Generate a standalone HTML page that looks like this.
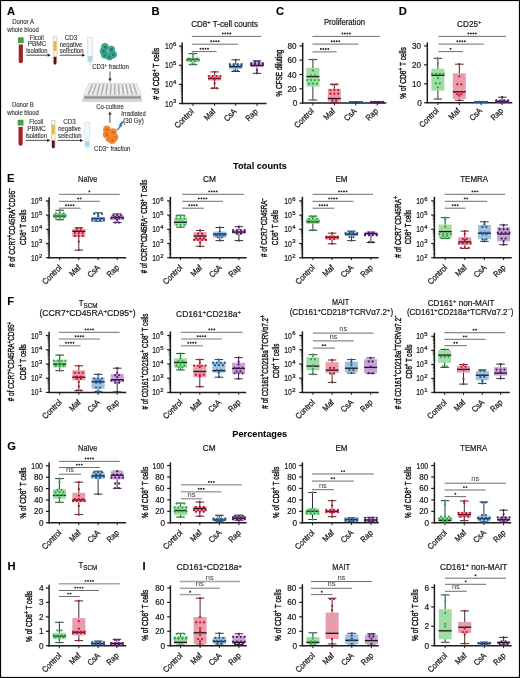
<!DOCTYPE html>
<html><head><meta charset="utf-8"><style>
html,body{margin:0;padding:0;background:#fff;}
svg{display:block;font-family:"Liberation Sans", sans-serif;will-change:transform;}
</style></head><body>
<svg width="520" height="678" viewBox="0 0 520 678">
<rect x="0" y="0" width="520" height="678" fill="#fff"/>
<text x="23.10" y="24.20" font-size="6.3" text-anchor="middle" fill="#333" stroke="#333" stroke-width="0.12" textLength="21.9" lengthAdjust="spacingAndGlyphs" ><tspan>Donor A</tspan></text>
<text x="23.00" y="31.50" font-size="6.3" text-anchor="middle" fill="#333" stroke="#333" stroke-width="0.12" textLength="31.5" lengthAdjust="spacingAndGlyphs" ><tspan>whole blood</tspan></text>
<rect x="17.90" y="37.20" width="5.8" height="6.0" rx="0.8" fill="#4e9e47"/>
<rect x="18.10" y="43.20" width="5.4" height="1.3" fill="#f3f3f3"/>
<path d="M18.70,44.60 h4.2 v16.6 a2.1,2.1 0 0 1 -4.2,0 Z" fill="#a3232b"/>
<text x="36.80" y="39.50" font-size="6.3" text-anchor="middle" fill="#333" stroke="#333" stroke-width="0.12" textLength="14.0" lengthAdjust="spacingAndGlyphs" ><tspan>Ficoll</tspan></text>
<text x="37.00" y="46.20" font-size="6.3" text-anchor="middle" fill="#333" stroke="#333" stroke-width="0.12" textLength="18.5" lengthAdjust="spacingAndGlyphs" ><tspan>PBMC</tspan></text>
<text x="36.90" y="52.50" font-size="6.3" text-anchor="middle" fill="#333" stroke="#333" stroke-width="0.12" textLength="21.2" lengthAdjust="spacingAndGlyphs" ><tspan>isolation</tspan></text>
<line x1="26.30" y1="55.20" x2="48.30" y2="55.20" stroke="#222" stroke-width="0.8" />
<path d="M50.80,55.20 L47.60,53.60 L47.60,56.80 Z" fill="#222"/>
<path d="M53.30,36.90 h3.5 v26.00 a1.75,1.75 0 0 1 -3.5,0 Z" fill="#fff" stroke="#9a9a9a" stroke-width="0.5"/>
<rect x="53.70" y="41.10" width="2.70" height="9.8" fill="#e9b73a"/>
<rect x="53.70" y="50.90" width="2.70" height="5.8" fill="#fbf3dc"/>
<path d="M53.70,56.70 h2.70 v6.40 a1.35,1.35 0 0 1 -2.70,0 Z" fill="#5a1018"/>
<text x="71.00" y="39.50" font-size="6.3" text-anchor="middle" fill="#333" stroke="#333" stroke-width="0.12" textLength="12.5" lengthAdjust="spacingAndGlyphs" ><tspan>CD3</tspan></text>
<text x="71.00" y="46.60" font-size="6.3" text-anchor="middle" fill="#333" stroke="#333" stroke-width="0.12" textLength="22.5" lengthAdjust="spacingAndGlyphs" ><tspan>negative</tspan></text>
<text x="71.60" y="52.80" font-size="6.3" text-anchor="middle" fill="#333" stroke="#333" stroke-width="0.12" textLength="23.8" lengthAdjust="spacingAndGlyphs" ><tspan>selection</tspan></text>
<line x1="59.70" y1="55.20" x2="82.70" y2="55.20" stroke="#222" stroke-width="0.8" />
<path d="M85.20,55.20 L82.00,53.60 L82.00,56.80 Z" fill="#222"/>
<rect x="87.60" y="37.40" width="5.0" height="24.5" fill="#f2f7fa" stroke="#c9d9e3" stroke-width="0.6"/>
<rect x="88.10" y="56.10" width="4.00" height="5.4" fill="#a9d8f2"/>
<path d="M89.40,61.90 h1.4 v3.3 h-1.4 Z" fill="#dde6ec"/>
<circle cx="104.80" cy="54.80" r="3.55" fill="#41ad96" stroke="#2a8c7b" stroke-width="0.6"/>
<circle cx="105.00" cy="55.00" r="1.67" fill="#167b6d"/>
<circle cx="109.40" cy="56.60" r="3.55" fill="#41ad96" stroke="#2a8c7b" stroke-width="0.6"/>
<circle cx="109.60" cy="56.80" r="1.67" fill="#167b6d"/>
<circle cx="113.10" cy="54.60" r="3.55" fill="#41ad96" stroke="#2a8c7b" stroke-width="0.6"/>
<circle cx="113.30" cy="54.80" r="1.67" fill="#167b6d"/>
<circle cx="103.50" cy="51.20" r="3.55" fill="#41ad96" stroke="#2a8c7b" stroke-width="0.6"/>
<circle cx="103.70" cy="51.40" r="1.67" fill="#167b6d"/>
<circle cx="111.20" cy="49.50" r="3.55" fill="#41ad96" stroke="#2a8c7b" stroke-width="0.6"/>
<circle cx="111.40" cy="49.70" r="1.67" fill="#167b6d"/>
<circle cx="104.90" cy="46.90" r="3.55" fill="#41ad96" stroke="#2a8c7b" stroke-width="0.6"/>
<circle cx="105.10" cy="47.10" r="1.67" fill="#167b6d"/>
<text x="110.50" y="69.10" font-size="6.3" text-anchor="middle" fill="#333" stroke="#333" stroke-width="0.12" textLength="36.6" lengthAdjust="spacingAndGlyphs" ><tspan>CD3</tspan><tspan dy="-1.89" font-size="4.54">+</tspan><tspan dy="1.89"> fraction</tspan></text>
<line x1="110.00" y1="71.50" x2="110.00" y2="79.30" stroke="#222" stroke-width="0.8" />
<path d="M110.00,81.80 L108.40,78.60 L111.60,78.60 Z" fill="#222"/>
<path d="M81.9,99.2 L142.5,99.2 L142.5,101.9 L81.9,101.9 Z" fill="#d9d9d9"/>
<path d="M83.6,95.6 L141.3,95.6 L141.3,99.4 L83.6,99.4 Z" fill="#bdbdbd"/>
<path d="M84.2,96.6 L140.8,96.6 L140.8,98.3 L84.2,98.3 Z" fill="#8f8f8f"/>
<path d="M88.8,83.1 L136.9,83.1 L141.3,95.6 L83.7,95.6 Z" fill="#ededed" stroke="#c4c4c4" stroke-width="0.5"/>
<line x1="92.46" y1="84.2" x2="88.21" y2="94.6" stroke="#adb2b2" stroke-width="1.6"/>
<line x1="96.17" y1="84.2" x2="92.62" y2="94.6" stroke="#adb2b2" stroke-width="1.6"/>
<line x1="99.89" y1="84.2" x2="97.04" y2="94.6" stroke="#adb2b2" stroke-width="1.6"/>
<line x1="103.61" y1="84.2" x2="101.46" y2="94.6" stroke="#adb2b2" stroke-width="1.6"/>
<line x1="107.32" y1="84.2" x2="105.88" y2="94.6" stroke="#adb2b2" stroke-width="1.6"/>
<line x1="111.04" y1="84.2" x2="110.29" y2="94.6" stroke="#adb2b2" stroke-width="1.6"/>
<line x1="114.76" y1="84.2" x2="114.71" y2="94.6" stroke="#adb2b2" stroke-width="1.6"/>
<line x1="118.47" y1="84.2" x2="119.12" y2="94.6" stroke="#adb2b2" stroke-width="1.6"/>
<line x1="122.19" y1="84.2" x2="123.54" y2="94.6" stroke="#adb2b2" stroke-width="1.6"/>
<line x1="125.91" y1="84.2" x2="127.96" y2="94.6" stroke="#adb2b2" stroke-width="1.6"/>
<line x1="129.62" y1="84.2" x2="132.38" y2="94.6" stroke="#adb2b2" stroke-width="1.6"/>
<line x1="133.34" y1="84.2" x2="136.79" y2="94.6" stroke="#adb2b2" stroke-width="1.6"/>
<text x="110.00" y="108.50" font-size="6.3" text-anchor="middle" fill="#333" stroke="#333" stroke-width="0.12" textLength="27.5" lengthAdjust="spacingAndGlyphs" ><tspan>Co-culture</tspan></text>
<text x="22.90" y="107.40" font-size="6.3" text-anchor="middle" fill="#333" stroke="#333" stroke-width="0.12" textLength="21.9" lengthAdjust="spacingAndGlyphs" ><tspan>Donor B</tspan></text>
<text x="23.00" y="114.90" font-size="6.3" text-anchor="middle" fill="#333" stroke="#333" stroke-width="0.12" textLength="31.5" lengthAdjust="spacingAndGlyphs" ><tspan>whole blood</tspan></text>
<rect x="17.70" y="119.70" width="5.8" height="6.0" rx="0.8" fill="#4e9e47"/>
<rect x="17.90" y="125.70" width="5.4" height="1.3" fill="#f3f3f3"/>
<path d="M18.50,127.10 h4.2 v16.6 a2.1,2.1 0 0 1 -4.2,0 Z" fill="#a3232b"/>
<text x="36.20" y="123.60" font-size="6.3" text-anchor="middle" fill="#333" stroke="#333" stroke-width="0.12" textLength="14.0" lengthAdjust="spacingAndGlyphs" ><tspan>Ficoll</tspan></text>
<text x="36.40" y="130.80" font-size="6.3" text-anchor="middle" fill="#333" stroke="#333" stroke-width="0.12" textLength="18.5" lengthAdjust="spacingAndGlyphs" ><tspan>PBMC</tspan></text>
<text x="36.30" y="137.90" font-size="6.3" text-anchor="middle" fill="#333" stroke="#333" stroke-width="0.12" textLength="21.2" lengthAdjust="spacingAndGlyphs" ><tspan>isolation</tspan></text>
<line x1="25.60" y1="140.40" x2="47.80" y2="140.40" stroke="#222" stroke-width="0.8" />
<path d="M50.30,140.40 L47.10,138.80 L47.10,142.00 Z" fill="#222"/>
<path d="M51.60,120.60 h3.5 v26.00 a1.75,1.75 0 0 1 -3.5,0 Z" fill="#fff" stroke="#9a9a9a" stroke-width="0.5"/>
<rect x="52.00" y="124.80" width="2.70" height="9.8" fill="#e9b73a"/>
<rect x="52.00" y="134.60" width="2.70" height="5.8" fill="#fbf3dc"/>
<path d="M52.00,140.40 h2.70 v6.40 a1.35,1.35 0 0 1 -2.70,0 Z" fill="#5a1018"/>
<text x="69.50" y="123.60" font-size="6.3" text-anchor="middle" fill="#333" stroke="#333" stroke-width="0.12" textLength="12.5" lengthAdjust="spacingAndGlyphs" ><tspan>CD3</tspan></text>
<text x="69.50" y="130.80" font-size="6.3" text-anchor="middle" fill="#333" stroke="#333" stroke-width="0.12" textLength="22.5" lengthAdjust="spacingAndGlyphs" ><tspan>negative</tspan></text>
<text x="69.80" y="137.90" font-size="6.3" text-anchor="middle" fill="#333" stroke="#333" stroke-width="0.12" textLength="23.8" lengthAdjust="spacingAndGlyphs" ><tspan>selection</tspan></text>
<line x1="57.60" y1="140.40" x2="80.70" y2="140.40" stroke="#222" stroke-width="0.8" />
<path d="M83.20,140.40 L80.00,138.80 L80.00,142.00 Z" fill="#222"/>
<rect x="84.80" y="122.40" width="5.0" height="24.5" fill="#f2f7fa" stroke="#c9d9e3" stroke-width="0.6"/>
<rect x="85.30" y="141.10" width="4.00" height="5.4" fill="#a9d8f2"/>
<path d="M86.60,146.90 h1.4 v3.3 h-1.4 Z" fill="#dde6ec"/>
<circle cx="109.50" cy="138.60" r="3.55" fill="#f28d2e" stroke="#e9822a" stroke-width="0.6"/>
<circle cx="109.70" cy="138.80" r="1.67" fill="#e0661c"/>
<circle cx="106.60" cy="134.60" r="3.55" fill="#f28d2e" stroke="#e9822a" stroke-width="0.6"/>
<circle cx="106.80" cy="134.80" r="1.67" fill="#e0661c"/>
<circle cx="114.60" cy="137.40" r="3.55" fill="#f28d2e" stroke="#e9822a" stroke-width="0.6"/>
<circle cx="114.80" cy="137.60" r="1.67" fill="#e0661c"/>
<circle cx="112.30" cy="140.20" r="3.55" fill="#f28d2e" stroke="#e9822a" stroke-width="0.6"/>
<circle cx="112.50" cy="140.40" r="1.67" fill="#e0661c"/>
<circle cx="113.10" cy="132.10" r="3.55" fill="#f28d2e" stroke="#e9822a" stroke-width="0.6"/>
<circle cx="113.30" cy="132.30" r="1.67" fill="#e0661c"/>
<circle cx="106.90" cy="129.40" r="3.55" fill="#f28d2e" stroke="#e9822a" stroke-width="0.6"/>
<circle cx="107.10" cy="129.60" r="1.67" fill="#e0661c"/>
<text x="112.20" y="151.00" font-size="6.3" text-anchor="middle" fill="#333" stroke="#333" stroke-width="0.12" textLength="36.4" lengthAdjust="spacingAndGlyphs" ><tspan>CD3</tspan><tspan dy="-1.89" font-size="4.54">−</tspan><tspan dy="1.89"> fraction</tspan></text>
<line x1="109.90" y1="123.00" x2="109.90" y2="113.90" stroke="#222" stroke-width="0.8" />
<path d="M109.90,111.40 L108.30,114.60 L111.50,114.60 Z" fill="#222"/>
<text x="133.50" y="115.50" font-size="6.3" text-anchor="middle" fill="#333" stroke="#333" stroke-width="0.12" textLength="24.6" lengthAdjust="spacingAndGlyphs" ><tspan>Irradiated</tspan></text>
<text x="133.45" y="122.80" font-size="6.3" text-anchor="middle" fill="#333" stroke="#333" stroke-width="0.12" textLength="20.6" lengthAdjust="spacingAndGlyphs" ><tspan>(30 Gy)</tspan></text>
<path d="M123.9,121.5 L121.5,121.9 L119.0,126.0 L120.5,125.8 L116.7,130.0 L117.7,130.0 L122.2,125.0 L120.7,125.2 Z" fill="#1d6496" stroke="#1d6496" stroke-width="0.5" stroke-linejoin="round"/>
<line x1="182.20" y1="42.50" x2="182.20" y2="104.20" stroke="#1c1c1c" stroke-width="1.5" />
<line x1="181.50" y1="103.50" x2="266.50" y2="103.50" stroke="#1c1c1c" stroke-width="1.5" />
<line x1="179.00" y1="46.10" x2="182.20" y2="46.10" stroke="#1c1c1c" stroke-width="1.2" />
<text x="172.70" y="49.10" font-size="8.6" text-anchor="end" fill="#1a1a1a" stroke="#1a1a1a" stroke-width="0.22" textLength="7.6" lengthAdjust="spacingAndGlyphs" ><tspan>10</tspan></text>
<text x="176.30" y="45.90" font-size="5.9" text-anchor="end" fill="#1a1a1a" stroke="#1a1a1a" stroke-width="0.22" ><tspan>6</tspan></text>
<line x1="179.00" y1="65.23" x2="182.20" y2="65.23" stroke="#1c1c1c" stroke-width="1.2" />
<text x="172.70" y="68.23" font-size="8.6" text-anchor="end" fill="#1a1a1a" stroke="#1a1a1a" stroke-width="0.22" textLength="7.6" lengthAdjust="spacingAndGlyphs" ><tspan>10</tspan></text>
<text x="176.30" y="65.03" font-size="5.9" text-anchor="end" fill="#1a1a1a" stroke="#1a1a1a" stroke-width="0.22" ><tspan>5</tspan></text>
<line x1="179.00" y1="84.37" x2="182.20" y2="84.37" stroke="#1c1c1c" stroke-width="1.2" />
<text x="172.70" y="87.37" font-size="8.6" text-anchor="end" fill="#1a1a1a" stroke="#1a1a1a" stroke-width="0.22" textLength="7.6" lengthAdjust="spacingAndGlyphs" ><tspan>10</tspan></text>
<text x="176.30" y="84.17" font-size="5.9" text-anchor="end" fill="#1a1a1a" stroke="#1a1a1a" stroke-width="0.22" ><tspan>4</tspan></text>
<line x1="179.00" y1="103.50" x2="182.20" y2="103.50" stroke="#1c1c1c" stroke-width="1.2" />
<text x="172.70" y="106.50" font-size="8.6" text-anchor="end" fill="#1a1a1a" stroke="#1a1a1a" stroke-width="0.22" textLength="7.6" lengthAdjust="spacingAndGlyphs" ><tspan>10</tspan></text>
<text x="176.30" y="103.30" font-size="5.9" text-anchor="end" fill="#1a1a1a" stroke="#1a1a1a" stroke-width="0.22" ><tspan>3</tspan></text>
<line x1="180.60" y1="59.47" x2="182.20" y2="59.47" stroke="#1c1c1c" stroke-width="0.6" />
<line x1="180.60" y1="56.10" x2="182.20" y2="56.10" stroke="#1c1c1c" stroke-width="0.6" />
<line x1="180.60" y1="53.71" x2="182.20" y2="53.71" stroke="#1c1c1c" stroke-width="0.6" />
<line x1="180.60" y1="51.86" x2="182.20" y2="51.86" stroke="#1c1c1c" stroke-width="0.6" />
<line x1="180.60" y1="50.34" x2="182.20" y2="50.34" stroke="#1c1c1c" stroke-width="0.6" />
<line x1="180.60" y1="49.06" x2="182.20" y2="49.06" stroke="#1c1c1c" stroke-width="0.6" />
<line x1="180.60" y1="47.95" x2="182.20" y2="47.95" stroke="#1c1c1c" stroke-width="0.6" />
<line x1="180.60" y1="46.98" x2="182.20" y2="46.98" stroke="#1c1c1c" stroke-width="0.6" />
<line x1="180.60" y1="78.61" x2="182.20" y2="78.61" stroke="#1c1c1c" stroke-width="0.6" />
<line x1="180.60" y1="75.24" x2="182.20" y2="75.24" stroke="#1c1c1c" stroke-width="0.6" />
<line x1="180.60" y1="72.85" x2="182.20" y2="72.85" stroke="#1c1c1c" stroke-width="0.6" />
<line x1="180.60" y1="70.99" x2="182.20" y2="70.99" stroke="#1c1c1c" stroke-width="0.6" />
<line x1="180.60" y1="69.48" x2="182.20" y2="69.48" stroke="#1c1c1c" stroke-width="0.6" />
<line x1="180.60" y1="68.20" x2="182.20" y2="68.20" stroke="#1c1c1c" stroke-width="0.6" />
<line x1="180.60" y1="67.09" x2="182.20" y2="67.09" stroke="#1c1c1c" stroke-width="0.6" />
<line x1="180.60" y1="66.11" x2="182.20" y2="66.11" stroke="#1c1c1c" stroke-width="0.6" />
<line x1="180.60" y1="97.74" x2="182.20" y2="97.74" stroke="#1c1c1c" stroke-width="0.6" />
<line x1="180.60" y1="94.37" x2="182.20" y2="94.37" stroke="#1c1c1c" stroke-width="0.6" />
<line x1="180.60" y1="91.98" x2="182.20" y2="91.98" stroke="#1c1c1c" stroke-width="0.6" />
<line x1="180.60" y1="90.13" x2="182.20" y2="90.13" stroke="#1c1c1c" stroke-width="0.6" />
<line x1="180.60" y1="88.61" x2="182.20" y2="88.61" stroke="#1c1c1c" stroke-width="0.6" />
<line x1="180.60" y1="87.33" x2="182.20" y2="87.33" stroke="#1c1c1c" stroke-width="0.6" />
<line x1="180.60" y1="86.22" x2="182.20" y2="86.22" stroke="#1c1c1c" stroke-width="0.6" />
<line x1="180.60" y1="85.24" x2="182.20" y2="85.24" stroke="#1c1c1c" stroke-width="0.6" />
<line x1="193.00" y1="103.50" x2="193.00" y2="105.90" stroke="#1c1c1c" stroke-width="1.0" />
<text transform="translate(194.40,112.10) rotate(-45)" font-size="8.3" text-anchor="end" fill="#1a1a1a" stroke="#1a1a1a" stroke-width="0.26" textLength="23.6" lengthAdjust="spacingAndGlyphs" ><tspan>Control</tspan></text>
<line x1="214.60" y1="103.50" x2="214.60" y2="105.90" stroke="#1c1c1c" stroke-width="1.0" />
<text transform="translate(216.00,112.10) rotate(-45)" font-size="8.3" text-anchor="end" fill="#1a1a1a" stroke="#1a1a1a" stroke-width="0.26" textLength="12.5" lengthAdjust="spacingAndGlyphs" ><tspan>Maf</tspan></text>
<line x1="235.70" y1="103.50" x2="235.70" y2="105.90" stroke="#1c1c1c" stroke-width="1.0" />
<text transform="translate(237.10,112.10) rotate(-45)" font-size="8.3" text-anchor="end" fill="#1a1a1a" stroke="#1a1a1a" stroke-width="0.26" textLength="14.0" lengthAdjust="spacingAndGlyphs" ><tspan>CsA</tspan></text>
<line x1="257.00" y1="103.50" x2="257.00" y2="105.90" stroke="#1c1c1c" stroke-width="1.0" />
<text transform="translate(258.40,112.10) rotate(-45)" font-size="8.3" text-anchor="end" fill="#1a1a1a" stroke="#1a1a1a" stroke-width="0.26" textLength="13.6" lengthAdjust="spacingAndGlyphs" ><tspan>Rap</tspan></text>
<text x="224.65" y="26.80" font-size="8.56" text-anchor="middle" fill="#1a1a1a" stroke="#1a1a1a" stroke-width="0.22" textLength="66.9" lengthAdjust="spacingAndGlyphs" ><tspan>CD8</tspan><tspan dy="-2.57" font-size="6.16">+</tspan><tspan dy="2.57"> T-cell counts</tspan></text>
<text transform="translate(159.40,73.70) rotate(-90) scale(1,1.28)" font-size="7.2" text-anchor="middle" fill="#111" stroke="#111" stroke-width="0.3" textLength="52" lengthAdjust="spacingAndGlyphs" ><tspan># of CD8</tspan><tspan dy="-2.16" font-size="5.18">+</tspan><tspan dy="2.16"> T cells</tspan></text>
<line x1="191.80" y1="36.40" x2="261.30" y2="36.40" stroke="#5c5c5c" stroke-width="0.9" />
<circle cx="222.80" cy="33.50" r="0.95" fill="#222"/>
<circle cx="225.30" cy="33.50" r="0.95" fill="#222"/>
<circle cx="227.80" cy="33.50" r="0.95" fill="#222"/>
<circle cx="230.30" cy="33.50" r="0.95" fill="#222"/>
<line x1="191.80" y1="44.20" x2="238.00" y2="44.20" stroke="#5c5c5c" stroke-width="0.9" />
<circle cx="211.15" cy="41.30" r="0.95" fill="#222"/>
<circle cx="213.65" cy="41.30" r="0.95" fill="#222"/>
<circle cx="216.15" cy="41.30" r="0.95" fill="#222"/>
<circle cx="218.65" cy="41.30" r="0.95" fill="#222"/>
<line x1="191.80" y1="51.60" x2="216.70" y2="51.60" stroke="#5c5c5c" stroke-width="0.9" />
<circle cx="200.50" cy="48.70" r="0.95" fill="#222"/>
<circle cx="203.00" cy="48.70" r="0.95" fill="#222"/>
<circle cx="205.50" cy="48.70" r="0.95" fill="#222"/>
<circle cx="208.00" cy="48.70" r="0.95" fill="#222"/>
<line x1="193.00" y1="53.70" x2="193.00" y2="64.60" stroke="#333" stroke-width="1.0" />
<line x1="188.70" y1="53.70" x2="197.30" y2="53.70" stroke="#333" stroke-width="1.0" />
<line x1="188.70" y1="64.60" x2="197.30" y2="64.60" stroke="#333" stroke-width="1.0" />
<rect x="186.50" y="57.70" width="13.00" height="4.30" fill="#a3dba6" />
<line x1="186.50" y1="59.40" x2="199.50" y2="59.40" stroke="#1e1e1e" stroke-width="1.35" />
<circle cx="193.00" cy="53.70" r="1.15" fill="#27b040"/>
<circle cx="189.10" cy="58.55" r="1.15" fill="#27b040"/>
<circle cx="193.00" cy="58.55" r="1.15" fill="#27b040"/>
<circle cx="196.90" cy="58.55" r="1.15" fill="#27b040"/>
<circle cx="187.15" cy="60.15" r="1.15" fill="#27b040"/>
<circle cx="191.05" cy="60.15" r="1.15" fill="#27b040"/>
<circle cx="194.95" cy="60.15" r="1.15" fill="#27b040"/>
<circle cx="198.85" cy="60.15" r="1.15" fill="#27b040"/>
<circle cx="191.05" cy="61.15" r="1.15" fill="#27b040"/>
<circle cx="194.95" cy="61.15" r="1.15" fill="#27b040"/>
<circle cx="191.05" cy="64.41" r="1.15" fill="#27b040"/>
<circle cx="194.95" cy="64.41" r="1.15" fill="#27b040"/>
<line x1="214.60" y1="71.90" x2="214.60" y2="88.30" stroke="#333" stroke-width="1.0" />
<line x1="210.30" y1="71.90" x2="218.90" y2="71.90" stroke="#333" stroke-width="1.0" />
<line x1="210.30" y1="88.30" x2="218.90" y2="88.30" stroke="#333" stroke-width="1.0" />
<rect x="208.10" y="75.30" width="13.00" height="5.20" fill="#e89dac" />
<line x1="208.10" y1="78.50" x2="221.10" y2="78.50" stroke="#1e1e1e" stroke-width="1.35" />
<circle cx="214.60" cy="71.90" r="1.15" fill="#d0102e"/>
<circle cx="208.75" cy="76.07" r="1.15" fill="#d0102e"/>
<circle cx="212.65" cy="76.07" r="1.15" fill="#d0102e"/>
<circle cx="216.55" cy="76.07" r="1.15" fill="#d0102e"/>
<circle cx="220.45" cy="76.07" r="1.15" fill="#d0102e"/>
<circle cx="210.70" cy="78.36" r="1.15" fill="#d0102e"/>
<circle cx="214.60" cy="78.36" r="1.15" fill="#d0102e"/>
<circle cx="218.50" cy="78.36" r="1.15" fill="#d0102e"/>
<circle cx="214.60" cy="79.68" r="1.15" fill="#d0102e"/>
<circle cx="214.60" cy="83.51" r="1.15" fill="#d0102e"/>
<circle cx="212.65" cy="88.26" r="1.15" fill="#d0102e"/>
<circle cx="216.55" cy="88.26" r="1.15" fill="#d0102e"/>
<line x1="235.70" y1="59.80" x2="235.70" y2="71.50" stroke="#333" stroke-width="1.0" />
<line x1="231.40" y1="59.80" x2="240.00" y2="59.80" stroke="#333" stroke-width="1.0" />
<line x1="231.40" y1="71.50" x2="240.00" y2="71.50" stroke="#333" stroke-width="1.0" />
<rect x="229.20" y="64.30" width="13.00" height="4.60" fill="#a2bfdc" />
<line x1="229.20" y1="66.70" x2="242.20" y2="66.70" stroke="#1e1e1e" stroke-width="1.35" />
<circle cx="235.70" cy="59.80" r="1.15" fill="#1b5d9c"/>
<circle cx="229.85" cy="64.05" r="1.15" fill="#1b5d9c"/>
<circle cx="233.75" cy="64.05" r="1.15" fill="#1b5d9c"/>
<circle cx="237.65" cy="64.05" r="1.15" fill="#1b5d9c"/>
<circle cx="241.55" cy="64.05" r="1.15" fill="#1b5d9c"/>
<circle cx="229.85" cy="65.14" r="1.15" fill="#1b5d9c"/>
<circle cx="233.75" cy="65.14" r="1.15" fill="#1b5d9c"/>
<circle cx="237.65" cy="65.14" r="1.15" fill="#1b5d9c"/>
<circle cx="241.55" cy="65.14" r="1.15" fill="#1b5d9c"/>
<circle cx="235.70" cy="67.20" r="1.15" fill="#1b5d9c"/>
<circle cx="233.75" cy="70.61" r="1.15" fill="#1b5d9c"/>
<circle cx="237.65" cy="70.61" r="1.15" fill="#1b5d9c"/>
<line x1="257.00" y1="60.80" x2="257.00" y2="73.30" stroke="#333" stroke-width="1.0" />
<line x1="252.70" y1="60.80" x2="261.30" y2="60.80" stroke="#333" stroke-width="1.0" />
<line x1="252.70" y1="73.30" x2="261.30" y2="73.30" stroke="#333" stroke-width="1.0" />
<rect x="250.50" y="62.00" width="13.00" height="5.20" fill="#c6a5d3" />
<line x1="250.50" y1="65.50" x2="263.50" y2="65.50" stroke="#1e1e1e" stroke-width="1.35" />
<circle cx="255.05" cy="61.56" r="1.15" fill="#5a1872"/>
<circle cx="258.95" cy="61.56" r="1.15" fill="#5a1872"/>
<circle cx="251.15" cy="63.36" r="1.15" fill="#5a1872"/>
<circle cx="255.05" cy="63.36" r="1.15" fill="#5a1872"/>
<circle cx="258.95" cy="63.36" r="1.15" fill="#5a1872"/>
<circle cx="262.85" cy="63.36" r="1.15" fill="#5a1872"/>
<circle cx="251.15" cy="64.92" r="1.15" fill="#5a1872"/>
<circle cx="255.05" cy="64.92" r="1.15" fill="#5a1872"/>
<circle cx="258.95" cy="64.92" r="1.15" fill="#5a1872"/>
<circle cx="262.85" cy="64.92" r="1.15" fill="#5a1872"/>
<circle cx="257.00" cy="70.28" r="1.15" fill="#5a1872"/>
<circle cx="257.00" cy="73.30" r="1.15" fill="#5a1872"/>
<line x1="302.70" y1="42.80" x2="302.70" y2="103.80" stroke="#1c1c1c" stroke-width="1.5" />
<line x1="302.00" y1="103.10" x2="386.30" y2="103.10" stroke="#1c1c1c" stroke-width="1.5" />
<line x1="299.50" y1="45.90" x2="302.70" y2="45.90" stroke="#1c1c1c" stroke-width="1.2" />
<text x="296.50" y="48.90" font-size="8.6" text-anchor="end" fill="#1a1a1a" stroke="#1a1a1a" stroke-width="0.22" textLength="9.0" lengthAdjust="spacingAndGlyphs" ><tspan>80</tspan></text>
<line x1="299.50" y1="60.20" x2="302.70" y2="60.20" stroke="#1c1c1c" stroke-width="1.2" />
<text x="296.50" y="63.20" font-size="8.6" text-anchor="end" fill="#1a1a1a" stroke="#1a1a1a" stroke-width="0.22" textLength="9.0" lengthAdjust="spacingAndGlyphs" ><tspan>60</tspan></text>
<line x1="299.50" y1="74.50" x2="302.70" y2="74.50" stroke="#1c1c1c" stroke-width="1.2" />
<text x="296.50" y="77.50" font-size="8.6" text-anchor="end" fill="#1a1a1a" stroke="#1a1a1a" stroke-width="0.22" textLength="9.0" lengthAdjust="spacingAndGlyphs" ><tspan>40</tspan></text>
<line x1="299.50" y1="88.80" x2="302.70" y2="88.80" stroke="#1c1c1c" stroke-width="1.2" />
<text x="296.50" y="91.80" font-size="8.6" text-anchor="end" fill="#1a1a1a" stroke="#1a1a1a" stroke-width="0.22" textLength="9.0" lengthAdjust="spacingAndGlyphs" ><tspan>20</tspan></text>
<line x1="299.50" y1="103.10" x2="302.70" y2="103.10" stroke="#1c1c1c" stroke-width="1.2" />
<text x="297.30" y="106.10" font-size="8.6" text-anchor="end" fill="#1a1a1a" stroke="#1a1a1a" stroke-width="0.22" textLength="4.6" lengthAdjust="spacingAndGlyphs" ><tspan>0</tspan></text>
<line x1="312.90" y1="103.10" x2="312.90" y2="105.50" stroke="#1c1c1c" stroke-width="1.0" />
<text transform="translate(314.30,111.70) rotate(-45)" font-size="8.3" text-anchor="end" fill="#1a1a1a" stroke="#1a1a1a" stroke-width="0.26" textLength="23.6" lengthAdjust="spacingAndGlyphs" ><tspan>Control</tspan></text>
<line x1="334.30" y1="103.10" x2="334.30" y2="105.50" stroke="#1c1c1c" stroke-width="1.0" />
<text transform="translate(335.70,111.70) rotate(-45)" font-size="8.3" text-anchor="end" fill="#1a1a1a" stroke="#1a1a1a" stroke-width="0.26" textLength="12.5" lengthAdjust="spacingAndGlyphs" ><tspan>Maf</tspan></text>
<line x1="355.80" y1="103.10" x2="355.80" y2="105.50" stroke="#1c1c1c" stroke-width="1.0" />
<text transform="translate(357.20,111.70) rotate(-45)" font-size="8.3" text-anchor="end" fill="#1a1a1a" stroke="#1a1a1a" stroke-width="0.26" textLength="14.0" lengthAdjust="spacingAndGlyphs" ><tspan>CsA</tspan></text>
<line x1="377.20" y1="103.10" x2="377.20" y2="105.50" stroke="#1c1c1c" stroke-width="1.0" />
<text transform="translate(378.60,111.70) rotate(-45)" font-size="8.3" text-anchor="end" fill="#1a1a1a" stroke="#1a1a1a" stroke-width="0.26" textLength="13.6" lengthAdjust="spacingAndGlyphs" ><tspan>Rap</tspan></text>
<text x="344.45" y="25.00" font-size="8.56" text-anchor="middle" fill="#1a1a1a" stroke="#1a1a1a" stroke-width="0.22" textLength="41.1" lengthAdjust="spacingAndGlyphs" ><tspan>Proliferation</tspan></text>
<text transform="translate(281.70,73.10) rotate(-90) scale(1,1.28)" font-size="7.2" text-anchor="middle" fill="#111" stroke="#111" stroke-width="0.3" textLength="47" lengthAdjust="spacingAndGlyphs" ><tspan>% CFSE diluting</tspan></text>
<line x1="312.40" y1="36.40" x2="380.00" y2="36.40" stroke="#5c5c5c" stroke-width="0.9" />
<circle cx="342.45" cy="33.50" r="0.95" fill="#222"/>
<circle cx="344.95" cy="33.50" r="0.95" fill="#222"/>
<circle cx="347.45" cy="33.50" r="0.95" fill="#222"/>
<circle cx="349.95" cy="33.50" r="0.95" fill="#222"/>
<line x1="312.40" y1="44.10" x2="358.40" y2="44.10" stroke="#5c5c5c" stroke-width="0.9" />
<circle cx="331.65" cy="41.20" r="0.95" fill="#222"/>
<circle cx="334.15" cy="41.20" r="0.95" fill="#222"/>
<circle cx="336.65" cy="41.20" r="0.95" fill="#222"/>
<circle cx="339.15" cy="41.20" r="0.95" fill="#222"/>
<line x1="312.40" y1="51.90" x2="336.70" y2="51.90" stroke="#5c5c5c" stroke-width="0.9" />
<circle cx="320.80" cy="49.00" r="0.95" fill="#222"/>
<circle cx="323.30" cy="49.00" r="0.95" fill="#222"/>
<circle cx="325.80" cy="49.00" r="0.95" fill="#222"/>
<circle cx="328.30" cy="49.00" r="0.95" fill="#222"/>
<line x1="312.90" y1="59.60" x2="312.90" y2="100.00" stroke="#333" stroke-width="1.0" />
<line x1="308.60" y1="59.60" x2="317.20" y2="59.60" stroke="#333" stroke-width="1.0" />
<line x1="308.60" y1="100.00" x2="317.20" y2="100.00" stroke="#333" stroke-width="1.0" />
<rect x="306.40" y="67.80" width="13.00" height="18.80" fill="#a3dba6" />
<line x1="306.40" y1="76.60" x2="319.40" y2="76.60" stroke="#1e1e1e" stroke-width="1.35" />
<circle cx="312.90" cy="59.60" r="1.15" fill="#27b040"/>
<circle cx="312.90" cy="70.48" r="1.15" fill="#27b040"/>
<circle cx="310.95" cy="75.46" r="1.15" fill="#27b040"/>
<circle cx="314.85" cy="75.46" r="1.15" fill="#27b040"/>
<circle cx="307.05" cy="80.05" r="1.15" fill="#27b040"/>
<circle cx="310.95" cy="80.05" r="1.15" fill="#27b040"/>
<circle cx="314.85" cy="80.05" r="1.15" fill="#27b040"/>
<circle cx="318.75" cy="80.05" r="1.15" fill="#27b040"/>
<circle cx="309.00" cy="83.69" r="1.15" fill="#27b040"/>
<circle cx="312.90" cy="83.69" r="1.15" fill="#27b040"/>
<circle cx="316.80" cy="83.69" r="1.15" fill="#27b040"/>
<circle cx="312.90" cy="100.00" r="1.15" fill="#27b040"/>
<line x1="334.30" y1="84.30" x2="334.30" y2="102.60" stroke="#333" stroke-width="1.0" />
<line x1="330.00" y1="84.30" x2="338.60" y2="84.30" stroke="#333" stroke-width="1.0" />
<line x1="330.00" y1="102.60" x2="338.60" y2="102.60" stroke="#333" stroke-width="1.0" />
<rect x="327.80" y="88.80" width="13.00" height="12.80" fill="#e89dac" />
<line x1="327.80" y1="98.50" x2="340.80" y2="98.50" stroke="#1e1e1e" stroke-width="1.35" />
<circle cx="332.35" cy="84.47" r="1.15" fill="#d0102e"/>
<circle cx="336.25" cy="84.47" r="1.15" fill="#d0102e"/>
<circle cx="330.40" cy="90.10" r="1.15" fill="#d0102e"/>
<circle cx="334.30" cy="90.10" r="1.15" fill="#d0102e"/>
<circle cx="338.20" cy="90.10" r="1.15" fill="#d0102e"/>
<circle cx="330.40" cy="93.67" r="1.15" fill="#d0102e"/>
<circle cx="334.30" cy="93.67" r="1.15" fill="#d0102e"/>
<circle cx="338.20" cy="93.67" r="1.15" fill="#d0102e"/>
<circle cx="332.35" cy="99.88" r="1.15" fill="#d0102e"/>
<circle cx="336.25" cy="99.88" r="1.15" fill="#d0102e"/>
<circle cx="332.35" cy="102.11" r="1.15" fill="#d0102e"/>
<circle cx="336.25" cy="102.11" r="1.15" fill="#d0102e"/>
<line x1="355.80" y1="102.00" x2="355.80" y2="102.60" stroke="#333" stroke-width="1.0" />
<line x1="351.50" y1="102.00" x2="360.10" y2="102.00" stroke="#333" stroke-width="1.0" />
<line x1="351.50" y1="102.60" x2="360.10" y2="102.60" stroke="#333" stroke-width="1.0" />
<rect x="349.30" y="102.00" width="13.00" height="0.60" fill="#a2bfdc" />
<line x1="349.30" y1="102.30" x2="362.30" y2="102.30" stroke="#1e1e1e" stroke-width="1.35" />
<circle cx="349.95" cy="102.09" r="1.15" fill="#1b5d9c"/>
<circle cx="353.85" cy="102.09" r="1.15" fill="#1b5d9c"/>
<circle cx="357.75" cy="102.09" r="1.15" fill="#1b5d9c"/>
<circle cx="361.65" cy="102.09" r="1.15" fill="#1b5d9c"/>
<circle cx="349.95" cy="102.29" r="1.15" fill="#1b5d9c"/>
<circle cx="353.85" cy="102.29" r="1.15" fill="#1b5d9c"/>
<circle cx="357.75" cy="102.29" r="1.15" fill="#1b5d9c"/>
<circle cx="361.65" cy="102.29" r="1.15" fill="#1b5d9c"/>
<circle cx="349.95" cy="102.50" r="1.15" fill="#1b5d9c"/>
<circle cx="353.85" cy="102.50" r="1.15" fill="#1b5d9c"/>
<circle cx="357.75" cy="102.50" r="1.15" fill="#1b5d9c"/>
<circle cx="361.65" cy="102.50" r="1.15" fill="#1b5d9c"/>
<line x1="377.20" y1="101.80" x2="377.20" y2="102.60" stroke="#333" stroke-width="1.0" />
<line x1="372.90" y1="101.80" x2="381.50" y2="101.80" stroke="#333" stroke-width="1.0" />
<line x1="372.90" y1="102.60" x2="381.50" y2="102.60" stroke="#333" stroke-width="1.0" />
<rect x="370.70" y="101.80" width="13.00" height="0.80" fill="#c6a5d3" />
<line x1="370.70" y1="102.20" x2="383.70" y2="102.20" stroke="#1e1e1e" stroke-width="1.35" />
<circle cx="371.35" cy="102.00" r="1.15" fill="#5a1872"/>
<circle cx="375.25" cy="102.00" r="1.15" fill="#5a1872"/>
<circle cx="379.15" cy="102.00" r="1.15" fill="#5a1872"/>
<circle cx="383.05" cy="102.00" r="1.15" fill="#5a1872"/>
<circle cx="371.35" cy="102.23" r="1.15" fill="#5a1872"/>
<circle cx="375.25" cy="102.23" r="1.15" fill="#5a1872"/>
<circle cx="379.15" cy="102.23" r="1.15" fill="#5a1872"/>
<circle cx="383.05" cy="102.23" r="1.15" fill="#5a1872"/>
<circle cx="371.35" cy="102.46" r="1.15" fill="#5a1872"/>
<circle cx="375.25" cy="102.46" r="1.15" fill="#5a1872"/>
<circle cx="379.15" cy="102.46" r="1.15" fill="#5a1872"/>
<circle cx="383.05" cy="102.46" r="1.15" fill="#5a1872"/>
<line x1="427.30" y1="42.40" x2="427.30" y2="103.40" stroke="#1c1c1c" stroke-width="1.5" />
<line x1="426.60" y1="102.70" x2="512.30" y2="102.70" stroke="#1c1c1c" stroke-width="1.5" />
<line x1="424.10" y1="45.90" x2="427.30" y2="45.90" stroke="#1c1c1c" stroke-width="1.2" />
<text x="421.10" y="48.90" font-size="8.6" text-anchor="end" fill="#1a1a1a" stroke="#1a1a1a" stroke-width="0.22" textLength="9.0" lengthAdjust="spacingAndGlyphs" ><tspan>30</tspan></text>
<line x1="424.10" y1="64.83" x2="427.30" y2="64.83" stroke="#1c1c1c" stroke-width="1.2" />
<text x="421.10" y="67.83" font-size="8.6" text-anchor="end" fill="#1a1a1a" stroke="#1a1a1a" stroke-width="0.22" textLength="9.0" lengthAdjust="spacingAndGlyphs" ><tspan>20</tspan></text>
<line x1="424.10" y1="83.77" x2="427.30" y2="83.77" stroke="#1c1c1c" stroke-width="1.2" />
<text x="421.10" y="86.77" font-size="8.6" text-anchor="end" fill="#1a1a1a" stroke="#1a1a1a" stroke-width="0.22" textLength="9.0" lengthAdjust="spacingAndGlyphs" ><tspan>10</tspan></text>
<line x1="424.10" y1="102.70" x2="427.30" y2="102.70" stroke="#1c1c1c" stroke-width="1.2" />
<text x="421.90" y="105.70" font-size="8.6" text-anchor="end" fill="#1a1a1a" stroke="#1a1a1a" stroke-width="0.22" textLength="4.6" lengthAdjust="spacingAndGlyphs" ><tspan>0</tspan></text>
<line x1="437.90" y1="102.70" x2="437.90" y2="105.10" stroke="#1c1c1c" stroke-width="1.0" />
<text transform="translate(439.30,111.30) rotate(-45)" font-size="8.3" text-anchor="end" fill="#1a1a1a" stroke="#1a1a1a" stroke-width="0.26" textLength="23.6" lengthAdjust="spacingAndGlyphs" ><tspan>Control</tspan></text>
<line x1="459.30" y1="102.70" x2="459.30" y2="105.10" stroke="#1c1c1c" stroke-width="1.0" />
<text transform="translate(460.70,111.30) rotate(-45)" font-size="8.3" text-anchor="end" fill="#1a1a1a" stroke="#1a1a1a" stroke-width="0.26" textLength="12.5" lengthAdjust="spacingAndGlyphs" ><tspan>Maf</tspan></text>
<line x1="481.20" y1="102.70" x2="481.20" y2="105.10" stroke="#1c1c1c" stroke-width="1.0" />
<text transform="translate(482.60,111.30) rotate(-45)" font-size="8.3" text-anchor="end" fill="#1a1a1a" stroke="#1a1a1a" stroke-width="0.26" textLength="14.0" lengthAdjust="spacingAndGlyphs" ><tspan>CsA</tspan></text>
<line x1="502.20" y1="102.70" x2="502.20" y2="105.10" stroke="#1c1c1c" stroke-width="1.0" />
<text transform="translate(503.60,111.30) rotate(-45)" font-size="8.3" text-anchor="end" fill="#1a1a1a" stroke="#1a1a1a" stroke-width="0.26" textLength="13.6" lengthAdjust="spacingAndGlyphs" ><tspan>Rap</tspan></text>
<text x="469.30" y="26.50" font-size="8.56" text-anchor="middle" fill="#1a1a1a" stroke="#1a1a1a" stroke-width="0.22" textLength="24.4" lengthAdjust="spacingAndGlyphs" ><tspan>CD25</tspan><tspan dy="-2.57" font-size="6.16">+</tspan></text>
<text transform="translate(406.00,72.90) rotate(-90) scale(1,1.28)" font-size="7.2" text-anchor="middle" fill="#111" stroke="#111" stroke-width="0.3" textLength="51.5" lengthAdjust="spacingAndGlyphs" ><tspan>% of CD8</tspan><tspan dy="-2.16" font-size="5.18">+</tspan><tspan dy="2.16"> T cells</tspan></text>
<line x1="438.30" y1="36.40" x2="505.90" y2="36.40" stroke="#5c5c5c" stroke-width="0.9" />
<circle cx="468.35" cy="33.50" r="0.95" fill="#222"/>
<circle cx="470.85" cy="33.50" r="0.95" fill="#222"/>
<circle cx="473.35" cy="33.50" r="0.95" fill="#222"/>
<circle cx="475.85" cy="33.50" r="0.95" fill="#222"/>
<line x1="438.30" y1="44.10" x2="483.90" y2="44.10" stroke="#5c5c5c" stroke-width="0.9" />
<circle cx="457.35" cy="41.20" r="0.95" fill="#222"/>
<circle cx="459.85" cy="41.20" r="0.95" fill="#222"/>
<circle cx="462.35" cy="41.20" r="0.95" fill="#222"/>
<circle cx="464.85" cy="41.20" r="0.95" fill="#222"/>
<line x1="438.30" y1="51.60" x2="462.90" y2="51.60" stroke="#5c5c5c" stroke-width="0.9" />
<circle cx="450.60" cy="48.70" r="0.95" fill="#222"/>
<line x1="437.90" y1="58.30" x2="437.90" y2="99.00" stroke="#333" stroke-width="1.0" />
<line x1="433.60" y1="58.30" x2="442.20" y2="58.30" stroke="#333" stroke-width="1.0" />
<line x1="433.60" y1="99.00" x2="442.20" y2="99.00" stroke="#333" stroke-width="1.0" />
<rect x="431.40" y="68.70" width="13.00" height="22.00" fill="#a3dba6" />
<line x1="431.40" y1="75.30" x2="444.40" y2="75.30" stroke="#1e1e1e" stroke-width="1.35" />
<circle cx="437.90" cy="58.30" r="1.15" fill="#27b040"/>
<circle cx="437.90" cy="63.60" r="1.15" fill="#27b040"/>
<circle cx="432.05" cy="73.90" r="1.15" fill="#27b040"/>
<circle cx="435.95" cy="73.90" r="1.15" fill="#27b040"/>
<circle cx="439.85" cy="73.90" r="1.15" fill="#27b040"/>
<circle cx="443.75" cy="73.90" r="1.15" fill="#27b040"/>
<circle cx="437.90" cy="78.19" r="1.15" fill="#27b040"/>
<circle cx="435.95" cy="83.42" r="1.15" fill="#27b040"/>
<circle cx="439.85" cy="83.42" r="1.15" fill="#27b040"/>
<circle cx="437.90" cy="87.39" r="1.15" fill="#27b040"/>
<circle cx="437.90" cy="99.00" r="1.15" fill="#27b040"/>
<line x1="459.30" y1="64.20" x2="459.30" y2="100.30" stroke="#333" stroke-width="1.0" />
<line x1="455.00" y1="64.20" x2="463.60" y2="64.20" stroke="#333" stroke-width="1.0" />
<line x1="455.00" y1="100.30" x2="463.60" y2="100.30" stroke="#333" stroke-width="1.0" />
<rect x="452.80" y="73.30" width="13.00" height="25.70" fill="#e89dac" />
<line x1="452.80" y1="91.70" x2="465.80" y2="91.70" stroke="#1e1e1e" stroke-width="1.35" />
<circle cx="459.30" cy="64.20" r="1.15" fill="#d0102e"/>
<circle cx="459.30" cy="76.32" r="1.15" fill="#d0102e"/>
<circle cx="457.35" cy="84.34" r="1.15" fill="#d0102e"/>
<circle cx="461.25" cy="84.34" r="1.15" fill="#d0102e"/>
<circle cx="455.40" cy="92.21" r="1.15" fill="#d0102e"/>
<circle cx="459.30" cy="92.21" r="1.15" fill="#d0102e"/>
<circle cx="463.20" cy="92.21" r="1.15" fill="#d0102e"/>
<circle cx="457.35" cy="94.22" r="1.15" fill="#d0102e"/>
<circle cx="461.25" cy="94.22" r="1.15" fill="#d0102e"/>
<circle cx="459.30" cy="95.69" r="1.15" fill="#d0102e"/>
<circle cx="459.30" cy="100.30" r="1.15" fill="#d0102e"/>
<line x1="481.20" y1="101.80" x2="481.20" y2="102.40" stroke="#333" stroke-width="1.0" />
<line x1="476.90" y1="101.80" x2="485.50" y2="101.80" stroke="#333" stroke-width="1.0" />
<line x1="476.90" y1="102.40" x2="485.50" y2="102.40" stroke="#333" stroke-width="1.0" />
<rect x="474.70" y="101.80" width="13.00" height="0.60" fill="#a2bfdc" />
<line x1="474.70" y1="102.10" x2="487.70" y2="102.10" stroke="#1e1e1e" stroke-width="1.35" />
<circle cx="475.35" cy="101.95" r="1.15" fill="#1b5d9c"/>
<circle cx="479.25" cy="101.95" r="1.15" fill="#1b5d9c"/>
<circle cx="483.15" cy="101.95" r="1.15" fill="#1b5d9c"/>
<circle cx="487.05" cy="101.95" r="1.15" fill="#1b5d9c"/>
<circle cx="475.35" cy="102.16" r="1.15" fill="#1b5d9c"/>
<circle cx="479.25" cy="102.16" r="1.15" fill="#1b5d9c"/>
<circle cx="483.15" cy="102.16" r="1.15" fill="#1b5d9c"/>
<circle cx="487.05" cy="102.16" r="1.15" fill="#1b5d9c"/>
<circle cx="477.30" cy="102.31" r="1.15" fill="#1b5d9c"/>
<circle cx="481.20" cy="102.31" r="1.15" fill="#1b5d9c"/>
<circle cx="485.10" cy="102.31" r="1.15" fill="#1b5d9c"/>
<line x1="502.20" y1="97.20" x2="502.20" y2="102.40" stroke="#333" stroke-width="1.0" />
<line x1="497.90" y1="97.20" x2="506.50" y2="97.20" stroke="#333" stroke-width="1.0" />
<line x1="497.90" y1="102.40" x2="506.50" y2="102.40" stroke="#333" stroke-width="1.0" />
<rect x="495.70" y="100.30" width="13.00" height="1.90" fill="#c6a5d3" />
<line x1="495.70" y1="101.40" x2="508.70" y2="101.40" stroke="#1e1e1e" stroke-width="1.35" />
<circle cx="502.20" cy="97.20" r="1.15" fill="#5a1872"/>
<circle cx="496.35" cy="100.29" r="1.15" fill="#5a1872"/>
<circle cx="500.25" cy="100.29" r="1.15" fill="#5a1872"/>
<circle cx="504.15" cy="100.29" r="1.15" fill="#5a1872"/>
<circle cx="508.05" cy="100.29" r="1.15" fill="#5a1872"/>
<circle cx="496.35" cy="101.51" r="1.15" fill="#5a1872"/>
<circle cx="500.25" cy="101.51" r="1.15" fill="#5a1872"/>
<circle cx="504.15" cy="101.51" r="1.15" fill="#5a1872"/>
<circle cx="508.05" cy="101.51" r="1.15" fill="#5a1872"/>
<circle cx="500.25" cy="102.23" r="1.15" fill="#5a1872"/>
<circle cx="504.15" cy="102.23" r="1.15" fill="#5a1872"/>
<line x1="49.10" y1="197.30" x2="49.10" y2="258.40" stroke="#1c1c1c" stroke-width="1.5" />
<line x1="48.40" y1="257.70" x2="126.20" y2="257.70" stroke="#1c1c1c" stroke-width="1.5" />
<line x1="45.90" y1="200.90" x2="49.10" y2="200.90" stroke="#1c1c1c" stroke-width="1.2" />
<text x="38.60" y="203.90" font-size="8.6" text-anchor="end" fill="#1a1a1a" stroke="#1a1a1a" stroke-width="0.22" textLength="7.6" lengthAdjust="spacingAndGlyphs" ><tspan>10</tspan></text>
<text x="42.20" y="200.70" font-size="5.9" text-anchor="end" fill="#1a1a1a" stroke="#1a1a1a" stroke-width="0.22" ><tspan>6</tspan></text>
<line x1="45.90" y1="215.10" x2="49.10" y2="215.10" stroke="#1c1c1c" stroke-width="1.2" />
<text x="38.60" y="218.10" font-size="8.6" text-anchor="end" fill="#1a1a1a" stroke="#1a1a1a" stroke-width="0.22" textLength="7.6" lengthAdjust="spacingAndGlyphs" ><tspan>10</tspan></text>
<text x="42.20" y="214.90" font-size="5.9" text-anchor="end" fill="#1a1a1a" stroke="#1a1a1a" stroke-width="0.22" ><tspan>5</tspan></text>
<line x1="45.90" y1="229.30" x2="49.10" y2="229.30" stroke="#1c1c1c" stroke-width="1.2" />
<text x="38.60" y="232.30" font-size="8.6" text-anchor="end" fill="#1a1a1a" stroke="#1a1a1a" stroke-width="0.22" textLength="7.6" lengthAdjust="spacingAndGlyphs" ><tspan>10</tspan></text>
<text x="42.20" y="229.10" font-size="5.9" text-anchor="end" fill="#1a1a1a" stroke="#1a1a1a" stroke-width="0.22" ><tspan>4</tspan></text>
<line x1="45.90" y1="243.50" x2="49.10" y2="243.50" stroke="#1c1c1c" stroke-width="1.2" />
<text x="38.60" y="246.50" font-size="8.6" text-anchor="end" fill="#1a1a1a" stroke="#1a1a1a" stroke-width="0.22" textLength="7.6" lengthAdjust="spacingAndGlyphs" ><tspan>10</tspan></text>
<text x="42.20" y="243.30" font-size="5.9" text-anchor="end" fill="#1a1a1a" stroke="#1a1a1a" stroke-width="0.22" ><tspan>3</tspan></text>
<line x1="45.90" y1="257.70" x2="49.10" y2="257.70" stroke="#1c1c1c" stroke-width="1.2" />
<text x="38.60" y="260.70" font-size="8.6" text-anchor="end" fill="#1a1a1a" stroke="#1a1a1a" stroke-width="0.22" textLength="7.6" lengthAdjust="spacingAndGlyphs" ><tspan>10</tspan></text>
<text x="42.20" y="257.50" font-size="5.9" text-anchor="end" fill="#1a1a1a" stroke="#1a1a1a" stroke-width="0.22" ><tspan>2</tspan></text>
<line x1="47.50" y1="210.83" x2="49.10" y2="210.83" stroke="#1c1c1c" stroke-width="0.6" />
<line x1="47.50" y1="208.32" x2="49.10" y2="208.32" stroke="#1c1c1c" stroke-width="0.6" />
<line x1="47.50" y1="206.55" x2="49.10" y2="206.55" stroke="#1c1c1c" stroke-width="0.6" />
<line x1="47.50" y1="205.17" x2="49.10" y2="205.17" stroke="#1c1c1c" stroke-width="0.6" />
<line x1="47.50" y1="204.05" x2="49.10" y2="204.05" stroke="#1c1c1c" stroke-width="0.6" />
<line x1="47.50" y1="203.10" x2="49.10" y2="203.10" stroke="#1c1c1c" stroke-width="0.6" />
<line x1="47.50" y1="202.28" x2="49.10" y2="202.28" stroke="#1c1c1c" stroke-width="0.6" />
<line x1="47.50" y1="201.55" x2="49.10" y2="201.55" stroke="#1c1c1c" stroke-width="0.6" />
<line x1="47.50" y1="225.03" x2="49.10" y2="225.03" stroke="#1c1c1c" stroke-width="0.6" />
<line x1="47.50" y1="222.52" x2="49.10" y2="222.52" stroke="#1c1c1c" stroke-width="0.6" />
<line x1="47.50" y1="220.75" x2="49.10" y2="220.75" stroke="#1c1c1c" stroke-width="0.6" />
<line x1="47.50" y1="219.37" x2="49.10" y2="219.37" stroke="#1c1c1c" stroke-width="0.6" />
<line x1="47.50" y1="218.25" x2="49.10" y2="218.25" stroke="#1c1c1c" stroke-width="0.6" />
<line x1="47.50" y1="217.30" x2="49.10" y2="217.30" stroke="#1c1c1c" stroke-width="0.6" />
<line x1="47.50" y1="216.48" x2="49.10" y2="216.48" stroke="#1c1c1c" stroke-width="0.6" />
<line x1="47.50" y1="215.75" x2="49.10" y2="215.75" stroke="#1c1c1c" stroke-width="0.6" />
<line x1="47.50" y1="239.23" x2="49.10" y2="239.23" stroke="#1c1c1c" stroke-width="0.6" />
<line x1="47.50" y1="236.72" x2="49.10" y2="236.72" stroke="#1c1c1c" stroke-width="0.6" />
<line x1="47.50" y1="234.95" x2="49.10" y2="234.95" stroke="#1c1c1c" stroke-width="0.6" />
<line x1="47.50" y1="233.57" x2="49.10" y2="233.57" stroke="#1c1c1c" stroke-width="0.6" />
<line x1="47.50" y1="232.45" x2="49.10" y2="232.45" stroke="#1c1c1c" stroke-width="0.6" />
<line x1="47.50" y1="231.50" x2="49.10" y2="231.50" stroke="#1c1c1c" stroke-width="0.6" />
<line x1="47.50" y1="230.68" x2="49.10" y2="230.68" stroke="#1c1c1c" stroke-width="0.6" />
<line x1="47.50" y1="229.95" x2="49.10" y2="229.95" stroke="#1c1c1c" stroke-width="0.6" />
<line x1="47.50" y1="253.43" x2="49.10" y2="253.43" stroke="#1c1c1c" stroke-width="0.6" />
<line x1="47.50" y1="250.92" x2="49.10" y2="250.92" stroke="#1c1c1c" stroke-width="0.6" />
<line x1="47.50" y1="249.15" x2="49.10" y2="249.15" stroke="#1c1c1c" stroke-width="0.6" />
<line x1="47.50" y1="247.77" x2="49.10" y2="247.77" stroke="#1c1c1c" stroke-width="0.6" />
<line x1="47.50" y1="246.65" x2="49.10" y2="246.65" stroke="#1c1c1c" stroke-width="0.6" />
<line x1="47.50" y1="245.70" x2="49.10" y2="245.70" stroke="#1c1c1c" stroke-width="0.6" />
<line x1="47.50" y1="244.88" x2="49.10" y2="244.88" stroke="#1c1c1c" stroke-width="0.6" />
<line x1="47.50" y1="244.15" x2="49.10" y2="244.15" stroke="#1c1c1c" stroke-width="0.6" />
<line x1="59.70" y1="257.70" x2="59.70" y2="260.10" stroke="#1c1c1c" stroke-width="1.0" />
<text transform="translate(62.20,268.20) rotate(-45)" font-size="8.3" text-anchor="end" fill="#1a1a1a" stroke="#1a1a1a" stroke-width="0.26" textLength="23.6" lengthAdjust="spacingAndGlyphs" ><tspan>Control</tspan></text>
<line x1="78.80" y1="257.70" x2="78.80" y2="260.10" stroke="#1c1c1c" stroke-width="1.0" />
<text transform="translate(81.30,268.20) rotate(-45)" font-size="8.3" text-anchor="end" fill="#1a1a1a" stroke="#1a1a1a" stroke-width="0.26" textLength="12.5" lengthAdjust="spacingAndGlyphs" ><tspan>Maf</tspan></text>
<line x1="98.10" y1="257.70" x2="98.10" y2="260.10" stroke="#1c1c1c" stroke-width="1.0" />
<text transform="translate(100.60,268.20) rotate(-45)" font-size="8.3" text-anchor="end" fill="#1a1a1a" stroke="#1a1a1a" stroke-width="0.26" textLength="14.0" lengthAdjust="spacingAndGlyphs" ><tspan>CsA</tspan></text>
<line x1="117.20" y1="257.70" x2="117.20" y2="260.10" stroke="#1c1c1c" stroke-width="1.0" />
<text transform="translate(119.70,268.20) rotate(-45)" font-size="8.3" text-anchor="end" fill="#1a1a1a" stroke="#1a1a1a" stroke-width="0.26" textLength="13.6" lengthAdjust="spacingAndGlyphs" ><tspan>Rap</tspan></text>
<text x="87.70" y="181.90" font-size="8.56" text-anchor="middle" fill="#1a1a1a" stroke="#1a1a1a" stroke-width="0.22" textLength="19.2" lengthAdjust="spacingAndGlyphs" ><tspan>Naïve</tspan></text>
<text transform="translate(14.80,227.60) rotate(-90) scale(1,1.28)" font-size="7.2" text-anchor="middle" fill="#111" stroke="#111" stroke-width="0.3" textLength="79" lengthAdjust="spacingAndGlyphs" ><tspan># of CCR7</tspan><tspan dy="-2.16" font-size="5.18">+</tspan><tspan dy="2.16">CD45RA</tspan><tspan dy="-2.16" font-size="5.18">+</tspan><tspan dy="2.16">CD95</tspan><tspan dy="-2.16" font-size="5.18">−</tspan></text>
<text transform="translate(26.30,227.30) rotate(-90) scale(1,1.28)" font-size="7.2" text-anchor="middle" fill="#111" stroke="#111" stroke-width="0.3" textLength="35.5" lengthAdjust="spacingAndGlyphs" ><tspan>CD8</tspan><tspan dy="-2.16" font-size="5.18">+</tspan><tspan dy="2.16"> T cells</tspan></text>
<line x1="58.90" y1="194.30" x2="119.70" y2="194.30" stroke="#5c5c5c" stroke-width="0.9" />
<circle cx="89.30" cy="191.40" r="0.95" fill="#222"/>
<line x1="58.90" y1="201.30" x2="99.80" y2="201.30" stroke="#5c5c5c" stroke-width="0.9" />
<circle cx="78.10" cy="198.40" r="0.95" fill="#222"/>
<circle cx="80.60" cy="198.40" r="0.95" fill="#222"/>
<line x1="58.90" y1="208.20" x2="80.60" y2="208.20" stroke="#5c5c5c" stroke-width="0.9" />
<circle cx="66.00" cy="205.30" r="0.95" fill="#222"/>
<circle cx="68.50" cy="205.30" r="0.95" fill="#222"/>
<circle cx="71.00" cy="205.30" r="0.95" fill="#222"/>
<circle cx="73.50" cy="205.30" r="0.95" fill="#222"/>
<line x1="59.70" y1="210.30" x2="59.70" y2="219.70" stroke="#333" stroke-width="1.0" />
<line x1="55.40" y1="210.30" x2="64.00" y2="210.30" stroke="#333" stroke-width="1.0" />
<line x1="55.40" y1="219.70" x2="64.00" y2="219.70" stroke="#333" stroke-width="1.0" />
<rect x="53.20" y="213.60" width="13.00" height="4.90" fill="#a3dba6" />
<line x1="53.20" y1="216.10" x2="66.20" y2="216.10" stroke="#1e1e1e" stroke-width="1.35" />
<circle cx="59.70" cy="210.30" r="1.15" fill="#27b040"/>
<circle cx="55.80" cy="213.41" r="1.15" fill="#27b040"/>
<circle cx="59.70" cy="213.41" r="1.15" fill="#27b040"/>
<circle cx="63.60" cy="213.41" r="1.15" fill="#27b040"/>
<circle cx="53.85" cy="215.31" r="1.15" fill="#27b040"/>
<circle cx="57.75" cy="215.31" r="1.15" fill="#27b040"/>
<circle cx="61.65" cy="215.31" r="1.15" fill="#27b040"/>
<circle cx="65.55" cy="215.31" r="1.15" fill="#27b040"/>
<circle cx="55.80" cy="217.24" r="1.15" fill="#27b040"/>
<circle cx="59.70" cy="217.24" r="1.15" fill="#27b040"/>
<circle cx="63.60" cy="217.24" r="1.15" fill="#27b040"/>
<circle cx="59.70" cy="219.70" r="1.15" fill="#27b040"/>
<line x1="78.80" y1="227.80" x2="78.80" y2="250.10" stroke="#333" stroke-width="1.0" />
<line x1="74.50" y1="227.80" x2="83.10" y2="227.80" stroke="#333" stroke-width="1.0" />
<line x1="74.50" y1="250.10" x2="83.10" y2="250.10" stroke="#333" stroke-width="1.0" />
<rect x="72.30" y="228.80" width="13.00" height="8.20" fill="#e89dac" />
<line x1="72.30" y1="231.30" x2="85.30" y2="231.30" stroke="#1e1e1e" stroke-width="1.35" />
<circle cx="76.85" cy="228.45" r="1.15" fill="#d0102e"/>
<circle cx="80.75" cy="228.45" r="1.15" fill="#d0102e"/>
<circle cx="76.85" cy="230.62" r="1.15" fill="#d0102e"/>
<circle cx="80.75" cy="230.62" r="1.15" fill="#d0102e"/>
<circle cx="74.90" cy="233.05" r="1.15" fill="#d0102e"/>
<circle cx="78.80" cy="233.05" r="1.15" fill="#d0102e"/>
<circle cx="82.70" cy="233.05" r="1.15" fill="#d0102e"/>
<circle cx="74.90" cy="235.98" r="1.15" fill="#d0102e"/>
<circle cx="78.80" cy="235.98" r="1.15" fill="#d0102e"/>
<circle cx="82.70" cy="235.98" r="1.15" fill="#d0102e"/>
<circle cx="78.80" cy="241.53" r="1.15" fill="#d0102e"/>
<circle cx="78.80" cy="250.10" r="1.15" fill="#d0102e"/>
<line x1="98.10" y1="212.80" x2="98.10" y2="221.30" stroke="#333" stroke-width="1.0" />
<line x1="93.80" y1="212.80" x2="102.40" y2="212.80" stroke="#333" stroke-width="1.0" />
<line x1="93.80" y1="221.30" x2="102.40" y2="221.30" stroke="#333" stroke-width="1.0" />
<rect x="91.60" y="216.90" width="13.00" height="4.40" fill="#a2bfdc" />
<line x1="91.60" y1="218.50" x2="104.60" y2="218.50" stroke="#1e1e1e" stroke-width="1.35" />
<circle cx="94.20" cy="213.96" r="1.15" fill="#1b5d9c"/>
<circle cx="98.10" cy="213.96" r="1.15" fill="#1b5d9c"/>
<circle cx="102.00" cy="213.96" r="1.15" fill="#1b5d9c"/>
<circle cx="98.10" cy="216.09" r="1.15" fill="#1b5d9c"/>
<circle cx="92.25" cy="218.85" r="1.15" fill="#1b5d9c"/>
<circle cx="96.15" cy="218.85" r="1.15" fill="#1b5d9c"/>
<circle cx="100.05" cy="218.85" r="1.15" fill="#1b5d9c"/>
<circle cx="103.95" cy="218.85" r="1.15" fill="#1b5d9c"/>
<circle cx="92.25" cy="220.54" r="1.15" fill="#1b5d9c"/>
<circle cx="96.15" cy="220.54" r="1.15" fill="#1b5d9c"/>
<circle cx="100.05" cy="220.54" r="1.15" fill="#1b5d9c"/>
<circle cx="103.95" cy="220.54" r="1.15" fill="#1b5d9c"/>
<line x1="117.20" y1="213.90" x2="117.20" y2="222.60" stroke="#333" stroke-width="1.0" />
<line x1="112.90" y1="213.90" x2="121.50" y2="213.90" stroke="#333" stroke-width="1.0" />
<line x1="112.90" y1="222.60" x2="121.50" y2="222.60" stroke="#333" stroke-width="1.0" />
<rect x="110.70" y="215.20" width="13.00" height="4.90" fill="#c6a5d3" />
<line x1="110.70" y1="217.40" x2="123.70" y2="217.40" stroke="#1e1e1e" stroke-width="1.35" />
<circle cx="113.30" cy="215.09" r="1.15" fill="#5a1872"/>
<circle cx="117.20" cy="215.09" r="1.15" fill="#5a1872"/>
<circle cx="121.10" cy="215.09" r="1.15" fill="#5a1872"/>
<circle cx="115.25" cy="216.82" r="1.15" fill="#5a1872"/>
<circle cx="119.15" cy="216.82" r="1.15" fill="#5a1872"/>
<circle cx="111.35" cy="218.36" r="1.15" fill="#5a1872"/>
<circle cx="115.25" cy="218.36" r="1.15" fill="#5a1872"/>
<circle cx="119.15" cy="218.36" r="1.15" fill="#5a1872"/>
<circle cx="123.05" cy="218.36" r="1.15" fill="#5a1872"/>
<circle cx="117.20" cy="219.74" r="1.15" fill="#5a1872"/>
<circle cx="115.25" cy="222.57" r="1.15" fill="#5a1872"/>
<circle cx="119.15" cy="222.57" r="1.15" fill="#5a1872"/>
<line x1="170.40" y1="196.80" x2="170.40" y2="258.40" stroke="#1c1c1c" stroke-width="1.5" />
<line x1="169.70" y1="257.70" x2="246.70" y2="257.70" stroke="#1c1c1c" stroke-width="1.5" />
<line x1="167.20" y1="200.90" x2="170.40" y2="200.90" stroke="#1c1c1c" stroke-width="1.2" />
<text x="159.90" y="203.90" font-size="8.6" text-anchor="end" fill="#1a1a1a" stroke="#1a1a1a" stroke-width="0.22" textLength="7.6" lengthAdjust="spacingAndGlyphs" ><tspan>10</tspan></text>
<text x="163.50" y="200.70" font-size="5.9" text-anchor="end" fill="#1a1a1a" stroke="#1a1a1a" stroke-width="0.22" ><tspan>6</tspan></text>
<line x1="167.20" y1="215.10" x2="170.40" y2="215.10" stroke="#1c1c1c" stroke-width="1.2" />
<text x="159.90" y="218.10" font-size="8.6" text-anchor="end" fill="#1a1a1a" stroke="#1a1a1a" stroke-width="0.22" textLength="7.6" lengthAdjust="spacingAndGlyphs" ><tspan>10</tspan></text>
<text x="163.50" y="214.90" font-size="5.9" text-anchor="end" fill="#1a1a1a" stroke="#1a1a1a" stroke-width="0.22" ><tspan>5</tspan></text>
<line x1="167.20" y1="229.30" x2="170.40" y2="229.30" stroke="#1c1c1c" stroke-width="1.2" />
<text x="159.90" y="232.30" font-size="8.6" text-anchor="end" fill="#1a1a1a" stroke="#1a1a1a" stroke-width="0.22" textLength="7.6" lengthAdjust="spacingAndGlyphs" ><tspan>10</tspan></text>
<text x="163.50" y="229.10" font-size="5.9" text-anchor="end" fill="#1a1a1a" stroke="#1a1a1a" stroke-width="0.22" ><tspan>4</tspan></text>
<line x1="167.20" y1="243.50" x2="170.40" y2="243.50" stroke="#1c1c1c" stroke-width="1.2" />
<text x="159.90" y="246.50" font-size="8.6" text-anchor="end" fill="#1a1a1a" stroke="#1a1a1a" stroke-width="0.22" textLength="7.6" lengthAdjust="spacingAndGlyphs" ><tspan>10</tspan></text>
<text x="163.50" y="243.30" font-size="5.9" text-anchor="end" fill="#1a1a1a" stroke="#1a1a1a" stroke-width="0.22" ><tspan>3</tspan></text>
<line x1="167.20" y1="257.70" x2="170.40" y2="257.70" stroke="#1c1c1c" stroke-width="1.2" />
<text x="159.90" y="260.70" font-size="8.6" text-anchor="end" fill="#1a1a1a" stroke="#1a1a1a" stroke-width="0.22" textLength="7.6" lengthAdjust="spacingAndGlyphs" ><tspan>10</tspan></text>
<text x="163.50" y="257.50" font-size="5.9" text-anchor="end" fill="#1a1a1a" stroke="#1a1a1a" stroke-width="0.22" ><tspan>2</tspan></text>
<line x1="168.80" y1="210.83" x2="170.40" y2="210.83" stroke="#1c1c1c" stroke-width="0.6" />
<line x1="168.80" y1="208.32" x2="170.40" y2="208.32" stroke="#1c1c1c" stroke-width="0.6" />
<line x1="168.80" y1="206.55" x2="170.40" y2="206.55" stroke="#1c1c1c" stroke-width="0.6" />
<line x1="168.80" y1="205.17" x2="170.40" y2="205.17" stroke="#1c1c1c" stroke-width="0.6" />
<line x1="168.80" y1="204.05" x2="170.40" y2="204.05" stroke="#1c1c1c" stroke-width="0.6" />
<line x1="168.80" y1="203.10" x2="170.40" y2="203.10" stroke="#1c1c1c" stroke-width="0.6" />
<line x1="168.80" y1="202.28" x2="170.40" y2="202.28" stroke="#1c1c1c" stroke-width="0.6" />
<line x1="168.80" y1="201.55" x2="170.40" y2="201.55" stroke="#1c1c1c" stroke-width="0.6" />
<line x1="168.80" y1="225.03" x2="170.40" y2="225.03" stroke="#1c1c1c" stroke-width="0.6" />
<line x1="168.80" y1="222.52" x2="170.40" y2="222.52" stroke="#1c1c1c" stroke-width="0.6" />
<line x1="168.80" y1="220.75" x2="170.40" y2="220.75" stroke="#1c1c1c" stroke-width="0.6" />
<line x1="168.80" y1="219.37" x2="170.40" y2="219.37" stroke="#1c1c1c" stroke-width="0.6" />
<line x1="168.80" y1="218.25" x2="170.40" y2="218.25" stroke="#1c1c1c" stroke-width="0.6" />
<line x1="168.80" y1="217.30" x2="170.40" y2="217.30" stroke="#1c1c1c" stroke-width="0.6" />
<line x1="168.80" y1="216.48" x2="170.40" y2="216.48" stroke="#1c1c1c" stroke-width="0.6" />
<line x1="168.80" y1="215.75" x2="170.40" y2="215.75" stroke="#1c1c1c" stroke-width="0.6" />
<line x1="168.80" y1="239.23" x2="170.40" y2="239.23" stroke="#1c1c1c" stroke-width="0.6" />
<line x1="168.80" y1="236.72" x2="170.40" y2="236.72" stroke="#1c1c1c" stroke-width="0.6" />
<line x1="168.80" y1="234.95" x2="170.40" y2="234.95" stroke="#1c1c1c" stroke-width="0.6" />
<line x1="168.80" y1="233.57" x2="170.40" y2="233.57" stroke="#1c1c1c" stroke-width="0.6" />
<line x1="168.80" y1="232.45" x2="170.40" y2="232.45" stroke="#1c1c1c" stroke-width="0.6" />
<line x1="168.80" y1="231.50" x2="170.40" y2="231.50" stroke="#1c1c1c" stroke-width="0.6" />
<line x1="168.80" y1="230.68" x2="170.40" y2="230.68" stroke="#1c1c1c" stroke-width="0.6" />
<line x1="168.80" y1="229.95" x2="170.40" y2="229.95" stroke="#1c1c1c" stroke-width="0.6" />
<line x1="168.80" y1="253.43" x2="170.40" y2="253.43" stroke="#1c1c1c" stroke-width="0.6" />
<line x1="168.80" y1="250.92" x2="170.40" y2="250.92" stroke="#1c1c1c" stroke-width="0.6" />
<line x1="168.80" y1="249.15" x2="170.40" y2="249.15" stroke="#1c1c1c" stroke-width="0.6" />
<line x1="168.80" y1="247.77" x2="170.40" y2="247.77" stroke="#1c1c1c" stroke-width="0.6" />
<line x1="168.80" y1="246.65" x2="170.40" y2="246.65" stroke="#1c1c1c" stroke-width="0.6" />
<line x1="168.80" y1="245.70" x2="170.40" y2="245.70" stroke="#1c1c1c" stroke-width="0.6" />
<line x1="168.80" y1="244.88" x2="170.40" y2="244.88" stroke="#1c1c1c" stroke-width="0.6" />
<line x1="168.80" y1="244.15" x2="170.40" y2="244.15" stroke="#1c1c1c" stroke-width="0.6" />
<line x1="180.50" y1="257.70" x2="180.50" y2="260.10" stroke="#1c1c1c" stroke-width="1.0" />
<text transform="translate(183.00,268.20) rotate(-45)" font-size="8.3" text-anchor="end" fill="#1a1a1a" stroke="#1a1a1a" stroke-width="0.26" textLength="23.6" lengthAdjust="spacingAndGlyphs" ><tspan>Control</tspan></text>
<line x1="200.10" y1="257.70" x2="200.10" y2="260.10" stroke="#1c1c1c" stroke-width="1.0" />
<text transform="translate(202.60,268.20) rotate(-45)" font-size="8.3" text-anchor="end" fill="#1a1a1a" stroke="#1a1a1a" stroke-width="0.26" textLength="12.5" lengthAdjust="spacingAndGlyphs" ><tspan>Maf</tspan></text>
<line x1="219.80" y1="257.70" x2="219.80" y2="260.10" stroke="#1c1c1c" stroke-width="1.0" />
<text transform="translate(222.30,268.20) rotate(-45)" font-size="8.3" text-anchor="end" fill="#1a1a1a" stroke="#1a1a1a" stroke-width="0.26" textLength="14.0" lengthAdjust="spacingAndGlyphs" ><tspan>CsA</tspan></text>
<line x1="238.90" y1="257.70" x2="238.90" y2="260.10" stroke="#1c1c1c" stroke-width="1.0" />
<text transform="translate(241.40,268.20) rotate(-45)" font-size="8.3" text-anchor="end" fill="#1a1a1a" stroke="#1a1a1a" stroke-width="0.26" textLength="13.6" lengthAdjust="spacingAndGlyphs" ><tspan>Rap</tspan></text>
<text x="209.50" y="182.00" font-size="8.56" text-anchor="middle" fill="#1a1a1a" stroke="#1a1a1a" stroke-width="0.22" textLength="13.0" lengthAdjust="spacingAndGlyphs" ><tspan>CM</tspan></text>
<text transform="translate(147.40,226.50) rotate(-90) scale(1,1.28)" font-size="7.2" text-anchor="middle" fill="#111" stroke="#111" stroke-width="0.3" textLength="93.5" lengthAdjust="spacingAndGlyphs" ><tspan># of CCR7</tspan><tspan dy="-2.16" font-size="5.18">+</tspan><tspan dy="2.16">CD45RA</tspan><tspan dy="-2.16" font-size="5.18">−</tspan><tspan dy="2.16"> CD8</tspan><tspan dy="-2.16" font-size="5.18">+</tspan><tspan dy="2.16"> T cells</tspan></text>
<line x1="182.20" y1="194.30" x2="243.80" y2="194.30" stroke="#5c5c5c" stroke-width="0.9" />
<circle cx="209.25" cy="191.40" r="0.95" fill="#222"/>
<circle cx="211.75" cy="191.40" r="0.95" fill="#222"/>
<circle cx="214.25" cy="191.40" r="0.95" fill="#222"/>
<circle cx="216.75" cy="191.40" r="0.95" fill="#222"/>
<line x1="182.20" y1="201.30" x2="223.00" y2="201.30" stroke="#5c5c5c" stroke-width="0.9" />
<circle cx="198.85" cy="198.40" r="0.95" fill="#222"/>
<circle cx="201.35" cy="198.40" r="0.95" fill="#222"/>
<circle cx="203.85" cy="198.40" r="0.95" fill="#222"/>
<circle cx="206.35" cy="198.40" r="0.95" fill="#222"/>
<line x1="182.20" y1="208.20" x2="203.90" y2="208.20" stroke="#5c5c5c" stroke-width="0.9" />
<circle cx="189.30" cy="205.30" r="0.95" fill="#222"/>
<circle cx="191.80" cy="205.30" r="0.95" fill="#222"/>
<circle cx="194.30" cy="205.30" r="0.95" fill="#222"/>
<circle cx="196.80" cy="205.30" r="0.95" fill="#222"/>
<line x1="180.50" y1="215.20" x2="180.50" y2="227.20" stroke="#333" stroke-width="1.0" />
<line x1="176.20" y1="215.20" x2="184.80" y2="215.20" stroke="#333" stroke-width="1.0" />
<line x1="176.20" y1="227.20" x2="184.80" y2="227.20" stroke="#333" stroke-width="1.0" />
<rect x="174.00" y="217.70" width="13.00" height="7.80" fill="#a3dba6" />
<line x1="174.00" y1="222.30" x2="187.00" y2="222.30" stroke="#1e1e1e" stroke-width="1.35" />
<circle cx="176.60" cy="215.96" r="1.15" fill="#27b040"/>
<circle cx="180.50" cy="215.96" r="1.15" fill="#27b040"/>
<circle cx="184.40" cy="215.96" r="1.15" fill="#27b040"/>
<circle cx="176.60" cy="218.55" r="1.15" fill="#27b040"/>
<circle cx="180.50" cy="218.55" r="1.15" fill="#27b040"/>
<circle cx="184.40" cy="218.55" r="1.15" fill="#27b040"/>
<circle cx="178.55" cy="221.34" r="1.15" fill="#27b040"/>
<circle cx="182.45" cy="221.34" r="1.15" fill="#27b040"/>
<circle cx="176.60" cy="225.12" r="1.15" fill="#27b040"/>
<circle cx="180.50" cy="225.12" r="1.15" fill="#27b040"/>
<circle cx="184.40" cy="225.12" r="1.15" fill="#27b040"/>
<circle cx="180.50" cy="227.20" r="1.15" fill="#27b040"/>
<line x1="200.10" y1="230.40" x2="200.10" y2="246.30" stroke="#333" stroke-width="1.0" />
<line x1="195.80" y1="230.40" x2="204.40" y2="230.40" stroke="#333" stroke-width="1.0" />
<line x1="195.80" y1="246.30" x2="204.40" y2="246.30" stroke="#333" stroke-width="1.0" />
<rect x="193.60" y="232.10" width="13.00" height="8.50" fill="#e89dac" />
<line x1="193.60" y1="236.00" x2="206.60" y2="236.00" stroke="#1e1e1e" stroke-width="1.35" />
<circle cx="200.10" cy="230.40" r="1.15" fill="#d0102e"/>
<circle cx="198.15" cy="233.69" r="1.15" fill="#d0102e"/>
<circle cx="202.05" cy="233.69" r="1.15" fill="#d0102e"/>
<circle cx="196.20" cy="238.39" r="1.15" fill="#d0102e"/>
<circle cx="200.10" cy="238.39" r="1.15" fill="#d0102e"/>
<circle cx="204.00" cy="238.39" r="1.15" fill="#d0102e"/>
<circle cx="194.25" cy="240.01" r="1.15" fill="#d0102e"/>
<circle cx="198.15" cy="240.01" r="1.15" fill="#d0102e"/>
<circle cx="202.05" cy="240.01" r="1.15" fill="#d0102e"/>
<circle cx="205.95" cy="240.01" r="1.15" fill="#d0102e"/>
<circle cx="200.10" cy="242.71" r="1.15" fill="#d0102e"/>
<circle cx="200.10" cy="246.30" r="1.15" fill="#d0102e"/>
<line x1="219.80" y1="227.50" x2="219.80" y2="240.60" stroke="#333" stroke-width="1.0" />
<line x1="215.50" y1="227.50" x2="224.10" y2="227.50" stroke="#333" stroke-width="1.0" />
<line x1="215.50" y1="240.60" x2="224.10" y2="240.60" stroke="#333" stroke-width="1.0" />
<rect x="213.30" y="231.60" width="13.00" height="6.00" fill="#a2bfdc" />
<line x1="213.30" y1="234.00" x2="226.30" y2="234.00" stroke="#1e1e1e" stroke-width="1.35" />
<circle cx="219.80" cy="227.50" r="1.15" fill="#1b5d9c"/>
<circle cx="219.80" cy="231.53" r="1.15" fill="#1b5d9c"/>
<circle cx="213.95" cy="234.62" r="1.15" fill="#1b5d9c"/>
<circle cx="217.85" cy="234.62" r="1.15" fill="#1b5d9c"/>
<circle cx="221.75" cy="234.62" r="1.15" fill="#1b5d9c"/>
<circle cx="225.65" cy="234.62" r="1.15" fill="#1b5d9c"/>
<circle cx="215.90" cy="235.28" r="1.15" fill="#1b5d9c"/>
<circle cx="219.80" cy="235.28" r="1.15" fill="#1b5d9c"/>
<circle cx="223.70" cy="235.28" r="1.15" fill="#1b5d9c"/>
<circle cx="217.85" cy="237.36" r="1.15" fill="#1b5d9c"/>
<circle cx="221.75" cy="237.36" r="1.15" fill="#1b5d9c"/>
<circle cx="219.80" cy="240.60" r="1.15" fill="#1b5d9c"/>
<line x1="238.90" y1="226.70" x2="238.90" y2="240.60" stroke="#333" stroke-width="1.0" />
<line x1="234.60" y1="226.70" x2="243.20" y2="226.70" stroke="#333" stroke-width="1.0" />
<line x1="234.60" y1="240.60" x2="243.20" y2="240.60" stroke="#333" stroke-width="1.0" />
<rect x="232.40" y="230.00" width="13.00" height="4.00" fill="#c6a5d3" />
<line x1="232.40" y1="232.10" x2="245.40" y2="232.10" stroke="#1e1e1e" stroke-width="1.35" />
<circle cx="238.90" cy="226.70" r="1.15" fill="#5a1872"/>
<circle cx="233.05" cy="230.11" r="1.15" fill="#5a1872"/>
<circle cx="236.95" cy="230.11" r="1.15" fill="#5a1872"/>
<circle cx="240.85" cy="230.11" r="1.15" fill="#5a1872"/>
<circle cx="244.75" cy="230.11" r="1.15" fill="#5a1872"/>
<circle cx="233.05" cy="231.93" r="1.15" fill="#5a1872"/>
<circle cx="236.95" cy="231.93" r="1.15" fill="#5a1872"/>
<circle cx="240.85" cy="231.93" r="1.15" fill="#5a1872"/>
<circle cx="244.75" cy="231.93" r="1.15" fill="#5a1872"/>
<circle cx="236.95" cy="233.77" r="1.15" fill="#5a1872"/>
<circle cx="240.85" cy="233.77" r="1.15" fill="#5a1872"/>
<circle cx="238.90" cy="240.60" r="1.15" fill="#5a1872"/>
<line x1="302.40" y1="196.80" x2="302.40" y2="258.40" stroke="#1c1c1c" stroke-width="1.5" />
<line x1="301.70" y1="257.70" x2="378.70" y2="257.70" stroke="#1c1c1c" stroke-width="1.5" />
<line x1="299.20" y1="200.90" x2="302.40" y2="200.90" stroke="#1c1c1c" stroke-width="1.2" />
<text x="291.90" y="203.90" font-size="8.6" text-anchor="end" fill="#1a1a1a" stroke="#1a1a1a" stroke-width="0.22" textLength="7.6" lengthAdjust="spacingAndGlyphs" ><tspan>10</tspan></text>
<text x="295.50" y="200.70" font-size="5.9" text-anchor="end" fill="#1a1a1a" stroke="#1a1a1a" stroke-width="0.22" ><tspan>6</tspan></text>
<line x1="299.20" y1="215.10" x2="302.40" y2="215.10" stroke="#1c1c1c" stroke-width="1.2" />
<text x="291.90" y="218.10" font-size="8.6" text-anchor="end" fill="#1a1a1a" stroke="#1a1a1a" stroke-width="0.22" textLength="7.6" lengthAdjust="spacingAndGlyphs" ><tspan>10</tspan></text>
<text x="295.50" y="214.90" font-size="5.9" text-anchor="end" fill="#1a1a1a" stroke="#1a1a1a" stroke-width="0.22" ><tspan>5</tspan></text>
<line x1="299.20" y1="229.30" x2="302.40" y2="229.30" stroke="#1c1c1c" stroke-width="1.2" />
<text x="291.90" y="232.30" font-size="8.6" text-anchor="end" fill="#1a1a1a" stroke="#1a1a1a" stroke-width="0.22" textLength="7.6" lengthAdjust="spacingAndGlyphs" ><tspan>10</tspan></text>
<text x="295.50" y="229.10" font-size="5.9" text-anchor="end" fill="#1a1a1a" stroke="#1a1a1a" stroke-width="0.22" ><tspan>4</tspan></text>
<line x1="299.20" y1="243.50" x2="302.40" y2="243.50" stroke="#1c1c1c" stroke-width="1.2" />
<text x="291.90" y="246.50" font-size="8.6" text-anchor="end" fill="#1a1a1a" stroke="#1a1a1a" stroke-width="0.22" textLength="7.6" lengthAdjust="spacingAndGlyphs" ><tspan>10</tspan></text>
<text x="295.50" y="243.30" font-size="5.9" text-anchor="end" fill="#1a1a1a" stroke="#1a1a1a" stroke-width="0.22" ><tspan>3</tspan></text>
<line x1="299.20" y1="257.70" x2="302.40" y2="257.70" stroke="#1c1c1c" stroke-width="1.2" />
<text x="291.90" y="260.70" font-size="8.6" text-anchor="end" fill="#1a1a1a" stroke="#1a1a1a" stroke-width="0.22" textLength="7.6" lengthAdjust="spacingAndGlyphs" ><tspan>10</tspan></text>
<text x="295.50" y="257.50" font-size="5.9" text-anchor="end" fill="#1a1a1a" stroke="#1a1a1a" stroke-width="0.22" ><tspan>2</tspan></text>
<line x1="300.80" y1="210.83" x2="302.40" y2="210.83" stroke="#1c1c1c" stroke-width="0.6" />
<line x1="300.80" y1="208.32" x2="302.40" y2="208.32" stroke="#1c1c1c" stroke-width="0.6" />
<line x1="300.80" y1="206.55" x2="302.40" y2="206.55" stroke="#1c1c1c" stroke-width="0.6" />
<line x1="300.80" y1="205.17" x2="302.40" y2="205.17" stroke="#1c1c1c" stroke-width="0.6" />
<line x1="300.80" y1="204.05" x2="302.40" y2="204.05" stroke="#1c1c1c" stroke-width="0.6" />
<line x1="300.80" y1="203.10" x2="302.40" y2="203.10" stroke="#1c1c1c" stroke-width="0.6" />
<line x1="300.80" y1="202.28" x2="302.40" y2="202.28" stroke="#1c1c1c" stroke-width="0.6" />
<line x1="300.80" y1="201.55" x2="302.40" y2="201.55" stroke="#1c1c1c" stroke-width="0.6" />
<line x1="300.80" y1="225.03" x2="302.40" y2="225.03" stroke="#1c1c1c" stroke-width="0.6" />
<line x1="300.80" y1="222.52" x2="302.40" y2="222.52" stroke="#1c1c1c" stroke-width="0.6" />
<line x1="300.80" y1="220.75" x2="302.40" y2="220.75" stroke="#1c1c1c" stroke-width="0.6" />
<line x1="300.80" y1="219.37" x2="302.40" y2="219.37" stroke="#1c1c1c" stroke-width="0.6" />
<line x1="300.80" y1="218.25" x2="302.40" y2="218.25" stroke="#1c1c1c" stroke-width="0.6" />
<line x1="300.80" y1="217.30" x2="302.40" y2="217.30" stroke="#1c1c1c" stroke-width="0.6" />
<line x1="300.80" y1="216.48" x2="302.40" y2="216.48" stroke="#1c1c1c" stroke-width="0.6" />
<line x1="300.80" y1="215.75" x2="302.40" y2="215.75" stroke="#1c1c1c" stroke-width="0.6" />
<line x1="300.80" y1="239.23" x2="302.40" y2="239.23" stroke="#1c1c1c" stroke-width="0.6" />
<line x1="300.80" y1="236.72" x2="302.40" y2="236.72" stroke="#1c1c1c" stroke-width="0.6" />
<line x1="300.80" y1="234.95" x2="302.40" y2="234.95" stroke="#1c1c1c" stroke-width="0.6" />
<line x1="300.80" y1="233.57" x2="302.40" y2="233.57" stroke="#1c1c1c" stroke-width="0.6" />
<line x1="300.80" y1="232.45" x2="302.40" y2="232.45" stroke="#1c1c1c" stroke-width="0.6" />
<line x1="300.80" y1="231.50" x2="302.40" y2="231.50" stroke="#1c1c1c" stroke-width="0.6" />
<line x1="300.80" y1="230.68" x2="302.40" y2="230.68" stroke="#1c1c1c" stroke-width="0.6" />
<line x1="300.80" y1="229.95" x2="302.40" y2="229.95" stroke="#1c1c1c" stroke-width="0.6" />
<line x1="300.80" y1="253.43" x2="302.40" y2="253.43" stroke="#1c1c1c" stroke-width="0.6" />
<line x1="300.80" y1="250.92" x2="302.40" y2="250.92" stroke="#1c1c1c" stroke-width="0.6" />
<line x1="300.80" y1="249.15" x2="302.40" y2="249.15" stroke="#1c1c1c" stroke-width="0.6" />
<line x1="300.80" y1="247.77" x2="302.40" y2="247.77" stroke="#1c1c1c" stroke-width="0.6" />
<line x1="300.80" y1="246.65" x2="302.40" y2="246.65" stroke="#1c1c1c" stroke-width="0.6" />
<line x1="300.80" y1="245.70" x2="302.40" y2="245.70" stroke="#1c1c1c" stroke-width="0.6" />
<line x1="300.80" y1="244.88" x2="302.40" y2="244.88" stroke="#1c1c1c" stroke-width="0.6" />
<line x1="300.80" y1="244.15" x2="302.40" y2="244.15" stroke="#1c1c1c" stroke-width="0.6" />
<line x1="312.90" y1="257.70" x2="312.90" y2="260.10" stroke="#1c1c1c" stroke-width="1.0" />
<text transform="translate(315.40,268.20) rotate(-45)" font-size="8.3" text-anchor="end" fill="#1a1a1a" stroke="#1a1a1a" stroke-width="0.26" textLength="23.6" lengthAdjust="spacingAndGlyphs" ><tspan>Control</tspan></text>
<line x1="332.10" y1="257.70" x2="332.10" y2="260.10" stroke="#1c1c1c" stroke-width="1.0" />
<text transform="translate(334.60,268.20) rotate(-45)" font-size="8.3" text-anchor="end" fill="#1a1a1a" stroke="#1a1a1a" stroke-width="0.26" textLength="12.5" lengthAdjust="spacingAndGlyphs" ><tspan>Maf</tspan></text>
<line x1="351.40" y1="257.70" x2="351.40" y2="260.10" stroke="#1c1c1c" stroke-width="1.0" />
<text transform="translate(353.90,268.20) rotate(-45)" font-size="8.3" text-anchor="end" fill="#1a1a1a" stroke="#1a1a1a" stroke-width="0.26" textLength="14.0" lengthAdjust="spacingAndGlyphs" ><tspan>CsA</tspan></text>
<line x1="370.90" y1="257.70" x2="370.90" y2="260.10" stroke="#1c1c1c" stroke-width="1.0" />
<text transform="translate(373.40,268.20) rotate(-45)" font-size="8.3" text-anchor="end" fill="#1a1a1a" stroke="#1a1a1a" stroke-width="0.26" textLength="13.6" lengthAdjust="spacingAndGlyphs" ><tspan>Rap</tspan></text>
<text x="341.45" y="182.00" font-size="8.56" text-anchor="middle" fill="#1a1a1a" stroke="#1a1a1a" stroke-width="0.22" textLength="12.1" lengthAdjust="spacingAndGlyphs" ><tspan>EM</tspan></text>
<text transform="translate(267.30,227.50) rotate(-90) scale(1,1.28)" font-size="7.2" text-anchor="middle" fill="#111" stroke="#111" stroke-width="0.3" textLength="59" lengthAdjust="spacingAndGlyphs" ><tspan># of CCR7</tspan><tspan dy="-2.16" font-size="5.18">−</tspan><tspan dy="2.16">CD45RA</tspan><tspan dy="-2.16" font-size="5.18">−</tspan></text>
<text transform="translate(278.00,227.60) rotate(-90) scale(1,1.28)" font-size="7.2" text-anchor="middle" fill="#111" stroke="#111" stroke-width="0.3" textLength="35.2" lengthAdjust="spacingAndGlyphs" ><tspan>CD8</tspan><tspan dy="-2.16" font-size="5.18">+</tspan><tspan dy="2.16"> T cells</tspan></text>
<line x1="312.50" y1="194.30" x2="373.00" y2="194.30" stroke="#5c5c5c" stroke-width="0.9" />
<circle cx="339.00" cy="191.40" r="0.95" fill="#222"/>
<circle cx="341.50" cy="191.40" r="0.95" fill="#222"/>
<circle cx="344.00" cy="191.40" r="0.95" fill="#222"/>
<circle cx="346.50" cy="191.40" r="0.95" fill="#222"/>
<line x1="312.50" y1="201.30" x2="353.40" y2="201.30" stroke="#5c5c5c" stroke-width="0.9" />
<circle cx="329.20" cy="198.40" r="0.95" fill="#222"/>
<circle cx="331.70" cy="198.40" r="0.95" fill="#222"/>
<circle cx="334.20" cy="198.40" r="0.95" fill="#222"/>
<circle cx="336.70" cy="198.40" r="0.95" fill="#222"/>
<line x1="312.50" y1="208.20" x2="334.30" y2="208.20" stroke="#5c5c5c" stroke-width="0.9" />
<circle cx="319.65" cy="205.30" r="0.95" fill="#222"/>
<circle cx="322.15" cy="205.30" r="0.95" fill="#222"/>
<circle cx="324.65" cy="205.30" r="0.95" fill="#222"/>
<circle cx="327.15" cy="205.30" r="0.95" fill="#222"/>
<line x1="312.90" y1="216.10" x2="312.90" y2="230.40" stroke="#333" stroke-width="1.0" />
<line x1="308.60" y1="216.10" x2="317.20" y2="216.10" stroke="#333" stroke-width="1.0" />
<line x1="308.60" y1="230.40" x2="317.20" y2="230.40" stroke="#333" stroke-width="1.0" />
<rect x="306.40" y="218.50" width="13.00" height="5.40" fill="#a3dba6" />
<line x1="306.40" y1="221.80" x2="319.40" y2="221.80" stroke="#1e1e1e" stroke-width="1.35" />
<circle cx="310.95" cy="216.70" r="1.15" fill="#27b040"/>
<circle cx="314.85" cy="216.70" r="1.15" fill="#27b040"/>
<circle cx="309.00" cy="218.99" r="1.15" fill="#27b040"/>
<circle cx="312.90" cy="218.99" r="1.15" fill="#27b040"/>
<circle cx="316.80" cy="218.99" r="1.15" fill="#27b040"/>
<circle cx="307.05" cy="221.19" r="1.15" fill="#27b040"/>
<circle cx="310.95" cy="221.19" r="1.15" fill="#27b040"/>
<circle cx="314.85" cy="221.19" r="1.15" fill="#27b040"/>
<circle cx="318.75" cy="221.19" r="1.15" fill="#27b040"/>
<circle cx="312.90" cy="222.46" r="1.15" fill="#27b040"/>
<circle cx="310.95" cy="230.03" r="1.15" fill="#27b040"/>
<circle cx="314.85" cy="230.03" r="1.15" fill="#27b040"/>
<line x1="332.10" y1="233.20" x2="332.10" y2="243.80" stroke="#333" stroke-width="1.0" />
<line x1="327.80" y1="233.20" x2="336.40" y2="233.20" stroke="#333" stroke-width="1.0" />
<line x1="327.80" y1="243.80" x2="336.40" y2="243.80" stroke="#333" stroke-width="1.0" />
<rect x="325.60" y="235.70" width="13.00" height="4.10" fill="#e89dac" />
<line x1="325.60" y1="237.30" x2="338.60" y2="237.30" stroke="#1e1e1e" stroke-width="1.35" />
<circle cx="332.10" cy="233.20" r="1.15" fill="#d0102e"/>
<circle cx="326.25" cy="236.64" r="1.15" fill="#d0102e"/>
<circle cx="330.15" cy="236.64" r="1.15" fill="#d0102e"/>
<circle cx="334.05" cy="236.64" r="1.15" fill="#d0102e"/>
<circle cx="337.95" cy="236.64" r="1.15" fill="#d0102e"/>
<circle cx="326.25" cy="237.82" r="1.15" fill="#d0102e"/>
<circle cx="330.15" cy="237.82" r="1.15" fill="#d0102e"/>
<circle cx="334.05" cy="237.82" r="1.15" fill="#d0102e"/>
<circle cx="337.95" cy="237.82" r="1.15" fill="#d0102e"/>
<circle cx="330.15" cy="239.04" r="1.15" fill="#d0102e"/>
<circle cx="334.05" cy="239.04" r="1.15" fill="#d0102e"/>
<circle cx="332.10" cy="243.80" r="1.15" fill="#d0102e"/>
<line x1="351.40" y1="231.10" x2="351.40" y2="240.60" stroke="#333" stroke-width="1.0" />
<line x1="347.10" y1="231.10" x2="355.70" y2="231.10" stroke="#333" stroke-width="1.0" />
<line x1="347.10" y1="240.60" x2="355.70" y2="240.60" stroke="#333" stroke-width="1.0" />
<rect x="344.90" y="232.70" width="13.00" height="3.30" fill="#a2bfdc" />
<line x1="344.90" y1="234.40" x2="357.90" y2="234.40" stroke="#1e1e1e" stroke-width="1.35" />
<circle cx="349.45" cy="232.03" r="1.15" fill="#1b5d9c"/>
<circle cx="353.35" cy="232.03" r="1.15" fill="#1b5d9c"/>
<circle cx="345.55" cy="233.26" r="1.15" fill="#1b5d9c"/>
<circle cx="349.45" cy="233.26" r="1.15" fill="#1b5d9c"/>
<circle cx="353.35" cy="233.26" r="1.15" fill="#1b5d9c"/>
<circle cx="357.25" cy="233.26" r="1.15" fill="#1b5d9c"/>
<circle cx="347.50" cy="234.34" r="1.15" fill="#1b5d9c"/>
<circle cx="351.40" cy="234.34" r="1.15" fill="#1b5d9c"/>
<circle cx="355.30" cy="234.34" r="1.15" fill="#1b5d9c"/>
<circle cx="349.45" cy="237.07" r="1.15" fill="#1b5d9c"/>
<circle cx="353.35" cy="237.07" r="1.15" fill="#1b5d9c"/>
<circle cx="351.40" cy="240.60" r="1.15" fill="#1b5d9c"/>
<line x1="370.90" y1="232.10" x2="370.90" y2="242.50" stroke="#333" stroke-width="1.0" />
<line x1="366.60" y1="232.10" x2="375.20" y2="232.10" stroke="#333" stroke-width="1.0" />
<line x1="366.60" y1="242.50" x2="375.20" y2="242.50" stroke="#333" stroke-width="1.0" />
<rect x="364.40" y="232.40" width="13.00" height="2.50" fill="#c6a5d3" />
<line x1="364.40" y1="233.50" x2="377.40" y2="233.50" stroke="#1e1e1e" stroke-width="1.35" />
<circle cx="368.95" cy="232.77" r="1.15" fill="#5a1872"/>
<circle cx="372.85" cy="232.77" r="1.15" fill="#5a1872"/>
<circle cx="365.05" cy="234.68" r="1.15" fill="#5a1872"/>
<circle cx="368.95" cy="234.68" r="1.15" fill="#5a1872"/>
<circle cx="372.85" cy="234.68" r="1.15" fill="#5a1872"/>
<circle cx="376.75" cy="234.68" r="1.15" fill="#5a1872"/>
<circle cx="365.05" cy="235.36" r="1.15" fill="#5a1872"/>
<circle cx="368.95" cy="235.36" r="1.15" fill="#5a1872"/>
<circle cx="372.85" cy="235.36" r="1.15" fill="#5a1872"/>
<circle cx="376.75" cy="235.36" r="1.15" fill="#5a1872"/>
<circle cx="368.95" cy="242.23" r="1.15" fill="#5a1872"/>
<circle cx="372.85" cy="242.23" r="1.15" fill="#5a1872"/>
<line x1="434.40" y1="196.80" x2="434.40" y2="258.40" stroke="#1c1c1c" stroke-width="1.5" />
<line x1="433.70" y1="257.70" x2="511.70" y2="257.70" stroke="#1c1c1c" stroke-width="1.5" />
<line x1="431.20" y1="200.90" x2="434.40" y2="200.90" stroke="#1c1c1c" stroke-width="1.2" />
<text x="423.90" y="203.90" font-size="8.6" text-anchor="end" fill="#1a1a1a" stroke="#1a1a1a" stroke-width="0.22" textLength="7.6" lengthAdjust="spacingAndGlyphs" ><tspan>10</tspan></text>
<text x="427.50" y="200.70" font-size="5.9" text-anchor="end" fill="#1a1a1a" stroke="#1a1a1a" stroke-width="0.22" ><tspan>6</tspan></text>
<line x1="431.20" y1="215.10" x2="434.40" y2="215.10" stroke="#1c1c1c" stroke-width="1.2" />
<text x="423.90" y="218.10" font-size="8.6" text-anchor="end" fill="#1a1a1a" stroke="#1a1a1a" stroke-width="0.22" textLength="7.6" lengthAdjust="spacingAndGlyphs" ><tspan>10</tspan></text>
<text x="427.50" y="214.90" font-size="5.9" text-anchor="end" fill="#1a1a1a" stroke="#1a1a1a" stroke-width="0.22" ><tspan>5</tspan></text>
<line x1="431.20" y1="229.30" x2="434.40" y2="229.30" stroke="#1c1c1c" stroke-width="1.2" />
<text x="423.90" y="232.30" font-size="8.6" text-anchor="end" fill="#1a1a1a" stroke="#1a1a1a" stroke-width="0.22" textLength="7.6" lengthAdjust="spacingAndGlyphs" ><tspan>10</tspan></text>
<text x="427.50" y="229.10" font-size="5.9" text-anchor="end" fill="#1a1a1a" stroke="#1a1a1a" stroke-width="0.22" ><tspan>4</tspan></text>
<line x1="431.20" y1="243.50" x2="434.40" y2="243.50" stroke="#1c1c1c" stroke-width="1.2" />
<text x="423.90" y="246.50" font-size="8.6" text-anchor="end" fill="#1a1a1a" stroke="#1a1a1a" stroke-width="0.22" textLength="7.6" lengthAdjust="spacingAndGlyphs" ><tspan>10</tspan></text>
<text x="427.50" y="243.30" font-size="5.9" text-anchor="end" fill="#1a1a1a" stroke="#1a1a1a" stroke-width="0.22" ><tspan>3</tspan></text>
<line x1="431.20" y1="257.70" x2="434.40" y2="257.70" stroke="#1c1c1c" stroke-width="1.2" />
<text x="423.90" y="260.70" font-size="8.6" text-anchor="end" fill="#1a1a1a" stroke="#1a1a1a" stroke-width="0.22" textLength="7.6" lengthAdjust="spacingAndGlyphs" ><tspan>10</tspan></text>
<text x="427.50" y="257.50" font-size="5.9" text-anchor="end" fill="#1a1a1a" stroke="#1a1a1a" stroke-width="0.22" ><tspan>2</tspan></text>
<line x1="432.80" y1="210.83" x2="434.40" y2="210.83" stroke="#1c1c1c" stroke-width="0.6" />
<line x1="432.80" y1="208.32" x2="434.40" y2="208.32" stroke="#1c1c1c" stroke-width="0.6" />
<line x1="432.80" y1="206.55" x2="434.40" y2="206.55" stroke="#1c1c1c" stroke-width="0.6" />
<line x1="432.80" y1="205.17" x2="434.40" y2="205.17" stroke="#1c1c1c" stroke-width="0.6" />
<line x1="432.80" y1="204.05" x2="434.40" y2="204.05" stroke="#1c1c1c" stroke-width="0.6" />
<line x1="432.80" y1="203.10" x2="434.40" y2="203.10" stroke="#1c1c1c" stroke-width="0.6" />
<line x1="432.80" y1="202.28" x2="434.40" y2="202.28" stroke="#1c1c1c" stroke-width="0.6" />
<line x1="432.80" y1="201.55" x2="434.40" y2="201.55" stroke="#1c1c1c" stroke-width="0.6" />
<line x1="432.80" y1="225.03" x2="434.40" y2="225.03" stroke="#1c1c1c" stroke-width="0.6" />
<line x1="432.80" y1="222.52" x2="434.40" y2="222.52" stroke="#1c1c1c" stroke-width="0.6" />
<line x1="432.80" y1="220.75" x2="434.40" y2="220.75" stroke="#1c1c1c" stroke-width="0.6" />
<line x1="432.80" y1="219.37" x2="434.40" y2="219.37" stroke="#1c1c1c" stroke-width="0.6" />
<line x1="432.80" y1="218.25" x2="434.40" y2="218.25" stroke="#1c1c1c" stroke-width="0.6" />
<line x1="432.80" y1="217.30" x2="434.40" y2="217.30" stroke="#1c1c1c" stroke-width="0.6" />
<line x1="432.80" y1="216.48" x2="434.40" y2="216.48" stroke="#1c1c1c" stroke-width="0.6" />
<line x1="432.80" y1="215.75" x2="434.40" y2="215.75" stroke="#1c1c1c" stroke-width="0.6" />
<line x1="432.80" y1="239.23" x2="434.40" y2="239.23" stroke="#1c1c1c" stroke-width="0.6" />
<line x1="432.80" y1="236.72" x2="434.40" y2="236.72" stroke="#1c1c1c" stroke-width="0.6" />
<line x1="432.80" y1="234.95" x2="434.40" y2="234.95" stroke="#1c1c1c" stroke-width="0.6" />
<line x1="432.80" y1="233.57" x2="434.40" y2="233.57" stroke="#1c1c1c" stroke-width="0.6" />
<line x1="432.80" y1="232.45" x2="434.40" y2="232.45" stroke="#1c1c1c" stroke-width="0.6" />
<line x1="432.80" y1="231.50" x2="434.40" y2="231.50" stroke="#1c1c1c" stroke-width="0.6" />
<line x1="432.80" y1="230.68" x2="434.40" y2="230.68" stroke="#1c1c1c" stroke-width="0.6" />
<line x1="432.80" y1="229.95" x2="434.40" y2="229.95" stroke="#1c1c1c" stroke-width="0.6" />
<line x1="432.80" y1="253.43" x2="434.40" y2="253.43" stroke="#1c1c1c" stroke-width="0.6" />
<line x1="432.80" y1="250.92" x2="434.40" y2="250.92" stroke="#1c1c1c" stroke-width="0.6" />
<line x1="432.80" y1="249.15" x2="434.40" y2="249.15" stroke="#1c1c1c" stroke-width="0.6" />
<line x1="432.80" y1="247.77" x2="434.40" y2="247.77" stroke="#1c1c1c" stroke-width="0.6" />
<line x1="432.80" y1="246.65" x2="434.40" y2="246.65" stroke="#1c1c1c" stroke-width="0.6" />
<line x1="432.80" y1="245.70" x2="434.40" y2="245.70" stroke="#1c1c1c" stroke-width="0.6" />
<line x1="432.80" y1="244.88" x2="434.40" y2="244.88" stroke="#1c1c1c" stroke-width="0.6" />
<line x1="432.80" y1="244.15" x2="434.40" y2="244.15" stroke="#1c1c1c" stroke-width="0.6" />
<line x1="445.20" y1="257.70" x2="445.20" y2="260.10" stroke="#1c1c1c" stroke-width="1.0" />
<text transform="translate(447.70,268.20) rotate(-45)" font-size="8.3" text-anchor="end" fill="#1a1a1a" stroke="#1a1a1a" stroke-width="0.26" textLength="23.6" lengthAdjust="spacingAndGlyphs" ><tspan>Control</tspan></text>
<line x1="464.80" y1="257.70" x2="464.80" y2="260.10" stroke="#1c1c1c" stroke-width="1.0" />
<text transform="translate(467.30,268.20) rotate(-45)" font-size="8.3" text-anchor="end" fill="#1a1a1a" stroke="#1a1a1a" stroke-width="0.26" textLength="12.5" lengthAdjust="spacingAndGlyphs" ><tspan>Maf</tspan></text>
<line x1="484.40" y1="257.70" x2="484.40" y2="260.10" stroke="#1c1c1c" stroke-width="1.0" />
<text transform="translate(486.90,268.20) rotate(-45)" font-size="8.3" text-anchor="end" fill="#1a1a1a" stroke="#1a1a1a" stroke-width="0.26" textLength="14.0" lengthAdjust="spacingAndGlyphs" ><tspan>CsA</tspan></text>
<line x1="503.60" y1="257.70" x2="503.60" y2="260.10" stroke="#1c1c1c" stroke-width="1.0" />
<text transform="translate(506.10,268.20) rotate(-45)" font-size="8.3" text-anchor="end" fill="#1a1a1a" stroke="#1a1a1a" stroke-width="0.26" textLength="13.6" lengthAdjust="spacingAndGlyphs" ><tspan>Rap</tspan></text>
<text x="474.20" y="182.00" font-size="8.56" text-anchor="middle" fill="#1a1a1a" stroke="#1a1a1a" stroke-width="0.22" textLength="28.0" lengthAdjust="spacingAndGlyphs" ><tspan>TEMRA</tspan></text>
<text transform="translate(400.50,227.00) rotate(-90) scale(1,1.28)" font-size="7.2" text-anchor="middle" fill="#111" stroke="#111" stroke-width="0.3" textLength="61.5" lengthAdjust="spacingAndGlyphs" ><tspan># of CCR7</tspan><tspan dy="-2.16" font-size="5.18">−</tspan><tspan dy="2.16">CD45RA</tspan><tspan dy="-2.16" font-size="5.18">+</tspan></text>
<text transform="translate(411.40,227.00) rotate(-90) scale(1,1.28)" font-size="7.2" text-anchor="middle" fill="#111" stroke="#111" stroke-width="0.3" textLength="34.4" lengthAdjust="spacingAndGlyphs" ><tspan>CD8</tspan><tspan dy="-2.16" font-size="5.18">+</tspan><tspan dy="2.16"> T cells</tspan></text>
<line x1="444.70" y1="194.30" x2="505.20" y2="194.30" stroke="#5c5c5c" stroke-width="0.9" />
<circle cx="472.45" cy="191.40" r="0.95" fill="#222"/>
<circle cx="474.95" cy="191.40" r="0.95" fill="#222"/>
<circle cx="477.45" cy="191.40" r="0.95" fill="#222"/>
<line x1="444.70" y1="201.30" x2="487.20" y2="201.30" stroke="#5c5c5c" stroke-width="0.9" />
<circle cx="464.70" cy="198.40" r="0.95" fill="#222"/>
<circle cx="467.20" cy="198.40" r="0.95" fill="#222"/>
<line x1="444.70" y1="208.20" x2="465.60" y2="208.20" stroke="#5c5c5c" stroke-width="0.9" />
<circle cx="452.65" cy="205.30" r="0.95" fill="#222"/>
<circle cx="455.15" cy="205.30" r="0.95" fill="#222"/>
<circle cx="457.65" cy="205.30" r="0.95" fill="#222"/>
<line x1="445.20" y1="217.70" x2="445.20" y2="238.60" stroke="#333" stroke-width="1.0" />
<line x1="440.90" y1="217.70" x2="449.50" y2="217.70" stroke="#333" stroke-width="1.0" />
<line x1="440.90" y1="238.60" x2="449.50" y2="238.60" stroke="#333" stroke-width="1.0" />
<rect x="438.70" y="224.60" width="13.00" height="13.50" fill="#a3dba6" />
<line x1="438.70" y1="231.60" x2="451.70" y2="231.60" stroke="#1e1e1e" stroke-width="1.35" />
<circle cx="445.20" cy="217.70" r="1.15" fill="#27b040"/>
<circle cx="445.20" cy="220.12" r="1.15" fill="#27b040"/>
<circle cx="445.20" cy="226.98" r="1.15" fill="#27b040"/>
<circle cx="439.35" cy="234.08" r="1.15" fill="#27b040"/>
<circle cx="443.25" cy="234.08" r="1.15" fill="#27b040"/>
<circle cx="447.15" cy="234.08" r="1.15" fill="#27b040"/>
<circle cx="451.05" cy="234.08" r="1.15" fill="#27b040"/>
<circle cx="443.25" cy="235.77" r="1.15" fill="#27b040"/>
<circle cx="447.15" cy="235.77" r="1.15" fill="#27b040"/>
<circle cx="441.30" cy="238.07" r="1.15" fill="#27b040"/>
<circle cx="445.20" cy="238.07" r="1.15" fill="#27b040"/>
<circle cx="449.10" cy="238.07" r="1.15" fill="#27b040"/>
<line x1="464.80" y1="231.10" x2="464.80" y2="248.40" stroke="#333" stroke-width="1.0" />
<line x1="460.50" y1="231.10" x2="469.10" y2="231.10" stroke="#333" stroke-width="1.0" />
<line x1="460.50" y1="248.40" x2="469.10" y2="248.40" stroke="#333" stroke-width="1.0" />
<rect x="458.30" y="237.30" width="13.00" height="7.40" fill="#e89dac" />
<line x1="458.30" y1="241.90" x2="471.30" y2="241.90" stroke="#1e1e1e" stroke-width="1.35" />
<circle cx="464.80" cy="231.10" r="1.15" fill="#d0102e"/>
<circle cx="464.80" cy="233.83" r="1.15" fill="#d0102e"/>
<circle cx="462.85" cy="238.79" r="1.15" fill="#d0102e"/>
<circle cx="466.75" cy="238.79" r="1.15" fill="#d0102e"/>
<circle cx="464.80" cy="240.02" r="1.15" fill="#d0102e"/>
<circle cx="458.95" cy="243.60" r="1.15" fill="#d0102e"/>
<circle cx="462.85" cy="243.60" r="1.15" fill="#d0102e"/>
<circle cx="466.75" cy="243.60" r="1.15" fill="#d0102e"/>
<circle cx="470.65" cy="243.60" r="1.15" fill="#d0102e"/>
<circle cx="460.90" cy="247.92" r="1.15" fill="#d0102e"/>
<circle cx="464.80" cy="247.92" r="1.15" fill="#d0102e"/>
<circle cx="468.70" cy="247.92" r="1.15" fill="#d0102e"/>
<line x1="484.40" y1="221.80" x2="484.40" y2="241.40" stroke="#333" stroke-width="1.0" />
<line x1="480.10" y1="221.80" x2="488.70" y2="221.80" stroke="#333" stroke-width="1.0" />
<line x1="480.10" y1="241.40" x2="488.70" y2="241.40" stroke="#333" stroke-width="1.0" />
<rect x="477.90" y="225.00" width="13.00" height="13.90" fill="#a2bfdc" />
<line x1="477.90" y1="233.20" x2="490.90" y2="233.20" stroke="#1e1e1e" stroke-width="1.35" />
<circle cx="484.40" cy="221.80" r="1.15" fill="#1b5d9c"/>
<circle cx="484.40" cy="224.37" r="1.15" fill="#1b5d9c"/>
<circle cx="482.45" cy="227.01" r="1.15" fill="#1b5d9c"/>
<circle cx="486.35" cy="227.01" r="1.15" fill="#1b5d9c"/>
<circle cx="480.50" cy="232.62" r="1.15" fill="#1b5d9c"/>
<circle cx="484.40" cy="232.62" r="1.15" fill="#1b5d9c"/>
<circle cx="488.30" cy="232.62" r="1.15" fill="#1b5d9c"/>
<circle cx="482.45" cy="234.13" r="1.15" fill="#1b5d9c"/>
<circle cx="486.35" cy="234.13" r="1.15" fill="#1b5d9c"/>
<circle cx="482.45" cy="239.39" r="1.15" fill="#1b5d9c"/>
<circle cx="486.35" cy="239.39" r="1.15" fill="#1b5d9c"/>
<circle cx="484.40" cy="241.40" r="1.15" fill="#1b5d9c"/>
<line x1="503.60" y1="225.00" x2="503.60" y2="244.70" stroke="#333" stroke-width="1.0" />
<line x1="499.30" y1="225.00" x2="507.90" y2="225.00" stroke="#333" stroke-width="1.0" />
<line x1="499.30" y1="244.70" x2="507.90" y2="244.70" stroke="#333" stroke-width="1.0" />
<rect x="497.10" y="227.20" width="13.00" height="14.20" fill="#c6a5d3" />
<line x1="497.10" y1="234.00" x2="510.10" y2="234.00" stroke="#1e1e1e" stroke-width="1.35" />
<circle cx="503.60" cy="225.00" r="1.15" fill="#5a1872"/>
<circle cx="499.70" cy="229.25" r="1.15" fill="#5a1872"/>
<circle cx="503.60" cy="229.25" r="1.15" fill="#5a1872"/>
<circle cx="507.50" cy="229.25" r="1.15" fill="#5a1872"/>
<circle cx="497.75" cy="232.68" r="1.15" fill="#5a1872"/>
<circle cx="501.65" cy="232.68" r="1.15" fill="#5a1872"/>
<circle cx="505.55" cy="232.68" r="1.15" fill="#5a1872"/>
<circle cx="509.45" cy="232.68" r="1.15" fill="#5a1872"/>
<circle cx="501.65" cy="238.53" r="1.15" fill="#5a1872"/>
<circle cx="505.55" cy="238.53" r="1.15" fill="#5a1872"/>
<circle cx="503.60" cy="241.25" r="1.15" fill="#5a1872"/>
<circle cx="503.60" cy="244.70" r="1.15" fill="#5a1872"/>
<line x1="49.10" y1="331.80" x2="49.10" y2="393.10" stroke="#1c1c1c" stroke-width="1.5" />
<line x1="48.40" y1="392.40" x2="126.20" y2="392.40" stroke="#1c1c1c" stroke-width="1.5" />
<line x1="45.90" y1="335.50" x2="49.10" y2="335.50" stroke="#1c1c1c" stroke-width="1.2" />
<text x="38.60" y="338.50" font-size="8.6" text-anchor="end" fill="#1a1a1a" stroke="#1a1a1a" stroke-width="0.22" textLength="7.6" lengthAdjust="spacingAndGlyphs" ><tspan>10</tspan></text>
<text x="42.20" y="335.30" font-size="5.9" text-anchor="end" fill="#1a1a1a" stroke="#1a1a1a" stroke-width="0.22" ><tspan>5</tspan></text>
<line x1="45.90" y1="349.73" x2="49.10" y2="349.73" stroke="#1c1c1c" stroke-width="1.2" />
<text x="38.60" y="352.73" font-size="8.6" text-anchor="end" fill="#1a1a1a" stroke="#1a1a1a" stroke-width="0.22" textLength="7.6" lengthAdjust="spacingAndGlyphs" ><tspan>10</tspan></text>
<text x="42.20" y="349.53" font-size="5.9" text-anchor="end" fill="#1a1a1a" stroke="#1a1a1a" stroke-width="0.22" ><tspan>4</tspan></text>
<line x1="45.90" y1="363.95" x2="49.10" y2="363.95" stroke="#1c1c1c" stroke-width="1.2" />
<text x="38.60" y="366.95" font-size="8.6" text-anchor="end" fill="#1a1a1a" stroke="#1a1a1a" stroke-width="0.22" textLength="7.6" lengthAdjust="spacingAndGlyphs" ><tspan>10</tspan></text>
<text x="42.20" y="363.75" font-size="5.9" text-anchor="end" fill="#1a1a1a" stroke="#1a1a1a" stroke-width="0.22" ><tspan>3</tspan></text>
<line x1="45.90" y1="378.17" x2="49.10" y2="378.17" stroke="#1c1c1c" stroke-width="1.2" />
<text x="38.60" y="381.17" font-size="8.6" text-anchor="end" fill="#1a1a1a" stroke="#1a1a1a" stroke-width="0.22" textLength="7.6" lengthAdjust="spacingAndGlyphs" ><tspan>10</tspan></text>
<text x="42.20" y="377.97" font-size="5.9" text-anchor="end" fill="#1a1a1a" stroke="#1a1a1a" stroke-width="0.22" ><tspan>2</tspan></text>
<line x1="45.90" y1="392.40" x2="49.10" y2="392.40" stroke="#1c1c1c" stroke-width="1.2" />
<text x="38.60" y="395.40" font-size="8.6" text-anchor="end" fill="#1a1a1a" stroke="#1a1a1a" stroke-width="0.22" textLength="7.6" lengthAdjust="spacingAndGlyphs" ><tspan>10</tspan></text>
<text x="42.20" y="392.20" font-size="5.9" text-anchor="end" fill="#1a1a1a" stroke="#1a1a1a" stroke-width="0.22" ><tspan>1</tspan></text>
<line x1="47.50" y1="345.44" x2="49.10" y2="345.44" stroke="#1c1c1c" stroke-width="0.6" />
<line x1="47.50" y1="342.94" x2="49.10" y2="342.94" stroke="#1c1c1c" stroke-width="0.6" />
<line x1="47.50" y1="341.16" x2="49.10" y2="341.16" stroke="#1c1c1c" stroke-width="0.6" />
<line x1="47.50" y1="339.78" x2="49.10" y2="339.78" stroke="#1c1c1c" stroke-width="0.6" />
<line x1="47.50" y1="338.66" x2="49.10" y2="338.66" stroke="#1c1c1c" stroke-width="0.6" />
<line x1="47.50" y1="337.70" x2="49.10" y2="337.70" stroke="#1c1c1c" stroke-width="0.6" />
<line x1="47.50" y1="336.88" x2="49.10" y2="336.88" stroke="#1c1c1c" stroke-width="0.6" />
<line x1="47.50" y1="336.15" x2="49.10" y2="336.15" stroke="#1c1c1c" stroke-width="0.6" />
<line x1="47.50" y1="359.67" x2="49.10" y2="359.67" stroke="#1c1c1c" stroke-width="0.6" />
<line x1="47.50" y1="357.16" x2="49.10" y2="357.16" stroke="#1c1c1c" stroke-width="0.6" />
<line x1="47.50" y1="355.39" x2="49.10" y2="355.39" stroke="#1c1c1c" stroke-width="0.6" />
<line x1="47.50" y1="354.01" x2="49.10" y2="354.01" stroke="#1c1c1c" stroke-width="0.6" />
<line x1="47.50" y1="352.88" x2="49.10" y2="352.88" stroke="#1c1c1c" stroke-width="0.6" />
<line x1="47.50" y1="351.93" x2="49.10" y2="351.93" stroke="#1c1c1c" stroke-width="0.6" />
<line x1="47.50" y1="351.10" x2="49.10" y2="351.10" stroke="#1c1c1c" stroke-width="0.6" />
<line x1="47.50" y1="350.38" x2="49.10" y2="350.38" stroke="#1c1c1c" stroke-width="0.6" />
<line x1="47.50" y1="373.89" x2="49.10" y2="373.89" stroke="#1c1c1c" stroke-width="0.6" />
<line x1="47.50" y1="371.39" x2="49.10" y2="371.39" stroke="#1c1c1c" stroke-width="0.6" />
<line x1="47.50" y1="369.61" x2="49.10" y2="369.61" stroke="#1c1c1c" stroke-width="0.6" />
<line x1="47.50" y1="368.23" x2="49.10" y2="368.23" stroke="#1c1c1c" stroke-width="0.6" />
<line x1="47.50" y1="367.11" x2="49.10" y2="367.11" stroke="#1c1c1c" stroke-width="0.6" />
<line x1="47.50" y1="366.15" x2="49.10" y2="366.15" stroke="#1c1c1c" stroke-width="0.6" />
<line x1="47.50" y1="365.33" x2="49.10" y2="365.33" stroke="#1c1c1c" stroke-width="0.6" />
<line x1="47.50" y1="364.60" x2="49.10" y2="364.60" stroke="#1c1c1c" stroke-width="0.6" />
<line x1="47.50" y1="388.12" x2="49.10" y2="388.12" stroke="#1c1c1c" stroke-width="0.6" />
<line x1="47.50" y1="385.61" x2="49.10" y2="385.61" stroke="#1c1c1c" stroke-width="0.6" />
<line x1="47.50" y1="383.84" x2="49.10" y2="383.84" stroke="#1c1c1c" stroke-width="0.6" />
<line x1="47.50" y1="382.46" x2="49.10" y2="382.46" stroke="#1c1c1c" stroke-width="0.6" />
<line x1="47.50" y1="381.33" x2="49.10" y2="381.33" stroke="#1c1c1c" stroke-width="0.6" />
<line x1="47.50" y1="380.38" x2="49.10" y2="380.38" stroke="#1c1c1c" stroke-width="0.6" />
<line x1="47.50" y1="379.55" x2="49.10" y2="379.55" stroke="#1c1c1c" stroke-width="0.6" />
<line x1="47.50" y1="378.83" x2="49.10" y2="378.83" stroke="#1c1c1c" stroke-width="0.6" />
<line x1="59.70" y1="392.40" x2="59.70" y2="394.80" stroke="#1c1c1c" stroke-width="1.0" />
<text transform="translate(62.20,402.90) rotate(-45)" font-size="8.3" text-anchor="end" fill="#1a1a1a" stroke="#1a1a1a" stroke-width="0.26" textLength="23.6" lengthAdjust="spacingAndGlyphs" ><tspan>Control</tspan></text>
<line x1="78.80" y1="392.40" x2="78.80" y2="394.80" stroke="#1c1c1c" stroke-width="1.0" />
<text transform="translate(81.30,402.90) rotate(-45)" font-size="8.3" text-anchor="end" fill="#1a1a1a" stroke="#1a1a1a" stroke-width="0.26" textLength="12.5" lengthAdjust="spacingAndGlyphs" ><tspan>Maf</tspan></text>
<line x1="98.10" y1="392.40" x2="98.10" y2="394.80" stroke="#1c1c1c" stroke-width="1.0" />
<text transform="translate(100.60,402.90) rotate(-45)" font-size="8.3" text-anchor="end" fill="#1a1a1a" stroke="#1a1a1a" stroke-width="0.26" textLength="14.0" lengthAdjust="spacingAndGlyphs" ><tspan>CsA</tspan></text>
<line x1="117.20" y1="392.40" x2="117.20" y2="394.80" stroke="#1c1c1c" stroke-width="1.0" />
<text transform="translate(119.70,402.90) rotate(-45)" font-size="8.3" text-anchor="end" fill="#1a1a1a" stroke="#1a1a1a" stroke-width="0.26" textLength="13.6" lengthAdjust="spacingAndGlyphs" ><tspan>Rap</tspan></text>
<text x="88.20" y="305.50" font-size="8.774" text-anchor="middle" fill="#1a1a1a" stroke="#1a1a1a" stroke-width="0.22" textLength="18.8" lengthAdjust="spacingAndGlyphs" ><tspan>T</tspan><tspan dy="2.46" font-size="7.02">SCM</tspan></text>
<text x="87.50" y="315.80" font-size="8.56" text-anchor="middle" fill="#1a1a1a" stroke="#1a1a1a" stroke-width="0.22" textLength="96.2" lengthAdjust="spacingAndGlyphs" ><tspan>(CCR7</tspan><tspan dy="-2.57" font-size="6.16">+</tspan><tspan dy="2.57">CD45RA</tspan><tspan dy="-2.57" font-size="6.16">+</tspan><tspan dy="2.57">CD95</tspan><tspan dy="-2.57" font-size="6.16">+</tspan><tspan dy="2.57">)</tspan></text>
<text transform="translate(14.30,361.50) rotate(-90) scale(1,1.28)" font-size="7.2" text-anchor="middle" fill="#111" stroke="#111" stroke-width="0.3" textLength="79.5" lengthAdjust="spacingAndGlyphs" ><tspan># of CCR7</tspan><tspan dy="-2.16" font-size="5.18">+</tspan><tspan dy="2.16">CD45RA</tspan><tspan dy="-2.16" font-size="5.18">+</tspan><tspan dy="2.16">CD95</tspan><tspan dy="-2.16" font-size="5.18">+</tspan></text>
<text transform="translate(26.20,362.10) rotate(-90) scale(1,1.28)" font-size="7.2" text-anchor="middle" fill="#111" stroke="#111" stroke-width="0.3" textLength="35.8" lengthAdjust="spacingAndGlyphs" ><tspan>CD8</tspan><tspan dy="-2.16" font-size="5.18">+</tspan><tspan dy="2.16"> T cells</tspan></text>
<line x1="58.90" y1="332.30" x2="119.70" y2="332.30" stroke="#5c5c5c" stroke-width="0.9" />
<circle cx="85.55" cy="329.40" r="0.95" fill="#222"/>
<circle cx="88.05" cy="329.40" r="0.95" fill="#222"/>
<circle cx="90.55" cy="329.40" r="0.95" fill="#222"/>
<circle cx="93.05" cy="329.40" r="0.95" fill="#222"/>
<line x1="58.90" y1="339.10" x2="99.80" y2="339.10" stroke="#a4a4a4" stroke-width="1.5" />
<circle cx="75.60" cy="336.20" r="0.95" fill="#222"/>
<circle cx="78.10" cy="336.20" r="0.95" fill="#222"/>
<circle cx="80.60" cy="336.20" r="0.95" fill="#222"/>
<circle cx="83.10" cy="336.20" r="0.95" fill="#222"/>
<line x1="58.90" y1="345.70" x2="80.60" y2="345.70" stroke="#a4a4a4" stroke-width="1.5" />
<circle cx="66.00" cy="342.80" r="0.95" fill="#222"/>
<circle cx="68.50" cy="342.80" r="0.95" fill="#222"/>
<circle cx="71.00" cy="342.80" r="0.95" fill="#222"/>
<circle cx="73.50" cy="342.80" r="0.95" fill="#222"/>
<line x1="59.70" y1="355.10" x2="59.70" y2="370.70" stroke="#333" stroke-width="1.0" />
<line x1="55.40" y1="355.10" x2="64.00" y2="355.10" stroke="#333" stroke-width="1.0" />
<line x1="55.40" y1="370.70" x2="64.00" y2="370.70" stroke="#333" stroke-width="1.0" />
<rect x="53.20" y="360.00" width="13.00" height="7.40" fill="#a3dba6" />
<line x1="53.20" y1="364.10" x2="66.20" y2="364.10" stroke="#1e1e1e" stroke-width="1.35" />
<circle cx="59.70" cy="355.10" r="1.15" fill="#27b040"/>
<circle cx="53.85" cy="360.71" r="1.15" fill="#27b040"/>
<circle cx="57.75" cy="360.71" r="1.15" fill="#27b040"/>
<circle cx="61.65" cy="360.71" r="1.15" fill="#27b040"/>
<circle cx="65.55" cy="360.71" r="1.15" fill="#27b040"/>
<circle cx="59.70" cy="361.39" r="1.15" fill="#27b040"/>
<circle cx="57.75" cy="364.19" r="1.15" fill="#27b040"/>
<circle cx="61.65" cy="364.19" r="1.15" fill="#27b040"/>
<circle cx="55.80" cy="366.15" r="1.15" fill="#27b040"/>
<circle cx="59.70" cy="366.15" r="1.15" fill="#27b040"/>
<circle cx="63.60" cy="366.15" r="1.15" fill="#27b040"/>
<circle cx="59.70" cy="370.70" r="1.15" fill="#27b040"/>
<line x1="78.80" y1="365.80" x2="78.80" y2="390.60" stroke="#333" stroke-width="1.0" />
<line x1="74.50" y1="365.80" x2="83.10" y2="365.80" stroke="#333" stroke-width="1.0" />
<line x1="74.50" y1="390.60" x2="83.10" y2="390.60" stroke="#333" stroke-width="1.0" />
<rect x="72.30" y="370.30" width="13.00" height="9.90" fill="#e89dac" />
<line x1="72.30" y1="377.20" x2="85.30" y2="377.20" stroke="#1e1e1e" stroke-width="1.35" />
<circle cx="78.80" cy="365.80" r="1.15" fill="#d0102e"/>
<circle cx="74.90" cy="372.78" r="1.15" fill="#d0102e"/>
<circle cx="78.80" cy="372.78" r="1.15" fill="#d0102e"/>
<circle cx="82.70" cy="372.78" r="1.15" fill="#d0102e"/>
<circle cx="76.85" cy="376.65" r="1.15" fill="#d0102e"/>
<circle cx="80.75" cy="376.65" r="1.15" fill="#d0102e"/>
<circle cx="76.85" cy="378.97" r="1.15" fill="#d0102e"/>
<circle cx="80.75" cy="378.97" r="1.15" fill="#d0102e"/>
<circle cx="78.80" cy="381.95" r="1.15" fill="#d0102e"/>
<circle cx="78.80" cy="386.60" r="1.15" fill="#d0102e"/>
<circle cx="76.85" cy="390.46" r="1.15" fill="#d0102e"/>
<circle cx="80.75" cy="390.46" r="1.15" fill="#d0102e"/>
<line x1="98.10" y1="374.30" x2="98.10" y2="391.90" stroke="#333" stroke-width="1.0" />
<line x1="93.80" y1="374.30" x2="102.40" y2="374.30" stroke="#333" stroke-width="1.0" />
<line x1="93.80" y1="391.90" x2="102.40" y2="391.90" stroke="#333" stroke-width="1.0" />
<rect x="91.60" y="377.50" width="13.00" height="11.20" fill="#a2bfdc" />
<line x1="91.60" y1="381.80" x2="104.60" y2="381.80" stroke="#1e1e1e" stroke-width="1.35" />
<circle cx="98.10" cy="374.30" r="1.15" fill="#1b5d9c"/>
<circle cx="94.20" cy="378.58" r="1.15" fill="#1b5d9c"/>
<circle cx="98.10" cy="378.58" r="1.15" fill="#1b5d9c"/>
<circle cx="102.00" cy="378.58" r="1.15" fill="#1b5d9c"/>
<circle cx="96.15" cy="380.61" r="1.15" fill="#1b5d9c"/>
<circle cx="100.05" cy="380.61" r="1.15" fill="#1b5d9c"/>
<circle cx="96.15" cy="382.78" r="1.15" fill="#1b5d9c"/>
<circle cx="100.05" cy="382.78" r="1.15" fill="#1b5d9c"/>
<circle cx="96.15" cy="387.53" r="1.15" fill="#1b5d9c"/>
<circle cx="100.05" cy="387.53" r="1.15" fill="#1b5d9c"/>
<circle cx="96.15" cy="391.69" r="1.15" fill="#1b5d9c"/>
<circle cx="100.05" cy="391.69" r="1.15" fill="#1b5d9c"/>
<line x1="117.20" y1="368.20" x2="117.20" y2="391.90" stroke="#333" stroke-width="1.0" />
<line x1="112.90" y1="368.20" x2="121.50" y2="368.20" stroke="#333" stroke-width="1.0" />
<line x1="112.90" y1="391.90" x2="121.50" y2="391.90" stroke="#333" stroke-width="1.0" />
<rect x="110.70" y="373.90" width="13.00" height="8.20" fill="#c6a5d3" />
<line x1="110.70" y1="379.70" x2="123.70" y2="379.70" stroke="#1e1e1e" stroke-width="1.35" />
<circle cx="117.20" cy="368.20" r="1.15" fill="#5a1872"/>
<circle cx="117.20" cy="372.87" r="1.15" fill="#5a1872"/>
<circle cx="115.25" cy="375.18" r="1.15" fill="#5a1872"/>
<circle cx="119.15" cy="375.18" r="1.15" fill="#5a1872"/>
<circle cx="117.20" cy="377.17" r="1.15" fill="#5a1872"/>
<circle cx="111.35" cy="380.47" r="1.15" fill="#5a1872"/>
<circle cx="115.25" cy="380.47" r="1.15" fill="#5a1872"/>
<circle cx="119.15" cy="380.47" r="1.15" fill="#5a1872"/>
<circle cx="123.05" cy="380.47" r="1.15" fill="#5a1872"/>
<circle cx="115.25" cy="382.77" r="1.15" fill="#5a1872"/>
<circle cx="119.15" cy="382.77" r="1.15" fill="#5a1872"/>
<circle cx="117.20" cy="391.90" r="1.15" fill="#5a1872"/>
<line x1="170.40" y1="331.40" x2="170.40" y2="393.10" stroke="#1c1c1c" stroke-width="1.5" />
<line x1="169.70" y1="392.40" x2="246.20" y2="392.40" stroke="#1c1c1c" stroke-width="1.5" />
<line x1="167.20" y1="335.50" x2="170.40" y2="335.50" stroke="#1c1c1c" stroke-width="1.2" />
<text x="159.90" y="338.50" font-size="8.6" text-anchor="end" fill="#1a1a1a" stroke="#1a1a1a" stroke-width="0.22" textLength="7.6" lengthAdjust="spacingAndGlyphs" ><tspan>10</tspan></text>
<text x="163.50" y="335.30" font-size="5.9" text-anchor="end" fill="#1a1a1a" stroke="#1a1a1a" stroke-width="0.22" ><tspan>6</tspan></text>
<line x1="167.20" y1="349.73" x2="170.40" y2="349.73" stroke="#1c1c1c" stroke-width="1.2" />
<text x="159.90" y="352.73" font-size="8.6" text-anchor="end" fill="#1a1a1a" stroke="#1a1a1a" stroke-width="0.22" textLength="7.6" lengthAdjust="spacingAndGlyphs" ><tspan>10</tspan></text>
<text x="163.50" y="349.53" font-size="5.9" text-anchor="end" fill="#1a1a1a" stroke="#1a1a1a" stroke-width="0.22" ><tspan>5</tspan></text>
<line x1="167.20" y1="363.95" x2="170.40" y2="363.95" stroke="#1c1c1c" stroke-width="1.2" />
<text x="159.90" y="366.95" font-size="8.6" text-anchor="end" fill="#1a1a1a" stroke="#1a1a1a" stroke-width="0.22" textLength="7.6" lengthAdjust="spacingAndGlyphs" ><tspan>10</tspan></text>
<text x="163.50" y="363.75" font-size="5.9" text-anchor="end" fill="#1a1a1a" stroke="#1a1a1a" stroke-width="0.22" ><tspan>4</tspan></text>
<line x1="167.20" y1="378.17" x2="170.40" y2="378.17" stroke="#1c1c1c" stroke-width="1.2" />
<text x="159.90" y="381.17" font-size="8.6" text-anchor="end" fill="#1a1a1a" stroke="#1a1a1a" stroke-width="0.22" textLength="7.6" lengthAdjust="spacingAndGlyphs" ><tspan>10</tspan></text>
<text x="163.50" y="377.97" font-size="5.9" text-anchor="end" fill="#1a1a1a" stroke="#1a1a1a" stroke-width="0.22" ><tspan>3</tspan></text>
<line x1="167.20" y1="392.40" x2="170.40" y2="392.40" stroke="#1c1c1c" stroke-width="1.2" />
<text x="159.90" y="395.40" font-size="8.6" text-anchor="end" fill="#1a1a1a" stroke="#1a1a1a" stroke-width="0.22" textLength="7.6" lengthAdjust="spacingAndGlyphs" ><tspan>10</tspan></text>
<text x="163.50" y="392.20" font-size="5.9" text-anchor="end" fill="#1a1a1a" stroke="#1a1a1a" stroke-width="0.22" ><tspan>2</tspan></text>
<line x1="168.80" y1="345.44" x2="170.40" y2="345.44" stroke="#1c1c1c" stroke-width="0.6" />
<line x1="168.80" y1="342.94" x2="170.40" y2="342.94" stroke="#1c1c1c" stroke-width="0.6" />
<line x1="168.80" y1="341.16" x2="170.40" y2="341.16" stroke="#1c1c1c" stroke-width="0.6" />
<line x1="168.80" y1="339.78" x2="170.40" y2="339.78" stroke="#1c1c1c" stroke-width="0.6" />
<line x1="168.80" y1="338.66" x2="170.40" y2="338.66" stroke="#1c1c1c" stroke-width="0.6" />
<line x1="168.80" y1="337.70" x2="170.40" y2="337.70" stroke="#1c1c1c" stroke-width="0.6" />
<line x1="168.80" y1="336.88" x2="170.40" y2="336.88" stroke="#1c1c1c" stroke-width="0.6" />
<line x1="168.80" y1="336.15" x2="170.40" y2="336.15" stroke="#1c1c1c" stroke-width="0.6" />
<line x1="168.80" y1="359.67" x2="170.40" y2="359.67" stroke="#1c1c1c" stroke-width="0.6" />
<line x1="168.80" y1="357.16" x2="170.40" y2="357.16" stroke="#1c1c1c" stroke-width="0.6" />
<line x1="168.80" y1="355.39" x2="170.40" y2="355.39" stroke="#1c1c1c" stroke-width="0.6" />
<line x1="168.80" y1="354.01" x2="170.40" y2="354.01" stroke="#1c1c1c" stroke-width="0.6" />
<line x1="168.80" y1="352.88" x2="170.40" y2="352.88" stroke="#1c1c1c" stroke-width="0.6" />
<line x1="168.80" y1="351.93" x2="170.40" y2="351.93" stroke="#1c1c1c" stroke-width="0.6" />
<line x1="168.80" y1="351.10" x2="170.40" y2="351.10" stroke="#1c1c1c" stroke-width="0.6" />
<line x1="168.80" y1="350.38" x2="170.40" y2="350.38" stroke="#1c1c1c" stroke-width="0.6" />
<line x1="168.80" y1="373.89" x2="170.40" y2="373.89" stroke="#1c1c1c" stroke-width="0.6" />
<line x1="168.80" y1="371.39" x2="170.40" y2="371.39" stroke="#1c1c1c" stroke-width="0.6" />
<line x1="168.80" y1="369.61" x2="170.40" y2="369.61" stroke="#1c1c1c" stroke-width="0.6" />
<line x1="168.80" y1="368.23" x2="170.40" y2="368.23" stroke="#1c1c1c" stroke-width="0.6" />
<line x1="168.80" y1="367.11" x2="170.40" y2="367.11" stroke="#1c1c1c" stroke-width="0.6" />
<line x1="168.80" y1="366.15" x2="170.40" y2="366.15" stroke="#1c1c1c" stroke-width="0.6" />
<line x1="168.80" y1="365.33" x2="170.40" y2="365.33" stroke="#1c1c1c" stroke-width="0.6" />
<line x1="168.80" y1="364.60" x2="170.40" y2="364.60" stroke="#1c1c1c" stroke-width="0.6" />
<line x1="168.80" y1="388.12" x2="170.40" y2="388.12" stroke="#1c1c1c" stroke-width="0.6" />
<line x1="168.80" y1="385.61" x2="170.40" y2="385.61" stroke="#1c1c1c" stroke-width="0.6" />
<line x1="168.80" y1="383.84" x2="170.40" y2="383.84" stroke="#1c1c1c" stroke-width="0.6" />
<line x1="168.80" y1="382.46" x2="170.40" y2="382.46" stroke="#1c1c1c" stroke-width="0.6" />
<line x1="168.80" y1="381.33" x2="170.40" y2="381.33" stroke="#1c1c1c" stroke-width="0.6" />
<line x1="168.80" y1="380.38" x2="170.40" y2="380.38" stroke="#1c1c1c" stroke-width="0.6" />
<line x1="168.80" y1="379.55" x2="170.40" y2="379.55" stroke="#1c1c1c" stroke-width="0.6" />
<line x1="168.80" y1="378.83" x2="170.40" y2="378.83" stroke="#1c1c1c" stroke-width="0.6" />
<line x1="180.50" y1="392.40" x2="180.50" y2="394.80" stroke="#1c1c1c" stroke-width="1.0" />
<text transform="translate(183.00,402.90) rotate(-45)" font-size="8.3" text-anchor="end" fill="#1a1a1a" stroke="#1a1a1a" stroke-width="0.26" textLength="23.6" lengthAdjust="spacingAndGlyphs" ><tspan>Control</tspan></text>
<line x1="199.80" y1="392.40" x2="199.80" y2="394.80" stroke="#1c1c1c" stroke-width="1.0" />
<text transform="translate(202.30,402.90) rotate(-45)" font-size="8.3" text-anchor="end" fill="#1a1a1a" stroke="#1a1a1a" stroke-width="0.26" textLength="12.5" lengthAdjust="spacingAndGlyphs" ><tspan>Maf</tspan></text>
<line x1="218.90" y1="392.40" x2="218.90" y2="394.80" stroke="#1c1c1c" stroke-width="1.0" />
<text transform="translate(221.40,402.90) rotate(-45)" font-size="8.3" text-anchor="end" fill="#1a1a1a" stroke="#1a1a1a" stroke-width="0.26" textLength="14.0" lengthAdjust="spacingAndGlyphs" ><tspan>CsA</tspan></text>
<line x1="238.60" y1="392.40" x2="238.60" y2="394.80" stroke="#1c1c1c" stroke-width="1.0" />
<text transform="translate(241.10,402.90) rotate(-45)" font-size="8.3" text-anchor="end" fill="#1a1a1a" stroke="#1a1a1a" stroke-width="0.26" textLength="13.6" lengthAdjust="spacingAndGlyphs" ><tspan>Rap</tspan></text>
<text x="208.60" y="316.50" font-size="8.56" text-anchor="middle" fill="#1a1a1a" stroke="#1a1a1a" stroke-width="0.22" textLength="65.1" lengthAdjust="spacingAndGlyphs" ><tspan>CD161</tspan><tspan dy="-2.57" font-size="6.16">+</tspan><tspan dy="2.57">CD218a</tspan><tspan dy="-2.57" font-size="6.16">+</tspan></text>
<text transform="translate(147.80,361.50) rotate(-90) scale(1,1.28)" font-size="7.2" text-anchor="middle" fill="#111" stroke="#111" stroke-width="0.3" textLength="96" lengthAdjust="spacingAndGlyphs" ><tspan># of CD161</tspan><tspan dy="-2.16" font-size="5.18">+</tspan><tspan dy="2.16">CD218a</tspan><tspan dy="-2.16" font-size="5.18">+</tspan><tspan dy="2.16"> CD8</tspan><tspan dy="-2.16" font-size="5.18">+</tspan><tspan dy="2.16"> T cells</tspan></text>
<line x1="180.90" y1="332.30" x2="242.60" y2="332.30" stroke="#5c5c5c" stroke-width="0.9" />
<circle cx="209.25" cy="329.40" r="0.95" fill="#222"/>
<circle cx="211.75" cy="329.40" r="0.95" fill="#222"/>
<circle cx="214.25" cy="329.40" r="0.95" fill="#222"/>
<line x1="180.90" y1="339.10" x2="221.90" y2="339.10" stroke="#a4a4a4" stroke-width="1.5" />
<circle cx="197.65" cy="336.20" r="0.95" fill="#222"/>
<circle cx="200.15" cy="336.20" r="0.95" fill="#222"/>
<circle cx="202.65" cy="336.20" r="0.95" fill="#222"/>
<circle cx="205.15" cy="336.20" r="0.95" fill="#222"/>
<line x1="180.90" y1="345.70" x2="202.90" y2="345.70" stroke="#a4a4a4" stroke-width="1.5" />
<circle cx="188.15" cy="342.80" r="0.95" fill="#222"/>
<circle cx="190.65" cy="342.80" r="0.95" fill="#222"/>
<circle cx="193.15" cy="342.80" r="0.95" fill="#222"/>
<circle cx="195.65" cy="342.80" r="0.95" fill="#222"/>
<line x1="180.50" y1="353.50" x2="180.50" y2="369.90" stroke="#333" stroke-width="1.0" />
<line x1="176.20" y1="353.50" x2="184.80" y2="353.50" stroke="#333" stroke-width="1.0" />
<line x1="176.20" y1="369.90" x2="184.80" y2="369.90" stroke="#333" stroke-width="1.0" />
<rect x="174.00" y="358.40" width="13.00" height="9.30" fill="#a3dba6" />
<line x1="174.00" y1="362.50" x2="187.00" y2="362.50" stroke="#1e1e1e" stroke-width="1.35" />
<circle cx="180.50" cy="353.50" r="1.15" fill="#27b040"/>
<circle cx="180.50" cy="355.57" r="1.15" fill="#27b040"/>
<circle cx="180.50" cy="358.41" r="1.15" fill="#27b040"/>
<circle cx="178.55" cy="361.23" r="1.15" fill="#27b040"/>
<circle cx="182.45" cy="361.23" r="1.15" fill="#27b040"/>
<circle cx="180.50" cy="363.13" r="1.15" fill="#27b040"/>
<circle cx="176.60" cy="365.69" r="1.15" fill="#27b040"/>
<circle cx="180.50" cy="365.69" r="1.15" fill="#27b040"/>
<circle cx="184.40" cy="365.69" r="1.15" fill="#27b040"/>
<circle cx="178.55" cy="367.59" r="1.15" fill="#27b040"/>
<circle cx="182.45" cy="367.59" r="1.15" fill="#27b040"/>
<circle cx="180.50" cy="369.90" r="1.15" fill="#27b040"/>
<line x1="199.80" y1="359.60" x2="199.80" y2="386.70" stroke="#333" stroke-width="1.0" />
<line x1="195.50" y1="359.60" x2="204.10" y2="359.60" stroke="#333" stroke-width="1.0" />
<line x1="195.50" y1="386.70" x2="204.10" y2="386.70" stroke="#333" stroke-width="1.0" />
<rect x="193.30" y="365.00" width="13.00" height="12.20" fill="#e89dac" />
<line x1="193.30" y1="371.50" x2="206.30" y2="371.50" stroke="#1e1e1e" stroke-width="1.35" />
<circle cx="199.80" cy="359.60" r="1.15" fill="#d0102e"/>
<circle cx="199.80" cy="362.63" r="1.15" fill="#d0102e"/>
<circle cx="193.95" cy="365.56" r="1.15" fill="#d0102e"/>
<circle cx="197.85" cy="365.56" r="1.15" fill="#d0102e"/>
<circle cx="201.75" cy="365.56" r="1.15" fill="#d0102e"/>
<circle cx="205.65" cy="365.56" r="1.15" fill="#d0102e"/>
<circle cx="199.80" cy="366.99" r="1.15" fill="#d0102e"/>
<circle cx="195.90" cy="374.78" r="1.15" fill="#d0102e"/>
<circle cx="199.80" cy="374.78" r="1.15" fill="#d0102e"/>
<circle cx="203.70" cy="374.78" r="1.15" fill="#d0102e"/>
<circle cx="199.80" cy="376.33" r="1.15" fill="#d0102e"/>
<circle cx="199.80" cy="386.70" r="1.15" fill="#d0102e"/>
<line x1="218.90" y1="359.60" x2="218.90" y2="377.20" stroke="#333" stroke-width="1.0" />
<line x1="214.60" y1="359.60" x2="223.20" y2="359.60" stroke="#333" stroke-width="1.0" />
<line x1="214.60" y1="377.20" x2="223.20" y2="377.20" stroke="#333" stroke-width="1.0" />
<rect x="212.40" y="362.20" width="13.00" height="10.40" fill="#a2bfdc" />
<line x1="212.40" y1="370.70" x2="225.40" y2="370.70" stroke="#1e1e1e" stroke-width="1.35" />
<circle cx="218.90" cy="359.60" r="1.15" fill="#1b5d9c"/>
<circle cx="213.05" cy="362.76" r="1.15" fill="#1b5d9c"/>
<circle cx="216.95" cy="362.76" r="1.15" fill="#1b5d9c"/>
<circle cx="220.85" cy="362.76" r="1.15" fill="#1b5d9c"/>
<circle cx="224.75" cy="362.76" r="1.15" fill="#1b5d9c"/>
<circle cx="215.00" cy="365.17" r="1.15" fill="#1b5d9c"/>
<circle cx="218.90" cy="365.17" r="1.15" fill="#1b5d9c"/>
<circle cx="222.80" cy="365.17" r="1.15" fill="#1b5d9c"/>
<circle cx="216.95" cy="370.08" r="1.15" fill="#1b5d9c"/>
<circle cx="220.85" cy="370.08" r="1.15" fill="#1b5d9c"/>
<circle cx="218.90" cy="372.47" r="1.15" fill="#1b5d9c"/>
<circle cx="218.90" cy="377.20" r="1.15" fill="#1b5d9c"/>
<line x1="238.60" y1="357.60" x2="238.60" y2="378.80" stroke="#333" stroke-width="1.0" />
<line x1="234.30" y1="357.60" x2="242.90" y2="357.60" stroke="#333" stroke-width="1.0" />
<line x1="234.30" y1="378.80" x2="242.90" y2="378.80" stroke="#333" stroke-width="1.0" />
<rect x="232.10" y="362.80" width="13.00" height="11.10" fill="#c6a5d3" />
<line x1="232.10" y1="368.50" x2="245.10" y2="368.50" stroke="#1e1e1e" stroke-width="1.35" />
<circle cx="238.60" cy="357.60" r="1.15" fill="#5a1872"/>
<circle cx="238.60" cy="361.74" r="1.15" fill="#5a1872"/>
<circle cx="238.60" cy="364.33" r="1.15" fill="#5a1872"/>
<circle cx="234.70" cy="367.94" r="1.15" fill="#5a1872"/>
<circle cx="238.60" cy="367.94" r="1.15" fill="#5a1872"/>
<circle cx="242.50" cy="367.94" r="1.15" fill="#5a1872"/>
<circle cx="236.65" cy="371.31" r="1.15" fill="#5a1872"/>
<circle cx="240.55" cy="371.31" r="1.15" fill="#5a1872"/>
<circle cx="234.70" cy="373.37" r="1.15" fill="#5a1872"/>
<circle cx="238.60" cy="373.37" r="1.15" fill="#5a1872"/>
<circle cx="242.50" cy="373.37" r="1.15" fill="#5a1872"/>
<circle cx="238.60" cy="378.80" r="1.15" fill="#5a1872"/>
<line x1="302.40" y1="331.40" x2="302.40" y2="393.10" stroke="#1c1c1c" stroke-width="1.5" />
<line x1="301.70" y1="392.40" x2="378.70" y2="392.40" stroke="#1c1c1c" stroke-width="1.5" />
<line x1="299.20" y1="335.50" x2="302.40" y2="335.50" stroke="#1c1c1c" stroke-width="1.2" />
<text x="291.90" y="338.50" font-size="8.6" text-anchor="end" fill="#1a1a1a" stroke="#1a1a1a" stroke-width="0.22" textLength="7.6" lengthAdjust="spacingAndGlyphs" ><tspan>10</tspan></text>
<text x="295.50" y="335.30" font-size="5.9" text-anchor="end" fill="#1a1a1a" stroke="#1a1a1a" stroke-width="0.22" ><tspan>6</tspan></text>
<line x1="299.20" y1="349.73" x2="302.40" y2="349.73" stroke="#1c1c1c" stroke-width="1.2" />
<text x="291.90" y="352.73" font-size="8.6" text-anchor="end" fill="#1a1a1a" stroke="#1a1a1a" stroke-width="0.22" textLength="7.6" lengthAdjust="spacingAndGlyphs" ><tspan>10</tspan></text>
<text x="295.50" y="349.53" font-size="5.9" text-anchor="end" fill="#1a1a1a" stroke="#1a1a1a" stroke-width="0.22" ><tspan>5</tspan></text>
<line x1="299.20" y1="363.95" x2="302.40" y2="363.95" stroke="#1c1c1c" stroke-width="1.2" />
<text x="291.90" y="366.95" font-size="8.6" text-anchor="end" fill="#1a1a1a" stroke="#1a1a1a" stroke-width="0.22" textLength="7.6" lengthAdjust="spacingAndGlyphs" ><tspan>10</tspan></text>
<text x="295.50" y="363.75" font-size="5.9" text-anchor="end" fill="#1a1a1a" stroke="#1a1a1a" stroke-width="0.22" ><tspan>4</tspan></text>
<line x1="299.20" y1="378.17" x2="302.40" y2="378.17" stroke="#1c1c1c" stroke-width="1.2" />
<text x="291.90" y="381.17" font-size="8.6" text-anchor="end" fill="#1a1a1a" stroke="#1a1a1a" stroke-width="0.22" textLength="7.6" lengthAdjust="spacingAndGlyphs" ><tspan>10</tspan></text>
<text x="295.50" y="377.97" font-size="5.9" text-anchor="end" fill="#1a1a1a" stroke="#1a1a1a" stroke-width="0.22" ><tspan>3</tspan></text>
<line x1="299.20" y1="392.40" x2="302.40" y2="392.40" stroke="#1c1c1c" stroke-width="1.2" />
<text x="291.90" y="395.40" font-size="8.6" text-anchor="end" fill="#1a1a1a" stroke="#1a1a1a" stroke-width="0.22" textLength="7.6" lengthAdjust="spacingAndGlyphs" ><tspan>10</tspan></text>
<text x="295.50" y="392.20" font-size="5.9" text-anchor="end" fill="#1a1a1a" stroke="#1a1a1a" stroke-width="0.22" ><tspan>2</tspan></text>
<line x1="300.80" y1="345.44" x2="302.40" y2="345.44" stroke="#1c1c1c" stroke-width="0.6" />
<line x1="300.80" y1="342.94" x2="302.40" y2="342.94" stroke="#1c1c1c" stroke-width="0.6" />
<line x1="300.80" y1="341.16" x2="302.40" y2="341.16" stroke="#1c1c1c" stroke-width="0.6" />
<line x1="300.80" y1="339.78" x2="302.40" y2="339.78" stroke="#1c1c1c" stroke-width="0.6" />
<line x1="300.80" y1="338.66" x2="302.40" y2="338.66" stroke="#1c1c1c" stroke-width="0.6" />
<line x1="300.80" y1="337.70" x2="302.40" y2="337.70" stroke="#1c1c1c" stroke-width="0.6" />
<line x1="300.80" y1="336.88" x2="302.40" y2="336.88" stroke="#1c1c1c" stroke-width="0.6" />
<line x1="300.80" y1="336.15" x2="302.40" y2="336.15" stroke="#1c1c1c" stroke-width="0.6" />
<line x1="300.80" y1="359.67" x2="302.40" y2="359.67" stroke="#1c1c1c" stroke-width="0.6" />
<line x1="300.80" y1="357.16" x2="302.40" y2="357.16" stroke="#1c1c1c" stroke-width="0.6" />
<line x1="300.80" y1="355.39" x2="302.40" y2="355.39" stroke="#1c1c1c" stroke-width="0.6" />
<line x1="300.80" y1="354.01" x2="302.40" y2="354.01" stroke="#1c1c1c" stroke-width="0.6" />
<line x1="300.80" y1="352.88" x2="302.40" y2="352.88" stroke="#1c1c1c" stroke-width="0.6" />
<line x1="300.80" y1="351.93" x2="302.40" y2="351.93" stroke="#1c1c1c" stroke-width="0.6" />
<line x1="300.80" y1="351.10" x2="302.40" y2="351.10" stroke="#1c1c1c" stroke-width="0.6" />
<line x1="300.80" y1="350.38" x2="302.40" y2="350.38" stroke="#1c1c1c" stroke-width="0.6" />
<line x1="300.80" y1="373.89" x2="302.40" y2="373.89" stroke="#1c1c1c" stroke-width="0.6" />
<line x1="300.80" y1="371.39" x2="302.40" y2="371.39" stroke="#1c1c1c" stroke-width="0.6" />
<line x1="300.80" y1="369.61" x2="302.40" y2="369.61" stroke="#1c1c1c" stroke-width="0.6" />
<line x1="300.80" y1="368.23" x2="302.40" y2="368.23" stroke="#1c1c1c" stroke-width="0.6" />
<line x1="300.80" y1="367.11" x2="302.40" y2="367.11" stroke="#1c1c1c" stroke-width="0.6" />
<line x1="300.80" y1="366.15" x2="302.40" y2="366.15" stroke="#1c1c1c" stroke-width="0.6" />
<line x1="300.80" y1="365.33" x2="302.40" y2="365.33" stroke="#1c1c1c" stroke-width="0.6" />
<line x1="300.80" y1="364.60" x2="302.40" y2="364.60" stroke="#1c1c1c" stroke-width="0.6" />
<line x1="300.80" y1="388.12" x2="302.40" y2="388.12" stroke="#1c1c1c" stroke-width="0.6" />
<line x1="300.80" y1="385.61" x2="302.40" y2="385.61" stroke="#1c1c1c" stroke-width="0.6" />
<line x1="300.80" y1="383.84" x2="302.40" y2="383.84" stroke="#1c1c1c" stroke-width="0.6" />
<line x1="300.80" y1="382.46" x2="302.40" y2="382.46" stroke="#1c1c1c" stroke-width="0.6" />
<line x1="300.80" y1="381.33" x2="302.40" y2="381.33" stroke="#1c1c1c" stroke-width="0.6" />
<line x1="300.80" y1="380.38" x2="302.40" y2="380.38" stroke="#1c1c1c" stroke-width="0.6" />
<line x1="300.80" y1="379.55" x2="302.40" y2="379.55" stroke="#1c1c1c" stroke-width="0.6" />
<line x1="300.80" y1="378.83" x2="302.40" y2="378.83" stroke="#1c1c1c" stroke-width="0.6" />
<line x1="312.90" y1="392.40" x2="312.90" y2="394.80" stroke="#1c1c1c" stroke-width="1.0" />
<text transform="translate(315.40,402.90) rotate(-45)" font-size="8.3" text-anchor="end" fill="#1a1a1a" stroke="#1a1a1a" stroke-width="0.26" textLength="23.6" lengthAdjust="spacingAndGlyphs" ><tspan>Control</tspan></text>
<line x1="332.10" y1="392.40" x2="332.10" y2="394.80" stroke="#1c1c1c" stroke-width="1.0" />
<text transform="translate(334.60,402.90) rotate(-45)" font-size="8.3" text-anchor="end" fill="#1a1a1a" stroke="#1a1a1a" stroke-width="0.26" textLength="12.5" lengthAdjust="spacingAndGlyphs" ><tspan>Maf</tspan></text>
<line x1="351.40" y1="392.40" x2="351.40" y2="394.80" stroke="#1c1c1c" stroke-width="1.0" />
<text transform="translate(353.90,402.90) rotate(-45)" font-size="8.3" text-anchor="end" fill="#1a1a1a" stroke="#1a1a1a" stroke-width="0.26" textLength="14.0" lengthAdjust="spacingAndGlyphs" ><tspan>CsA</tspan></text>
<line x1="370.60" y1="392.40" x2="370.60" y2="394.80" stroke="#1c1c1c" stroke-width="1.0" />
<text transform="translate(373.10,402.90) rotate(-45)" font-size="8.3" text-anchor="end" fill="#1a1a1a" stroke="#1a1a1a" stroke-width="0.26" textLength="13.6" lengthAdjust="spacingAndGlyphs" ><tspan>Rap</tspan></text>
<text x="340.55" y="305.40" font-size="8.56" text-anchor="middle" fill="#1a1a1a" stroke="#1a1a1a" stroke-width="0.22" textLength="17.3" lengthAdjust="spacingAndGlyphs" ><tspan>MAIT</tspan></text>
<text x="341.40" y="314.80" font-size="8.56" text-anchor="middle" fill="#1a1a1a" stroke="#1a1a1a" stroke-width="0.22" textLength="103.4" lengthAdjust="spacingAndGlyphs" ><tspan>(CD161</tspan><tspan dy="-2.57" font-size="6.16">+</tspan><tspan dy="2.57">CD218</tspan><tspan dy="-2.57" font-size="6.16">+</tspan><tspan dy="2.57">TCRVα7.2</tspan><tspan dy="-2.57" font-size="6.16">+</tspan><tspan dy="2.57">)</tspan></text>
<text transform="translate(267.80,361.90) rotate(-90) scale(1,1.28)" font-size="7.2" text-anchor="middle" fill="#111" stroke="#111" stroke-width="0.3" textLength="93.5" lengthAdjust="spacingAndGlyphs" ><tspan># of CD161</tspan><tspan dy="-2.16" font-size="5.18">+</tspan><tspan dy="2.16">CD218a</tspan><tspan dy="-2.16" font-size="5.18">+</tspan><tspan dy="2.16">TCRVα7.2</tspan><tspan dy="-2.16" font-size="5.18">+</tspan></text>
<text transform="translate(278.80,361.00) rotate(-90) scale(1,1.28)" font-size="7.2" text-anchor="middle" fill="#111" stroke="#111" stroke-width="0.3" textLength="34.6" lengthAdjust="spacingAndGlyphs" ><tspan>CD8</tspan><tspan dy="-2.16" font-size="5.18">+</tspan><tspan dy="2.16"> T cells</tspan></text>
<line x1="312.90" y1="333.10" x2="373.50" y2="333.10" stroke="#5c5c5c" stroke-width="0.9" />
<text x="343.20" y="331.20" font-size="7.6" text-anchor="middle" fill="#3a3a3a" ><tspan>ns</tspan></text>
<line x1="312.90" y1="340.90" x2="353.90" y2="340.90" stroke="#5c5c5c" stroke-width="0.9" />
<text x="333.40" y="339.00" font-size="7.6" text-anchor="middle" fill="#3a3a3a" ><tspan>ns</tspan></text>
<line x1="312.90" y1="348.10" x2="334.90" y2="348.10" stroke="#5c5c5c" stroke-width="0.9" />
<circle cx="322.65" cy="345.20" r="0.95" fill="#222"/>
<circle cx="325.15" cy="345.20" r="0.95" fill="#222"/>
<line x1="312.90" y1="354.70" x2="312.90" y2="374.30" stroke="#333" stroke-width="1.0" />
<line x1="308.60" y1="354.70" x2="317.20" y2="354.70" stroke="#333" stroke-width="1.0" />
<line x1="308.60" y1="374.30" x2="317.20" y2="374.30" stroke="#333" stroke-width="1.0" />
<rect x="306.40" y="357.30" width="13.00" height="13.00" fill="#a3dba6" />
<line x1="306.40" y1="366.10" x2="319.40" y2="366.10" stroke="#1e1e1e" stroke-width="1.35" />
<circle cx="312.90" cy="354.70" r="1.15" fill="#27b040"/>
<circle cx="310.95" cy="359.25" r="1.15" fill="#27b040"/>
<circle cx="314.85" cy="359.25" r="1.15" fill="#27b040"/>
<circle cx="312.90" cy="365.52" r="1.15" fill="#27b040"/>
<circle cx="312.90" cy="368.88" r="1.15" fill="#27b040"/>
<circle cx="312.90" cy="374.30" r="1.15" fill="#27b040"/>
<line x1="332.10" y1="360.00" x2="332.10" y2="382.40" stroke="#333" stroke-width="1.0" />
<line x1="327.80" y1="360.00" x2="336.40" y2="360.00" stroke="#333" stroke-width="1.0" />
<line x1="327.80" y1="382.40" x2="336.40" y2="382.40" stroke="#333" stroke-width="1.0" />
<rect x="325.60" y="362.20" width="13.00" height="10.90" fill="#e89dac" />
<line x1="325.60" y1="370.20" x2="338.60" y2="370.20" stroke="#1e1e1e" stroke-width="1.35" />
<circle cx="332.10" cy="360.00" r="1.15" fill="#d0102e"/>
<circle cx="330.15" cy="367.99" r="1.15" fill="#d0102e"/>
<circle cx="334.05" cy="367.99" r="1.15" fill="#d0102e"/>
<circle cx="330.15" cy="373.48" r="1.15" fill="#d0102e"/>
<circle cx="334.05" cy="373.48" r="1.15" fill="#d0102e"/>
<circle cx="332.10" cy="382.40" r="1.15" fill="#d0102e"/>
<line x1="351.40" y1="359.60" x2="351.40" y2="373.10" stroke="#333" stroke-width="1.0" />
<line x1="347.10" y1="359.60" x2="355.70" y2="359.60" stroke="#333" stroke-width="1.0" />
<line x1="347.10" y1="373.10" x2="355.70" y2="373.10" stroke="#333" stroke-width="1.0" />
<rect x="344.90" y="361.70" width="13.00" height="10.60" fill="#a2bfdc" />
<line x1="344.90" y1="368.20" x2="357.90" y2="368.20" stroke="#1e1e1e" stroke-width="1.35" />
<circle cx="351.40" cy="359.60" r="1.15" fill="#1b5d9c"/>
<circle cx="351.40" cy="362.26" r="1.15" fill="#1b5d9c"/>
<circle cx="351.40" cy="364.98" r="1.15" fill="#1b5d9c"/>
<circle cx="349.45" cy="370.09" r="1.15" fill="#1b5d9c"/>
<circle cx="353.35" cy="370.09" r="1.15" fill="#1b5d9c"/>
<circle cx="351.40" cy="373.10" r="1.15" fill="#1b5d9c"/>
<line x1="370.60" y1="357.90" x2="370.60" y2="373.60" stroke="#333" stroke-width="1.0" />
<line x1="366.30" y1="357.90" x2="374.90" y2="357.90" stroke="#333" stroke-width="1.0" />
<line x1="366.30" y1="373.60" x2="374.90" y2="373.60" stroke="#333" stroke-width="1.0" />
<rect x="364.10" y="359.20" width="13.00" height="13.90" fill="#c6a5d3" />
<line x1="364.10" y1="367.40" x2="377.10" y2="367.40" stroke="#1e1e1e" stroke-width="1.35" />
<circle cx="370.60" cy="357.90" r="1.15" fill="#5a1872"/>
<circle cx="368.65" cy="361.50" r="1.15" fill="#5a1872"/>
<circle cx="372.55" cy="361.50" r="1.15" fill="#5a1872"/>
<circle cx="370.60" cy="366.62" r="1.15" fill="#5a1872"/>
<circle cx="368.65" cy="373.21" r="1.15" fill="#5a1872"/>
<circle cx="372.55" cy="373.21" r="1.15" fill="#5a1872"/>
<line x1="434.40" y1="332.70" x2="434.40" y2="393.10" stroke="#1c1c1c" stroke-width="1.5" />
<line x1="433.70" y1="392.40" x2="509.80" y2="392.40" stroke="#1c1c1c" stroke-width="1.5" />
<line x1="431.20" y1="336.30" x2="434.40" y2="336.30" stroke="#1c1c1c" stroke-width="1.2" />
<text x="423.90" y="339.30" font-size="8.6" text-anchor="end" fill="#1a1a1a" stroke="#1a1a1a" stroke-width="0.22" textLength="7.6" lengthAdjust="spacingAndGlyphs" ><tspan>10</tspan></text>
<text x="427.50" y="336.10" font-size="5.9" text-anchor="end" fill="#1a1a1a" stroke="#1a1a1a" stroke-width="0.22" ><tspan>5</tspan></text>
<line x1="431.20" y1="350.32" x2="434.40" y2="350.32" stroke="#1c1c1c" stroke-width="1.2" />
<text x="423.90" y="353.32" font-size="8.6" text-anchor="end" fill="#1a1a1a" stroke="#1a1a1a" stroke-width="0.22" textLength="7.6" lengthAdjust="spacingAndGlyphs" ><tspan>10</tspan></text>
<text x="427.50" y="350.12" font-size="5.9" text-anchor="end" fill="#1a1a1a" stroke="#1a1a1a" stroke-width="0.22" ><tspan>4</tspan></text>
<line x1="431.20" y1="364.35" x2="434.40" y2="364.35" stroke="#1c1c1c" stroke-width="1.2" />
<text x="423.90" y="367.35" font-size="8.6" text-anchor="end" fill="#1a1a1a" stroke="#1a1a1a" stroke-width="0.22" textLength="7.6" lengthAdjust="spacingAndGlyphs" ><tspan>10</tspan></text>
<text x="427.50" y="364.15" font-size="5.9" text-anchor="end" fill="#1a1a1a" stroke="#1a1a1a" stroke-width="0.22" ><tspan>3</tspan></text>
<line x1="431.20" y1="378.38" x2="434.40" y2="378.38" stroke="#1c1c1c" stroke-width="1.2" />
<text x="423.90" y="381.38" font-size="8.6" text-anchor="end" fill="#1a1a1a" stroke="#1a1a1a" stroke-width="0.22" textLength="7.6" lengthAdjust="spacingAndGlyphs" ><tspan>10</tspan></text>
<text x="427.50" y="378.18" font-size="5.9" text-anchor="end" fill="#1a1a1a" stroke="#1a1a1a" stroke-width="0.22" ><tspan>2</tspan></text>
<line x1="431.20" y1="392.40" x2="434.40" y2="392.40" stroke="#1c1c1c" stroke-width="1.2" />
<text x="423.90" y="395.40" font-size="8.6" text-anchor="end" fill="#1a1a1a" stroke="#1a1a1a" stroke-width="0.22" textLength="7.6" lengthAdjust="spacingAndGlyphs" ><tspan>10</tspan></text>
<text x="427.50" y="392.20" font-size="5.9" text-anchor="end" fill="#1a1a1a" stroke="#1a1a1a" stroke-width="0.22" ><tspan>1</tspan></text>
<line x1="432.80" y1="346.10" x2="434.40" y2="346.10" stroke="#1c1c1c" stroke-width="0.6" />
<line x1="432.80" y1="343.63" x2="434.40" y2="343.63" stroke="#1c1c1c" stroke-width="0.6" />
<line x1="432.80" y1="341.88" x2="434.40" y2="341.88" stroke="#1c1c1c" stroke-width="0.6" />
<line x1="432.80" y1="340.52" x2="434.40" y2="340.52" stroke="#1c1c1c" stroke-width="0.6" />
<line x1="432.80" y1="339.41" x2="434.40" y2="339.41" stroke="#1c1c1c" stroke-width="0.6" />
<line x1="432.80" y1="338.47" x2="434.40" y2="338.47" stroke="#1c1c1c" stroke-width="0.6" />
<line x1="432.80" y1="337.66" x2="434.40" y2="337.66" stroke="#1c1c1c" stroke-width="0.6" />
<line x1="432.80" y1="336.94" x2="434.40" y2="336.94" stroke="#1c1c1c" stroke-width="0.6" />
<line x1="432.80" y1="360.13" x2="434.40" y2="360.13" stroke="#1c1c1c" stroke-width="0.6" />
<line x1="432.80" y1="357.66" x2="434.40" y2="357.66" stroke="#1c1c1c" stroke-width="0.6" />
<line x1="432.80" y1="355.91" x2="434.40" y2="355.91" stroke="#1c1c1c" stroke-width="0.6" />
<line x1="432.80" y1="354.55" x2="434.40" y2="354.55" stroke="#1c1c1c" stroke-width="0.6" />
<line x1="432.80" y1="353.44" x2="434.40" y2="353.44" stroke="#1c1c1c" stroke-width="0.6" />
<line x1="432.80" y1="352.50" x2="434.40" y2="352.50" stroke="#1c1c1c" stroke-width="0.6" />
<line x1="432.80" y1="351.68" x2="434.40" y2="351.68" stroke="#1c1c1c" stroke-width="0.6" />
<line x1="432.80" y1="350.97" x2="434.40" y2="350.97" stroke="#1c1c1c" stroke-width="0.6" />
<line x1="432.80" y1="374.15" x2="434.40" y2="374.15" stroke="#1c1c1c" stroke-width="0.6" />
<line x1="432.80" y1="371.68" x2="434.40" y2="371.68" stroke="#1c1c1c" stroke-width="0.6" />
<line x1="432.80" y1="369.93" x2="434.40" y2="369.93" stroke="#1c1c1c" stroke-width="0.6" />
<line x1="432.80" y1="368.57" x2="434.40" y2="368.57" stroke="#1c1c1c" stroke-width="0.6" />
<line x1="432.80" y1="367.46" x2="434.40" y2="367.46" stroke="#1c1c1c" stroke-width="0.6" />
<line x1="432.80" y1="366.52" x2="434.40" y2="366.52" stroke="#1c1c1c" stroke-width="0.6" />
<line x1="432.80" y1="365.71" x2="434.40" y2="365.71" stroke="#1c1c1c" stroke-width="0.6" />
<line x1="432.80" y1="364.99" x2="434.40" y2="364.99" stroke="#1c1c1c" stroke-width="0.6" />
<line x1="432.80" y1="388.18" x2="434.40" y2="388.18" stroke="#1c1c1c" stroke-width="0.6" />
<line x1="432.80" y1="385.71" x2="434.40" y2="385.71" stroke="#1c1c1c" stroke-width="0.6" />
<line x1="432.80" y1="383.96" x2="434.40" y2="383.96" stroke="#1c1c1c" stroke-width="0.6" />
<line x1="432.80" y1="382.60" x2="434.40" y2="382.60" stroke="#1c1c1c" stroke-width="0.6" />
<line x1="432.80" y1="381.49" x2="434.40" y2="381.49" stroke="#1c1c1c" stroke-width="0.6" />
<line x1="432.80" y1="380.55" x2="434.40" y2="380.55" stroke="#1c1c1c" stroke-width="0.6" />
<line x1="432.80" y1="379.73" x2="434.40" y2="379.73" stroke="#1c1c1c" stroke-width="0.6" />
<line x1="432.80" y1="379.02" x2="434.40" y2="379.02" stroke="#1c1c1c" stroke-width="0.6" />
<line x1="444.70" y1="392.40" x2="444.70" y2="394.80" stroke="#1c1c1c" stroke-width="1.0" />
<text transform="translate(447.20,402.90) rotate(-45)" font-size="8.3" text-anchor="end" fill="#1a1a1a" stroke="#1a1a1a" stroke-width="0.26" textLength="23.6" lengthAdjust="spacingAndGlyphs" ><tspan>Control</tspan></text>
<line x1="463.50" y1="392.40" x2="463.50" y2="394.80" stroke="#1c1c1c" stroke-width="1.0" />
<text transform="translate(466.00,402.90) rotate(-45)" font-size="8.3" text-anchor="end" fill="#1a1a1a" stroke="#1a1a1a" stroke-width="0.26" textLength="12.5" lengthAdjust="spacingAndGlyphs" ><tspan>Maf</tspan></text>
<line x1="482.30" y1="392.40" x2="482.30" y2="394.80" stroke="#1c1c1c" stroke-width="1.0" />
<text transform="translate(484.80,402.90) rotate(-45)" font-size="8.3" text-anchor="end" fill="#1a1a1a" stroke="#1a1a1a" stroke-width="0.26" textLength="14.0" lengthAdjust="spacingAndGlyphs" ><tspan>CsA</tspan></text>
<line x1="500.60" y1="392.40" x2="500.60" y2="394.80" stroke="#1c1c1c" stroke-width="1.0" />
<text transform="translate(503.10,402.90) rotate(-45)" font-size="8.3" text-anchor="end" fill="#1a1a1a" stroke="#1a1a1a" stroke-width="0.26" textLength="13.6" lengthAdjust="spacingAndGlyphs" ><tspan>Rap</tspan></text>
<text x="461.15" y="305.80" font-size="8.56" text-anchor="middle" fill="#1a1a1a" stroke="#1a1a1a" stroke-width="0.22" textLength="66.9" lengthAdjust="spacingAndGlyphs" ><tspan>CD161</tspan><tspan dy="-2.57" font-size="6.16">+</tspan><tspan dy="2.57"> non-MAIT</tspan></text>
<text x="460.20" y="314.80" font-size="8.56" text-anchor="middle" fill="#1a1a1a" stroke="#1a1a1a" stroke-width="0.22" textLength="106.6" lengthAdjust="spacingAndGlyphs" ><tspan>(CD161</tspan><tspan dy="-2.57" font-size="6.16">+</tspan><tspan dy="2.57">CD218a</tspan><tspan dy="-2.57" font-size="6.16">+</tspan><tspan dy="2.57">TCRVα7.2</tspan><tspan dy="-2.57" font-size="6.16">−</tspan><tspan dy="2.57">)</tspan></text>
<text transform="translate(400.80,362.30) rotate(-90) scale(1,1.28)" font-size="7.2" text-anchor="middle" fill="#111" stroke="#111" stroke-width="0.3" textLength="94" lengthAdjust="spacingAndGlyphs" ><tspan># of CD161</tspan><tspan dy="-2.16" font-size="5.18">+</tspan><tspan dy="2.16">CD218a</tspan><tspan dy="-2.16" font-size="5.18">+</tspan><tspan dy="2.16">TCRVα7.2</tspan><tspan dy="-2.16" font-size="5.18">−</tspan></text>
<text transform="translate(411.90,361.40) rotate(-90) scale(1,1.28)" font-size="7.2" text-anchor="middle" fill="#111" stroke="#111" stroke-width="0.3" textLength="34" lengthAdjust="spacingAndGlyphs" ><tspan>CD8</tspan><tspan dy="-2.16" font-size="5.18">+</tspan><tspan dy="2.16"> T cells</tspan></text>
<line x1="444.40" y1="332.70" x2="505.20" y2="332.70" stroke="#5c5c5c" stroke-width="0.9" />
<circle cx="473.55" cy="329.80" r="0.95" fill="#222"/>
<circle cx="476.05" cy="329.80" r="0.95" fill="#222"/>
<line x1="444.40" y1="339.30" x2="485.60" y2="339.30" stroke="#5c5c5c" stroke-width="0.9" />
<circle cx="463.75" cy="336.40" r="0.95" fill="#222"/>
<circle cx="466.25" cy="336.40" r="0.95" fill="#222"/>
<line x1="444.40" y1="345.70" x2="466.80" y2="345.70" stroke="#5c5c5c" stroke-width="0.9" />
<circle cx="454.35" cy="342.80" r="0.95" fill="#222"/>
<circle cx="456.85" cy="342.80" r="0.95" fill="#222"/>
<line x1="444.70" y1="349.40" x2="444.70" y2="367.40" stroke="#333" stroke-width="1.0" />
<line x1="440.40" y1="349.40" x2="449.00" y2="349.40" stroke="#333" stroke-width="1.0" />
<line x1="440.40" y1="367.40" x2="449.00" y2="367.40" stroke="#333" stroke-width="1.0" />
<rect x="438.20" y="350.20" width="13.00" height="12.60" fill="#a3dba6" />
<line x1="438.20" y1="355.10" x2="451.20" y2="355.10" stroke="#1e1e1e" stroke-width="1.35" />
<circle cx="444.70" cy="349.40" r="1.15" fill="#27b040"/>
<circle cx="440.80" cy="356.86" r="1.15" fill="#27b040"/>
<circle cx="444.70" cy="356.86" r="1.15" fill="#27b040"/>
<circle cx="448.60" cy="356.86" r="1.15" fill="#27b040"/>
<circle cx="442.75" cy="366.49" r="1.15" fill="#27b040"/>
<circle cx="446.65" cy="366.49" r="1.15" fill="#27b040"/>
<line x1="463.50" y1="364.50" x2="463.50" y2="384.10" stroke="#333" stroke-width="1.0" />
<line x1="459.20" y1="364.50" x2="467.80" y2="364.50" stroke="#333" stroke-width="1.0" />
<line x1="459.20" y1="384.10" x2="467.80" y2="384.10" stroke="#333" stroke-width="1.0" />
<rect x="457.00" y="365.80" width="13.00" height="6.80" fill="#e89dac" />
<line x1="457.00" y1="369.40" x2="470.00" y2="369.40" stroke="#1e1e1e" stroke-width="1.35" />
<circle cx="463.50" cy="364.50" r="1.15" fill="#d0102e"/>
<circle cx="461.55" cy="366.65" r="1.15" fill="#d0102e"/>
<circle cx="465.45" cy="366.65" r="1.15" fill="#d0102e"/>
<circle cx="463.50" cy="369.95" r="1.15" fill="#d0102e"/>
<circle cx="463.50" cy="379.25" r="1.15" fill="#d0102e"/>
<circle cx="463.50" cy="384.10" r="1.15" fill="#d0102e"/>
<line x1="482.30" y1="369.90" x2="482.30" y2="383.40" stroke="#333" stroke-width="1.0" />
<line x1="478.00" y1="369.90" x2="486.60" y2="369.90" stroke="#333" stroke-width="1.0" />
<line x1="478.00" y1="383.40" x2="486.60" y2="383.40" stroke="#333" stroke-width="1.0" />
<rect x="475.80" y="371.00" width="13.00" height="9.20" fill="#a2bfdc" />
<line x1="475.80" y1="375.20" x2="488.80" y2="375.20" stroke="#1e1e1e" stroke-width="1.35" />
<circle cx="480.35" cy="370.73" r="1.15" fill="#1b5d9c"/>
<circle cx="484.25" cy="370.73" r="1.15" fill="#1b5d9c"/>
<circle cx="480.35" cy="376.96" r="1.15" fill="#1b5d9c"/>
<circle cx="484.25" cy="376.96" r="1.15" fill="#1b5d9c"/>
<circle cx="482.30" cy="380.71" r="1.15" fill="#1b5d9c"/>
<circle cx="482.30" cy="383.40" r="1.15" fill="#1b5d9c"/>
<line x1="500.60" y1="364.10" x2="500.60" y2="378.50" stroke="#333" stroke-width="1.0" />
<line x1="496.30" y1="364.10" x2="504.90" y2="364.10" stroke="#333" stroke-width="1.0" />
<line x1="496.30" y1="378.50" x2="504.90" y2="378.50" stroke="#333" stroke-width="1.0" />
<rect x="494.10" y="367.10" width="13.00" height="8.50" fill="#c6a5d3" />
<line x1="494.10" y1="373.10" x2="507.10" y2="373.10" stroke="#1e1e1e" stroke-width="1.35" />
<circle cx="500.60" cy="364.10" r="1.15" fill="#5a1872"/>
<circle cx="496.70" cy="369.62" r="1.15" fill="#5a1872"/>
<circle cx="500.60" cy="369.62" r="1.15" fill="#5a1872"/>
<circle cx="504.50" cy="369.62" r="1.15" fill="#5a1872"/>
<circle cx="500.60" cy="372.26" r="1.15" fill="#5a1872"/>
<circle cx="500.60" cy="378.50" r="1.15" fill="#5a1872"/>
<line x1="49.10" y1="462.30" x2="49.10" y2="523.50" stroke="#1c1c1c" stroke-width="1.5" />
<line x1="48.40" y1="522.80" x2="126.20" y2="522.80" stroke="#1c1c1c" stroke-width="1.5" />
<line x1="45.90" y1="465.80" x2="49.10" y2="465.80" stroke="#1c1c1c" stroke-width="1.2" />
<text x="42.90" y="468.80" font-size="8.6" text-anchor="end" fill="#1a1a1a" stroke="#1a1a1a" stroke-width="0.22" textLength="11.6" lengthAdjust="spacingAndGlyphs" ><tspan>100</tspan></text>
<line x1="45.90" y1="477.20" x2="49.10" y2="477.20" stroke="#1c1c1c" stroke-width="1.2" />
<text x="42.90" y="480.20" font-size="8.6" text-anchor="end" fill="#1a1a1a" stroke="#1a1a1a" stroke-width="0.22" textLength="9.0" lengthAdjust="spacingAndGlyphs" ><tspan>80</tspan></text>
<line x1="45.90" y1="488.60" x2="49.10" y2="488.60" stroke="#1c1c1c" stroke-width="1.2" />
<text x="42.90" y="491.60" font-size="8.6" text-anchor="end" fill="#1a1a1a" stroke="#1a1a1a" stroke-width="0.22" textLength="9.0" lengthAdjust="spacingAndGlyphs" ><tspan>60</tspan></text>
<line x1="45.90" y1="500.00" x2="49.10" y2="500.00" stroke="#1c1c1c" stroke-width="1.2" />
<text x="42.90" y="503.00" font-size="8.6" text-anchor="end" fill="#1a1a1a" stroke="#1a1a1a" stroke-width="0.22" textLength="9.0" lengthAdjust="spacingAndGlyphs" ><tspan>40</tspan></text>
<line x1="45.90" y1="511.40" x2="49.10" y2="511.40" stroke="#1c1c1c" stroke-width="1.2" />
<text x="42.90" y="514.40" font-size="8.6" text-anchor="end" fill="#1a1a1a" stroke="#1a1a1a" stroke-width="0.22" textLength="9.0" lengthAdjust="spacingAndGlyphs" ><tspan>20</tspan></text>
<line x1="45.90" y1="522.80" x2="49.10" y2="522.80" stroke="#1c1c1c" stroke-width="1.2" />
<text x="43.70" y="525.80" font-size="8.6" text-anchor="end" fill="#1a1a1a" stroke="#1a1a1a" stroke-width="0.22" textLength="4.6" lengthAdjust="spacingAndGlyphs" ><tspan>0</tspan></text>
<line x1="59.40" y1="522.80" x2="59.40" y2="525.20" stroke="#1c1c1c" stroke-width="1.0" />
<text transform="translate(61.90,533.30) rotate(-45)" font-size="8.3" text-anchor="end" fill="#1a1a1a" stroke="#1a1a1a" stroke-width="0.26" textLength="23.6" lengthAdjust="spacingAndGlyphs" ><tspan>Control</tspan></text>
<line x1="78.80" y1="522.80" x2="78.80" y2="525.20" stroke="#1c1c1c" stroke-width="1.0" />
<text transform="translate(81.30,533.30) rotate(-45)" font-size="8.3" text-anchor="end" fill="#1a1a1a" stroke="#1a1a1a" stroke-width="0.26" textLength="12.5" lengthAdjust="spacingAndGlyphs" ><tspan>Maf</tspan></text>
<line x1="98.10" y1="522.80" x2="98.10" y2="525.20" stroke="#1c1c1c" stroke-width="1.0" />
<text transform="translate(100.60,533.30) rotate(-45)" font-size="8.3" text-anchor="end" fill="#1a1a1a" stroke="#1a1a1a" stroke-width="0.26" textLength="14.0" lengthAdjust="spacingAndGlyphs" ><tspan>CsA</tspan></text>
<line x1="117.20" y1="522.80" x2="117.20" y2="525.20" stroke="#1c1c1c" stroke-width="1.0" />
<text transform="translate(119.70,533.30) rotate(-45)" font-size="8.3" text-anchor="end" fill="#1a1a1a" stroke="#1a1a1a" stroke-width="0.26" textLength="13.6" lengthAdjust="spacingAndGlyphs" ><tspan>Rap</tspan></text>
<text x="87.70" y="450.70" font-size="8.56" text-anchor="middle" fill="#1a1a1a" stroke="#1a1a1a" stroke-width="0.22" textLength="19.2" lengthAdjust="spacingAndGlyphs" ><tspan>Naïve</tspan></text>
<text transform="translate(25.50,493.00) rotate(-90) scale(1,1.28)" font-size="7.2" text-anchor="middle" fill="#111" stroke="#111" stroke-width="0.3" textLength="51" lengthAdjust="spacingAndGlyphs" ><tspan>% of CD8</tspan><tspan dy="-2.16" font-size="5.18">+</tspan><tspan dy="2.16"> T cells</tspan></text>
<line x1="58.90" y1="461.40" x2="119.70" y2="461.40" stroke="#5c5c5c" stroke-width="0.9" />
<circle cx="85.55" cy="458.50" r="0.95" fill="#222"/>
<circle cx="88.05" cy="458.50" r="0.95" fill="#222"/>
<circle cx="90.55" cy="458.50" r="0.95" fill="#222"/>
<circle cx="93.05" cy="458.50" r="0.95" fill="#222"/>
<line x1="58.90" y1="467.50" x2="99.80" y2="467.50" stroke="#5c5c5c" stroke-width="0.9" />
<circle cx="76.85" cy="464.60" r="0.95" fill="#222"/>
<circle cx="79.35" cy="464.60" r="0.95" fill="#222"/>
<circle cx="81.85" cy="464.60" r="0.95" fill="#222"/>
<line x1="58.90" y1="474.20" x2="81.00" y2="474.20" stroke="#5c5c5c" stroke-width="0.9" />
<text x="69.95" y="472.30" font-size="7.6" text-anchor="middle" fill="#3a3a3a" ><tspan>ns</tspan></text>
<line x1="59.40" y1="478.60" x2="59.40" y2="502.30" stroke="#333" stroke-width="1.0" />
<line x1="55.10" y1="478.60" x2="63.70" y2="478.60" stroke="#333" stroke-width="1.0" />
<line x1="55.10" y1="502.30" x2="63.70" y2="502.30" stroke="#333" stroke-width="1.0" />
<rect x="52.90" y="489.20" width="13.00" height="9.50" fill="#a3dba6" />
<line x1="52.90" y1="495.40" x2="65.90" y2="495.40" stroke="#1e1e1e" stroke-width="1.35" />
<circle cx="59.40" cy="478.60" r="1.15" fill="#27b040"/>
<circle cx="59.40" cy="482.57" r="1.15" fill="#27b040"/>
<circle cx="57.45" cy="489.82" r="1.15" fill="#27b040"/>
<circle cx="61.35" cy="489.82" r="1.15" fill="#27b040"/>
<circle cx="55.50" cy="492.17" r="1.15" fill="#27b040"/>
<circle cx="59.40" cy="492.17" r="1.15" fill="#27b040"/>
<circle cx="63.30" cy="492.17" r="1.15" fill="#27b040"/>
<circle cx="55.50" cy="495.04" r="1.15" fill="#27b040"/>
<circle cx="59.40" cy="495.04" r="1.15" fill="#27b040"/>
<circle cx="63.30" cy="495.04" r="1.15" fill="#27b040"/>
<circle cx="59.40" cy="497.88" r="1.15" fill="#27b040"/>
<circle cx="59.40" cy="502.30" r="1.15" fill="#27b040"/>
<line x1="78.80" y1="482.20" x2="78.80" y2="514.60" stroke="#333" stroke-width="1.0" />
<line x1="74.50" y1="482.20" x2="83.10" y2="482.20" stroke="#333" stroke-width="1.0" />
<line x1="74.50" y1="514.60" x2="83.10" y2="514.60" stroke="#333" stroke-width="1.0" />
<rect x="72.30" y="492.80" width="13.00" height="9.20" fill="#e89dac" />
<line x1="72.30" y1="499.90" x2="85.30" y2="499.90" stroke="#1e1e1e" stroke-width="1.35" />
<circle cx="78.80" cy="482.20" r="1.15" fill="#d0102e"/>
<circle cx="78.80" cy="489.19" r="1.15" fill="#d0102e"/>
<circle cx="78.80" cy="495.72" r="1.15" fill="#d0102e"/>
<circle cx="74.90" cy="499.12" r="1.15" fill="#d0102e"/>
<circle cx="78.80" cy="499.12" r="1.15" fill="#d0102e"/>
<circle cx="82.70" cy="499.12" r="1.15" fill="#d0102e"/>
<circle cx="72.95" cy="501.19" r="1.15" fill="#d0102e"/>
<circle cx="76.85" cy="501.19" r="1.15" fill="#d0102e"/>
<circle cx="80.75" cy="501.19" r="1.15" fill="#d0102e"/>
<circle cx="84.65" cy="501.19" r="1.15" fill="#d0102e"/>
<circle cx="78.80" cy="505.93" r="1.15" fill="#d0102e"/>
<circle cx="78.80" cy="514.60" r="1.15" fill="#d0102e"/>
<line x1="98.10" y1="471.20" x2="98.10" y2="494.10" stroke="#333" stroke-width="1.0" />
<line x1="93.80" y1="471.20" x2="102.40" y2="471.20" stroke="#333" stroke-width="1.0" />
<line x1="93.80" y1="494.10" x2="102.40" y2="494.10" stroke="#333" stroke-width="1.0" />
<rect x="91.60" y="472.10" width="13.00" height="6.50" fill="#a2bfdc" />
<line x1="91.60" y1="475.80" x2="104.60" y2="475.80" stroke="#1e1e1e" stroke-width="1.35" />
<circle cx="94.20" cy="472.23" r="1.15" fill="#1b5d9c"/>
<circle cx="98.10" cy="472.23" r="1.15" fill="#1b5d9c"/>
<circle cx="102.00" cy="472.23" r="1.15" fill="#1b5d9c"/>
<circle cx="96.15" cy="474.43" r="1.15" fill="#1b5d9c"/>
<circle cx="100.05" cy="474.43" r="1.15" fill="#1b5d9c"/>
<circle cx="92.25" cy="476.66" r="1.15" fill="#1b5d9c"/>
<circle cx="96.15" cy="476.66" r="1.15" fill="#1b5d9c"/>
<circle cx="100.05" cy="476.66" r="1.15" fill="#1b5d9c"/>
<circle cx="103.95" cy="476.66" r="1.15" fill="#1b5d9c"/>
<circle cx="96.15" cy="477.96" r="1.15" fill="#1b5d9c"/>
<circle cx="100.05" cy="477.96" r="1.15" fill="#1b5d9c"/>
<circle cx="98.10" cy="494.10" r="1.15" fill="#1b5d9c"/>
<line x1="117.20" y1="471.20" x2="117.20" y2="488.40" stroke="#333" stroke-width="1.0" />
<line x1="112.90" y1="471.20" x2="121.50" y2="471.20" stroke="#333" stroke-width="1.0" />
<line x1="112.90" y1="488.40" x2="121.50" y2="488.40" stroke="#333" stroke-width="1.0" />
<rect x="110.70" y="471.20" width="13.00" height="8.20" fill="#c6a5d3" />
<line x1="110.70" y1="475.30" x2="123.70" y2="475.30" stroke="#1e1e1e" stroke-width="1.35" />
<circle cx="117.20" cy="471.20" r="1.15" fill="#5a1872"/>
<circle cx="113.30" cy="474.77" r="1.15" fill="#5a1872"/>
<circle cx="117.20" cy="474.77" r="1.15" fill="#5a1872"/>
<circle cx="121.10" cy="474.77" r="1.15" fill="#5a1872"/>
<circle cx="111.35" cy="477.68" r="1.15" fill="#5a1872"/>
<circle cx="115.25" cy="477.68" r="1.15" fill="#5a1872"/>
<circle cx="119.15" cy="477.68" r="1.15" fill="#5a1872"/>
<circle cx="123.05" cy="477.68" r="1.15" fill="#5a1872"/>
<circle cx="115.25" cy="483.51" r="1.15" fill="#5a1872"/>
<circle cx="119.15" cy="483.51" r="1.15" fill="#5a1872"/>
<circle cx="115.25" cy="488.07" r="1.15" fill="#5a1872"/>
<circle cx="119.15" cy="488.07" r="1.15" fill="#5a1872"/>
<line x1="170.40" y1="462.30" x2="170.40" y2="523.50" stroke="#1c1c1c" stroke-width="1.5" />
<line x1="169.70" y1="522.80" x2="246.70" y2="522.80" stroke="#1c1c1c" stroke-width="1.5" />
<line x1="167.20" y1="465.50" x2="170.40" y2="465.50" stroke="#1c1c1c" stroke-width="1.2" />
<text x="164.20" y="468.50" font-size="8.6" text-anchor="end" fill="#1a1a1a" stroke="#1a1a1a" stroke-width="0.22" textLength="11.6" lengthAdjust="spacingAndGlyphs" ><tspan>100</tspan></text>
<line x1="167.20" y1="476.96" x2="170.40" y2="476.96" stroke="#1c1c1c" stroke-width="1.2" />
<text x="164.20" y="479.96" font-size="8.6" text-anchor="end" fill="#1a1a1a" stroke="#1a1a1a" stroke-width="0.22" textLength="9.0" lengthAdjust="spacingAndGlyphs" ><tspan>80</tspan></text>
<line x1="167.20" y1="488.42" x2="170.40" y2="488.42" stroke="#1c1c1c" stroke-width="1.2" />
<text x="164.20" y="491.42" font-size="8.6" text-anchor="end" fill="#1a1a1a" stroke="#1a1a1a" stroke-width="0.22" textLength="9.0" lengthAdjust="spacingAndGlyphs" ><tspan>60</tspan></text>
<line x1="167.20" y1="499.88" x2="170.40" y2="499.88" stroke="#1c1c1c" stroke-width="1.2" />
<text x="164.20" y="502.88" font-size="8.6" text-anchor="end" fill="#1a1a1a" stroke="#1a1a1a" stroke-width="0.22" textLength="9.0" lengthAdjust="spacingAndGlyphs" ><tspan>40</tspan></text>
<line x1="167.20" y1="511.34" x2="170.40" y2="511.34" stroke="#1c1c1c" stroke-width="1.2" />
<text x="164.20" y="514.34" font-size="8.6" text-anchor="end" fill="#1a1a1a" stroke="#1a1a1a" stroke-width="0.22" textLength="9.0" lengthAdjust="spacingAndGlyphs" ><tspan>20</tspan></text>
<line x1="167.20" y1="522.80" x2="170.40" y2="522.80" stroke="#1c1c1c" stroke-width="1.2" />
<text x="165.00" y="525.80" font-size="8.6" text-anchor="end" fill="#1a1a1a" stroke="#1a1a1a" stroke-width="0.22" textLength="4.6" lengthAdjust="spacingAndGlyphs" ><tspan>0</tspan></text>
<line x1="180.50" y1="522.80" x2="180.50" y2="525.20" stroke="#1c1c1c" stroke-width="1.0" />
<text transform="translate(183.00,533.30) rotate(-45)" font-size="8.3" text-anchor="end" fill="#1a1a1a" stroke="#1a1a1a" stroke-width="0.26" textLength="23.6" lengthAdjust="spacingAndGlyphs" ><tspan>Control</tspan></text>
<line x1="199.80" y1="522.80" x2="199.80" y2="525.20" stroke="#1c1c1c" stroke-width="1.0" />
<text transform="translate(202.30,533.30) rotate(-45)" font-size="8.3" text-anchor="end" fill="#1a1a1a" stroke="#1a1a1a" stroke-width="0.26" textLength="12.5" lengthAdjust="spacingAndGlyphs" ><tspan>Maf</tspan></text>
<line x1="219.40" y1="522.80" x2="219.40" y2="525.20" stroke="#1c1c1c" stroke-width="1.0" />
<text transform="translate(221.90,533.30) rotate(-45)" font-size="8.3" text-anchor="end" fill="#1a1a1a" stroke="#1a1a1a" stroke-width="0.26" textLength="14.0" lengthAdjust="spacingAndGlyphs" ><tspan>CsA</tspan></text>
<line x1="238.90" y1="522.80" x2="238.90" y2="525.20" stroke="#1c1c1c" stroke-width="1.0" />
<text transform="translate(241.40,533.30) rotate(-45)" font-size="8.3" text-anchor="end" fill="#1a1a1a" stroke="#1a1a1a" stroke-width="0.26" textLength="13.6" lengthAdjust="spacingAndGlyphs" ><tspan>Rap</tspan></text>
<text x="209.15" y="450.70" font-size="8.56" text-anchor="middle" fill="#1a1a1a" stroke="#1a1a1a" stroke-width="0.22" textLength="12.9" lengthAdjust="spacingAndGlyphs" ><tspan>CM</tspan></text>
<text transform="translate(147.60,492.40) rotate(-90) scale(1,1.28)" font-size="7.2" text-anchor="middle" fill="#111" stroke="#111" stroke-width="0.3" textLength="51.5" lengthAdjust="spacingAndGlyphs" ><tspan>% of CD8</tspan><tspan dy="-2.16" font-size="5.18">+</tspan><tspan dy="2.16"> T cells</tspan></text>
<line x1="180.90" y1="484.80" x2="241.80" y2="484.80" stroke="#a4a4a4" stroke-width="1.5" />
<circle cx="208.85" cy="481.90" r="0.95" fill="#222"/>
<circle cx="211.35" cy="481.90" r="0.95" fill="#222"/>
<circle cx="213.85" cy="481.90" r="0.95" fill="#222"/>
<line x1="180.90" y1="491.70" x2="221.40" y2="491.70" stroke="#a4a4a4" stroke-width="1.5" />
<circle cx="198.65" cy="488.80" r="0.95" fill="#222"/>
<circle cx="201.15" cy="488.80" r="0.95" fill="#222"/>
<circle cx="203.65" cy="488.80" r="0.95" fill="#222"/>
<line x1="180.90" y1="498.70" x2="202.30" y2="498.70" stroke="#a4a4a4" stroke-width="1.5" />
<text x="191.60" y="496.80" font-size="7.6" text-anchor="middle" fill="#3a3a3a" ><tspan>ns</tspan></text>
<line x1="180.50" y1="503.10" x2="180.50" y2="517.00" stroke="#333" stroke-width="1.0" />
<line x1="176.20" y1="503.10" x2="184.80" y2="503.10" stroke="#333" stroke-width="1.0" />
<line x1="176.20" y1="517.00" x2="184.80" y2="517.00" stroke="#333" stroke-width="1.0" />
<rect x="174.00" y="506.40" width="13.00" height="8.70" fill="#a3dba6" />
<line x1="174.00" y1="510.50" x2="187.00" y2="510.50" stroke="#1e1e1e" stroke-width="1.35" />
<circle cx="176.60" cy="503.53" r="1.15" fill="#27b040"/>
<circle cx="180.50" cy="503.53" r="1.15" fill="#27b040"/>
<circle cx="184.40" cy="503.53" r="1.15" fill="#27b040"/>
<circle cx="174.65" cy="507.44" r="1.15" fill="#27b040"/>
<circle cx="178.55" cy="507.44" r="1.15" fill="#27b040"/>
<circle cx="182.45" cy="507.44" r="1.15" fill="#27b040"/>
<circle cx="186.35" cy="507.44" r="1.15" fill="#27b040"/>
<circle cx="174.65" cy="511.49" r="1.15" fill="#27b040"/>
<circle cx="178.55" cy="511.49" r="1.15" fill="#27b040"/>
<circle cx="182.45" cy="511.49" r="1.15" fill="#27b040"/>
<circle cx="186.35" cy="511.49" r="1.15" fill="#27b040"/>
<circle cx="180.50" cy="517.00" r="1.15" fill="#27b040"/>
<line x1="199.80" y1="502.00" x2="199.80" y2="516.20" stroke="#333" stroke-width="1.0" />
<line x1="195.50" y1="502.00" x2="204.10" y2="502.00" stroke="#333" stroke-width="1.0" />
<line x1="195.50" y1="516.20" x2="204.10" y2="516.20" stroke="#333" stroke-width="1.0" />
<rect x="193.30" y="506.40" width="13.00" height="4.90" fill="#e89dac" />
<line x1="193.30" y1="508.50" x2="206.30" y2="508.50" stroke="#1e1e1e" stroke-width="1.35" />
<circle cx="199.80" cy="502.00" r="1.15" fill="#d0102e"/>
<circle cx="195.90" cy="506.94" r="1.15" fill="#d0102e"/>
<circle cx="199.80" cy="506.94" r="1.15" fill="#d0102e"/>
<circle cx="203.70" cy="506.94" r="1.15" fill="#d0102e"/>
<circle cx="193.95" cy="510.16" r="1.15" fill="#d0102e"/>
<circle cx="197.85" cy="510.16" r="1.15" fill="#d0102e"/>
<circle cx="201.75" cy="510.16" r="1.15" fill="#d0102e"/>
<circle cx="205.65" cy="510.16" r="1.15" fill="#d0102e"/>
<circle cx="195.90" cy="511.81" r="1.15" fill="#d0102e"/>
<circle cx="199.80" cy="511.81" r="1.15" fill="#d0102e"/>
<circle cx="203.70" cy="511.81" r="1.15" fill="#d0102e"/>
<circle cx="199.80" cy="516.20" r="1.15" fill="#d0102e"/>
<line x1="219.40" y1="515.40" x2="219.40" y2="521.90" stroke="#333" stroke-width="1.0" />
<line x1="215.10" y1="515.40" x2="223.70" y2="515.40" stroke="#333" stroke-width="1.0" />
<line x1="215.10" y1="521.90" x2="223.70" y2="521.90" stroke="#333" stroke-width="1.0" />
<rect x="212.90" y="517.80" width="13.00" height="3.30" fill="#a2bfdc" />
<line x1="212.90" y1="520.00" x2="225.90" y2="520.00" stroke="#1e1e1e" stroke-width="1.35" />
<circle cx="217.45" cy="515.55" r="1.15" fill="#1b5d9c"/>
<circle cx="221.35" cy="515.55" r="1.15" fill="#1b5d9c"/>
<circle cx="213.55" cy="518.63" r="1.15" fill="#1b5d9c"/>
<circle cx="217.45" cy="518.63" r="1.15" fill="#1b5d9c"/>
<circle cx="221.35" cy="518.63" r="1.15" fill="#1b5d9c"/>
<circle cx="225.25" cy="518.63" r="1.15" fill="#1b5d9c"/>
<circle cx="213.55" cy="519.52" r="1.15" fill="#1b5d9c"/>
<circle cx="217.45" cy="519.52" r="1.15" fill="#1b5d9c"/>
<circle cx="221.35" cy="519.52" r="1.15" fill="#1b5d9c"/>
<circle cx="225.25" cy="519.52" r="1.15" fill="#1b5d9c"/>
<circle cx="217.45" cy="521.40" r="1.15" fill="#1b5d9c"/>
<circle cx="221.35" cy="521.40" r="1.15" fill="#1b5d9c"/>
<line x1="238.90" y1="515.10" x2="238.90" y2="520.60" stroke="#333" stroke-width="1.0" />
<line x1="234.60" y1="515.10" x2="243.20" y2="515.10" stroke="#333" stroke-width="1.0" />
<line x1="234.60" y1="520.60" x2="243.20" y2="520.60" stroke="#333" stroke-width="1.0" />
<rect x="232.40" y="516.20" width="13.00" height="4.10" fill="#c6a5d3" />
<line x1="232.40" y1="518.30" x2="245.40" y2="518.30" stroke="#1e1e1e" stroke-width="1.35" />
<circle cx="235.00" cy="516.09" r="1.15" fill="#5a1872"/>
<circle cx="238.90" cy="516.09" r="1.15" fill="#5a1872"/>
<circle cx="242.80" cy="516.09" r="1.15" fill="#5a1872"/>
<circle cx="233.05" cy="517.49" r="1.15" fill="#5a1872"/>
<circle cx="236.95" cy="517.49" r="1.15" fill="#5a1872"/>
<circle cx="240.85" cy="517.49" r="1.15" fill="#5a1872"/>
<circle cx="244.75" cy="517.49" r="1.15" fill="#5a1872"/>
<circle cx="233.05" cy="519.27" r="1.15" fill="#5a1872"/>
<circle cx="236.95" cy="519.27" r="1.15" fill="#5a1872"/>
<circle cx="240.85" cy="519.27" r="1.15" fill="#5a1872"/>
<circle cx="244.75" cy="519.27" r="1.15" fill="#5a1872"/>
<circle cx="238.90" cy="520.60" r="1.15" fill="#5a1872"/>
<line x1="302.40" y1="462.30" x2="302.40" y2="523.50" stroke="#1c1c1c" stroke-width="1.5" />
<line x1="301.70" y1="522.80" x2="378.70" y2="522.80" stroke="#1c1c1c" stroke-width="1.5" />
<line x1="299.20" y1="465.50" x2="302.40" y2="465.50" stroke="#1c1c1c" stroke-width="1.2" />
<text x="296.20" y="468.50" font-size="8.6" text-anchor="end" fill="#1a1a1a" stroke="#1a1a1a" stroke-width="0.22" textLength="11.6" lengthAdjust="spacingAndGlyphs" ><tspan>100</tspan></text>
<line x1="299.20" y1="476.96" x2="302.40" y2="476.96" stroke="#1c1c1c" stroke-width="1.2" />
<text x="296.20" y="479.96" font-size="8.6" text-anchor="end" fill="#1a1a1a" stroke="#1a1a1a" stroke-width="0.22" textLength="9.0" lengthAdjust="spacingAndGlyphs" ><tspan>80</tspan></text>
<line x1="299.20" y1="488.42" x2="302.40" y2="488.42" stroke="#1c1c1c" stroke-width="1.2" />
<text x="296.20" y="491.42" font-size="8.6" text-anchor="end" fill="#1a1a1a" stroke="#1a1a1a" stroke-width="0.22" textLength="9.0" lengthAdjust="spacingAndGlyphs" ><tspan>60</tspan></text>
<line x1="299.20" y1="499.88" x2="302.40" y2="499.88" stroke="#1c1c1c" stroke-width="1.2" />
<text x="296.20" y="502.88" font-size="8.6" text-anchor="end" fill="#1a1a1a" stroke="#1a1a1a" stroke-width="0.22" textLength="9.0" lengthAdjust="spacingAndGlyphs" ><tspan>40</tspan></text>
<line x1="299.20" y1="511.34" x2="302.40" y2="511.34" stroke="#1c1c1c" stroke-width="1.2" />
<text x="296.20" y="514.34" font-size="8.6" text-anchor="end" fill="#1a1a1a" stroke="#1a1a1a" stroke-width="0.22" textLength="9.0" lengthAdjust="spacingAndGlyphs" ><tspan>20</tspan></text>
<line x1="299.20" y1="522.80" x2="302.40" y2="522.80" stroke="#1c1c1c" stroke-width="1.2" />
<text x="297.00" y="525.80" font-size="8.6" text-anchor="end" fill="#1a1a1a" stroke="#1a1a1a" stroke-width="0.22" textLength="4.6" lengthAdjust="spacingAndGlyphs" ><tspan>0</tspan></text>
<line x1="312.50" y1="522.80" x2="312.50" y2="525.20" stroke="#1c1c1c" stroke-width="1.0" />
<text transform="translate(315.00,533.30) rotate(-45)" font-size="8.3" text-anchor="end" fill="#1a1a1a" stroke="#1a1a1a" stroke-width="0.26" textLength="23.6" lengthAdjust="spacingAndGlyphs" ><tspan>Control</tspan></text>
<line x1="332.10" y1="522.80" x2="332.10" y2="525.20" stroke="#1c1c1c" stroke-width="1.0" />
<text transform="translate(334.60,533.30) rotate(-45)" font-size="8.3" text-anchor="end" fill="#1a1a1a" stroke="#1a1a1a" stroke-width="0.26" textLength="12.5" lengthAdjust="spacingAndGlyphs" ><tspan>Maf</tspan></text>
<line x1="351.40" y1="522.80" x2="351.40" y2="525.20" stroke="#1c1c1c" stroke-width="1.0" />
<text transform="translate(353.90,533.30) rotate(-45)" font-size="8.3" text-anchor="end" fill="#1a1a1a" stroke="#1a1a1a" stroke-width="0.26" textLength="14.0" lengthAdjust="spacingAndGlyphs" ><tspan>CsA</tspan></text>
<line x1="370.90" y1="522.80" x2="370.90" y2="525.20" stroke="#1c1c1c" stroke-width="1.0" />
<text transform="translate(373.40,533.30) rotate(-45)" font-size="8.3" text-anchor="end" fill="#1a1a1a" stroke="#1a1a1a" stroke-width="0.26" textLength="13.6" lengthAdjust="spacingAndGlyphs" ><tspan>Rap</tspan></text>
<text x="341.45" y="450.70" font-size="8.56" text-anchor="middle" fill="#1a1a1a" stroke="#1a1a1a" stroke-width="0.22" textLength="12.1" lengthAdjust="spacingAndGlyphs" ><tspan>EM</tspan></text>
<text transform="translate(279.00,492.40) rotate(-90) scale(1,1.28)" font-size="7.2" text-anchor="middle" fill="#111" stroke="#111" stroke-width="0.3" textLength="51.5" lengthAdjust="spacingAndGlyphs" ><tspan>% of CD8</tspan><tspan dy="-2.16" font-size="5.18">+</tspan><tspan dy="2.16"> T cells</tspan></text>
<line x1="312.00" y1="474.00" x2="373.80" y2="474.00" stroke="#5c5c5c" stroke-width="0.9" />
<circle cx="341.65" cy="471.10" r="0.95" fill="#222"/>
<circle cx="344.15" cy="471.10" r="0.95" fill="#222"/>
<line x1="312.00" y1="481.10" x2="353.90" y2="481.10" stroke="#5c5c5c" stroke-width="0.9" />
<circle cx="331.70" cy="478.20" r="0.95" fill="#222"/>
<circle cx="334.20" cy="478.20" r="0.95" fill="#222"/>
<line x1="312.00" y1="489.70" x2="333.80" y2="489.70" stroke="#5c5c5c" stroke-width="0.9" />
<text x="322.90" y="487.80" font-size="7.6" text-anchor="middle" fill="#3a3a3a" ><tspan>ns</tspan></text>
<line x1="312.50" y1="492.50" x2="312.50" y2="519.50" stroke="#333" stroke-width="1.0" />
<line x1="308.20" y1="492.50" x2="316.80" y2="492.50" stroke="#333" stroke-width="1.0" />
<line x1="308.20" y1="519.50" x2="316.80" y2="519.50" stroke="#333" stroke-width="1.0" />
<rect x="306.00" y="508.50" width="13.00" height="6.10" fill="#a3dba6" />
<line x1="306.00" y1="511.30" x2="319.00" y2="511.30" stroke="#1e1e1e" stroke-width="1.35" />
<circle cx="312.50" cy="492.50" r="1.15" fill="#27b040"/>
<circle cx="310.55" cy="509.33" r="1.15" fill="#27b040"/>
<circle cx="314.45" cy="509.33" r="1.15" fill="#27b040"/>
<circle cx="306.65" cy="511.69" r="1.15" fill="#27b040"/>
<circle cx="310.55" cy="511.69" r="1.15" fill="#27b040"/>
<circle cx="314.45" cy="511.69" r="1.15" fill="#27b040"/>
<circle cx="318.35" cy="511.69" r="1.15" fill="#27b040"/>
<circle cx="306.65" cy="513.70" r="1.15" fill="#27b040"/>
<circle cx="310.55" cy="513.70" r="1.15" fill="#27b040"/>
<circle cx="314.45" cy="513.70" r="1.15" fill="#27b040"/>
<circle cx="318.35" cy="513.70" r="1.15" fill="#27b040"/>
<circle cx="312.50" cy="519.50" r="1.15" fill="#27b040"/>
<line x1="332.10" y1="500.70" x2="332.10" y2="516.70" stroke="#333" stroke-width="1.0" />
<line x1="327.80" y1="500.70" x2="336.40" y2="500.70" stroke="#333" stroke-width="1.0" />
<line x1="327.80" y1="516.70" x2="336.40" y2="516.70" stroke="#333" stroke-width="1.0" />
<rect x="325.60" y="510.20" width="13.00" height="2.70" fill="#e89dac" />
<line x1="325.60" y1="511.30" x2="338.60" y2="511.30" stroke="#1e1e1e" stroke-width="1.35" />
<circle cx="332.10" cy="500.70" r="1.15" fill="#d0102e"/>
<circle cx="332.10" cy="505.44" r="1.15" fill="#d0102e"/>
<circle cx="326.25" cy="510.02" r="1.15" fill="#d0102e"/>
<circle cx="330.15" cy="510.02" r="1.15" fill="#d0102e"/>
<circle cx="334.05" cy="510.02" r="1.15" fill="#d0102e"/>
<circle cx="337.95" cy="510.02" r="1.15" fill="#d0102e"/>
<circle cx="326.25" cy="512.13" r="1.15" fill="#d0102e"/>
<circle cx="330.15" cy="512.13" r="1.15" fill="#d0102e"/>
<circle cx="334.05" cy="512.13" r="1.15" fill="#d0102e"/>
<circle cx="337.95" cy="512.13" r="1.15" fill="#d0102e"/>
<circle cx="332.10" cy="512.74" r="1.15" fill="#d0102e"/>
<circle cx="332.10" cy="516.70" r="1.15" fill="#d0102e"/>
<line x1="351.40" y1="517.80" x2="351.40" y2="521.90" stroke="#333" stroke-width="1.0" />
<line x1="347.10" y1="517.80" x2="355.70" y2="517.80" stroke="#333" stroke-width="1.0" />
<line x1="347.10" y1="521.90" x2="355.70" y2="521.90" stroke="#333" stroke-width="1.0" />
<rect x="344.90" y="518.60" width="13.00" height="2.00" fill="#a2bfdc" />
<line x1="344.90" y1="519.60" x2="357.90" y2="519.60" stroke="#1e1e1e" stroke-width="1.35" />
<circle cx="345.55" cy="518.57" r="1.15" fill="#1b5d9c"/>
<circle cx="349.45" cy="518.57" r="1.15" fill="#1b5d9c"/>
<circle cx="353.35" cy="518.57" r="1.15" fill="#1b5d9c"/>
<circle cx="357.25" cy="518.57" r="1.15" fill="#1b5d9c"/>
<circle cx="345.55" cy="519.87" r="1.15" fill="#1b5d9c"/>
<circle cx="349.45" cy="519.87" r="1.15" fill="#1b5d9c"/>
<circle cx="353.35" cy="519.87" r="1.15" fill="#1b5d9c"/>
<circle cx="357.25" cy="519.87" r="1.15" fill="#1b5d9c"/>
<circle cx="345.55" cy="521.02" r="1.15" fill="#1b5d9c"/>
<circle cx="349.45" cy="521.02" r="1.15" fill="#1b5d9c"/>
<circle cx="353.35" cy="521.02" r="1.15" fill="#1b5d9c"/>
<circle cx="357.25" cy="521.02" r="1.15" fill="#1b5d9c"/>
<line x1="370.90" y1="517.30" x2="370.90" y2="521.90" stroke="#333" stroke-width="1.0" />
<line x1="366.60" y1="517.30" x2="375.20" y2="517.30" stroke="#333" stroke-width="1.0" />
<line x1="366.60" y1="521.90" x2="375.20" y2="521.90" stroke="#333" stroke-width="1.0" />
<rect x="364.40" y="518.60" width="13.00" height="2.50" fill="#c6a5d3" />
<line x1="364.40" y1="520.00" x2="377.40" y2="520.00" stroke="#1e1e1e" stroke-width="1.35" />
<circle cx="365.05" cy="517.84" r="1.15" fill="#5a1872"/>
<circle cx="368.95" cy="517.84" r="1.15" fill="#5a1872"/>
<circle cx="372.85" cy="517.84" r="1.15" fill="#5a1872"/>
<circle cx="376.75" cy="517.84" r="1.15" fill="#5a1872"/>
<circle cx="365.05" cy="519.80" r="1.15" fill="#5a1872"/>
<circle cx="368.95" cy="519.80" r="1.15" fill="#5a1872"/>
<circle cx="372.85" cy="519.80" r="1.15" fill="#5a1872"/>
<circle cx="376.75" cy="519.80" r="1.15" fill="#5a1872"/>
<circle cx="365.05" cy="521.31" r="1.15" fill="#5a1872"/>
<circle cx="368.95" cy="521.31" r="1.15" fill="#5a1872"/>
<circle cx="372.85" cy="521.31" r="1.15" fill="#5a1872"/>
<circle cx="376.75" cy="521.31" r="1.15" fill="#5a1872"/>
<line x1="434.40" y1="462.30" x2="434.40" y2="523.50" stroke="#1c1c1c" stroke-width="1.5" />
<line x1="433.70" y1="522.80" x2="511.20" y2="522.80" stroke="#1c1c1c" stroke-width="1.5" />
<line x1="431.20" y1="465.50" x2="434.40" y2="465.50" stroke="#1c1c1c" stroke-width="1.2" />
<text x="428.20" y="468.50" font-size="8.6" text-anchor="end" fill="#1a1a1a" stroke="#1a1a1a" stroke-width="0.22" textLength="11.6" lengthAdjust="spacingAndGlyphs" ><tspan>100</tspan></text>
<line x1="431.20" y1="476.96" x2="434.40" y2="476.96" stroke="#1c1c1c" stroke-width="1.2" />
<text x="428.20" y="479.96" font-size="8.6" text-anchor="end" fill="#1a1a1a" stroke="#1a1a1a" stroke-width="0.22" textLength="9.0" lengthAdjust="spacingAndGlyphs" ><tspan>80</tspan></text>
<line x1="431.20" y1="488.42" x2="434.40" y2="488.42" stroke="#1c1c1c" stroke-width="1.2" />
<text x="428.20" y="491.42" font-size="8.6" text-anchor="end" fill="#1a1a1a" stroke="#1a1a1a" stroke-width="0.22" textLength="9.0" lengthAdjust="spacingAndGlyphs" ><tspan>60</tspan></text>
<line x1="431.20" y1="499.88" x2="434.40" y2="499.88" stroke="#1c1c1c" stroke-width="1.2" />
<text x="428.20" y="502.88" font-size="8.6" text-anchor="end" fill="#1a1a1a" stroke="#1a1a1a" stroke-width="0.22" textLength="9.0" lengthAdjust="spacingAndGlyphs" ><tspan>40</tspan></text>
<line x1="431.20" y1="511.34" x2="434.40" y2="511.34" stroke="#1c1c1c" stroke-width="1.2" />
<text x="428.20" y="514.34" font-size="8.6" text-anchor="end" fill="#1a1a1a" stroke="#1a1a1a" stroke-width="0.22" textLength="9.0" lengthAdjust="spacingAndGlyphs" ><tspan>20</tspan></text>
<line x1="431.20" y1="522.80" x2="434.40" y2="522.80" stroke="#1c1c1c" stroke-width="1.2" />
<text x="429.00" y="525.80" font-size="8.6" text-anchor="end" fill="#1a1a1a" stroke="#1a1a1a" stroke-width="0.22" textLength="4.6" lengthAdjust="spacingAndGlyphs" ><tspan>0</tspan></text>
<line x1="445.00" y1="522.80" x2="445.00" y2="525.20" stroke="#1c1c1c" stroke-width="1.0" />
<text transform="translate(447.50,533.30) rotate(-45)" font-size="8.3" text-anchor="end" fill="#1a1a1a" stroke="#1a1a1a" stroke-width="0.26" textLength="23.6" lengthAdjust="spacingAndGlyphs" ><tspan>Control</tspan></text>
<line x1="464.30" y1="522.80" x2="464.30" y2="525.20" stroke="#1c1c1c" stroke-width="1.0" />
<text transform="translate(466.80,533.30) rotate(-45)" font-size="8.3" text-anchor="end" fill="#1a1a1a" stroke="#1a1a1a" stroke-width="0.26" textLength="12.5" lengthAdjust="spacingAndGlyphs" ><tspan>Maf</tspan></text>
<line x1="483.90" y1="522.80" x2="483.90" y2="525.20" stroke="#1c1c1c" stroke-width="1.0" />
<text transform="translate(486.40,533.30) rotate(-45)" font-size="8.3" text-anchor="end" fill="#1a1a1a" stroke="#1a1a1a" stroke-width="0.26" textLength="14.0" lengthAdjust="spacingAndGlyphs" ><tspan>CsA</tspan></text>
<line x1="503.60" y1="522.80" x2="503.60" y2="525.20" stroke="#1c1c1c" stroke-width="1.0" />
<text transform="translate(506.10,533.30) rotate(-45)" font-size="8.3" text-anchor="end" fill="#1a1a1a" stroke="#1a1a1a" stroke-width="0.26" textLength="13.6" lengthAdjust="spacingAndGlyphs" ><tspan>Rap</tspan></text>
<text x="473.70" y="450.70" font-size="8.56" text-anchor="middle" fill="#1a1a1a" stroke="#1a1a1a" stroke-width="0.22" textLength="27.0" lengthAdjust="spacingAndGlyphs" ><tspan>TEMRA</tspan></text>
<text transform="translate(411.40,492.40) rotate(-90) scale(1,1.28)" font-size="7.2" text-anchor="middle" fill="#111" stroke="#111" stroke-width="0.3" textLength="51.5" lengthAdjust="spacingAndGlyphs" ><tspan>% of CD8</tspan><tspan dy="-2.16" font-size="5.18">+</tspan><tspan dy="2.16"> T cells</tspan></text>
<line x1="444.70" y1="483.20" x2="506.00" y2="483.20" stroke="#5c5c5c" stroke-width="0.9" />
<text x="475.35" y="481.30" font-size="7.6" text-anchor="middle" fill="#3a3a3a" ><tspan>ns</tspan></text>
<line x1="444.70" y1="490.00" x2="485.60" y2="490.00" stroke="#5c5c5c" stroke-width="0.9" />
<circle cx="463.90" cy="487.10" r="0.95" fill="#222"/>
<circle cx="466.40" cy="487.10" r="0.95" fill="#222"/>
<line x1="444.70" y1="496.60" x2="466.00" y2="496.60" stroke="#5c5c5c" stroke-width="0.9" />
<circle cx="455.35" cy="493.70" r="0.95" fill="#222"/>
<line x1="445.00" y1="500.70" x2="445.00" y2="521.90" stroke="#333" stroke-width="1.0" />
<line x1="440.70" y1="500.70" x2="449.30" y2="500.70" stroke="#333" stroke-width="1.0" />
<line x1="440.70" y1="521.90" x2="449.30" y2="521.90" stroke="#333" stroke-width="1.0" />
<rect x="438.50" y="517.00" width="13.00" height="4.60" fill="#a3dba6" />
<line x1="438.50" y1="520.30" x2="451.50" y2="520.30" stroke="#1e1e1e" stroke-width="1.35" />
<circle cx="445.00" cy="500.70" r="1.15" fill="#27b040"/>
<circle cx="445.00" cy="504.45" r="1.15" fill="#27b040"/>
<circle cx="441.10" cy="516.53" r="1.15" fill="#27b040"/>
<circle cx="445.00" cy="516.53" r="1.15" fill="#27b040"/>
<circle cx="448.90" cy="516.53" r="1.15" fill="#27b040"/>
<circle cx="439.15" cy="518.56" r="1.15" fill="#27b040"/>
<circle cx="443.05" cy="518.56" r="1.15" fill="#27b040"/>
<circle cx="446.95" cy="518.56" r="1.15" fill="#27b040"/>
<circle cx="450.85" cy="518.56" r="1.15" fill="#27b040"/>
<circle cx="443.05" cy="520.18" r="1.15" fill="#27b040"/>
<circle cx="446.95" cy="520.18" r="1.15" fill="#27b040"/>
<circle cx="445.00" cy="521.90" r="1.15" fill="#27b040"/>
<line x1="464.30" y1="501.00" x2="464.30" y2="520.60" stroke="#333" stroke-width="1.0" />
<line x1="460.00" y1="501.00" x2="468.60" y2="501.00" stroke="#333" stroke-width="1.0" />
<line x1="460.00" y1="520.60" x2="468.60" y2="520.60" stroke="#333" stroke-width="1.0" />
<rect x="457.80" y="512.40" width="13.00" height="4.90" fill="#e89dac" />
<line x1="457.80" y1="514.60" x2="470.80" y2="514.60" stroke="#1e1e1e" stroke-width="1.35" />
<circle cx="464.30" cy="501.00" r="1.15" fill="#d0102e"/>
<circle cx="464.30" cy="503.11" r="1.15" fill="#d0102e"/>
<circle cx="458.45" cy="512.94" r="1.15" fill="#d0102e"/>
<circle cx="462.35" cy="512.94" r="1.15" fill="#d0102e"/>
<circle cx="466.25" cy="512.94" r="1.15" fill="#d0102e"/>
<circle cx="470.15" cy="512.94" r="1.15" fill="#d0102e"/>
<circle cx="462.35" cy="514.87" r="1.15" fill="#d0102e"/>
<circle cx="466.25" cy="514.87" r="1.15" fill="#d0102e"/>
<circle cx="460.40" cy="516.82" r="1.15" fill="#d0102e"/>
<circle cx="464.30" cy="516.82" r="1.15" fill="#d0102e"/>
<circle cx="468.20" cy="516.82" r="1.15" fill="#d0102e"/>
<circle cx="464.30" cy="520.60" r="1.15" fill="#d0102e"/>
<line x1="483.90" y1="502.00" x2="483.90" y2="521.90" stroke="#333" stroke-width="1.0" />
<line x1="479.60" y1="502.00" x2="488.20" y2="502.00" stroke="#333" stroke-width="1.0" />
<line x1="479.60" y1="521.90" x2="488.20" y2="521.90" stroke="#333" stroke-width="1.0" />
<rect x="477.40" y="515.70" width="13.00" height="5.40" fill="#a2bfdc" />
<line x1="477.40" y1="518.60" x2="490.40" y2="518.60" stroke="#1e1e1e" stroke-width="1.35" />
<circle cx="481.95" cy="502.43" r="1.15" fill="#1b5d9c"/>
<circle cx="485.85" cy="502.43" r="1.15" fill="#1b5d9c"/>
<circle cx="481.95" cy="515.08" r="1.15" fill="#1b5d9c"/>
<circle cx="485.85" cy="515.08" r="1.15" fill="#1b5d9c"/>
<circle cx="478.05" cy="517.79" r="1.15" fill="#1b5d9c"/>
<circle cx="481.95" cy="517.79" r="1.15" fill="#1b5d9c"/>
<circle cx="485.85" cy="517.79" r="1.15" fill="#1b5d9c"/>
<circle cx="489.75" cy="517.79" r="1.15" fill="#1b5d9c"/>
<circle cx="480.00" cy="519.51" r="1.15" fill="#1b5d9c"/>
<circle cx="483.90" cy="519.51" r="1.15" fill="#1b5d9c"/>
<circle cx="487.80" cy="519.51" r="1.15" fill="#1b5d9c"/>
<circle cx="483.90" cy="521.90" r="1.15" fill="#1b5d9c"/>
<line x1="503.60" y1="510.20" x2="503.60" y2="521.90" stroke="#333" stroke-width="1.0" />
<line x1="499.30" y1="510.20" x2="507.90" y2="510.20" stroke="#333" stroke-width="1.0" />
<line x1="499.30" y1="521.90" x2="507.90" y2="521.90" stroke="#333" stroke-width="1.0" />
<rect x="497.10" y="517.30" width="13.00" height="3.80" fill="#c6a5d3" />
<line x1="497.10" y1="519.70" x2="510.10" y2="519.70" stroke="#1e1e1e" stroke-width="1.35" />
<circle cx="503.60" cy="510.20" r="1.15" fill="#5a1872"/>
<circle cx="503.60" cy="514.37" r="1.15" fill="#5a1872"/>
<circle cx="497.75" cy="517.45" r="1.15" fill="#5a1872"/>
<circle cx="501.65" cy="517.45" r="1.15" fill="#5a1872"/>
<circle cx="505.55" cy="517.45" r="1.15" fill="#5a1872"/>
<circle cx="509.45" cy="517.45" r="1.15" fill="#5a1872"/>
<circle cx="501.65" cy="517.74" r="1.15" fill="#5a1872"/>
<circle cx="505.55" cy="517.74" r="1.15" fill="#5a1872"/>
<circle cx="499.70" cy="519.99" r="1.15" fill="#5a1872"/>
<circle cx="503.60" cy="519.99" r="1.15" fill="#5a1872"/>
<circle cx="507.50" cy="519.99" r="1.15" fill="#5a1872"/>
<circle cx="503.60" cy="521.90" r="1.15" fill="#5a1872"/>
<line x1="49.10" y1="584.70" x2="49.10" y2="646.40" stroke="#1c1c1c" stroke-width="1.5" />
<line x1="48.40" y1="645.70" x2="126.20" y2="645.70" stroke="#1c1c1c" stroke-width="1.5" />
<line x1="45.90" y1="588.00" x2="49.10" y2="588.00" stroke="#1c1c1c" stroke-width="1.2" />
<text x="43.70" y="591.00" font-size="8.6" text-anchor="end" fill="#1a1a1a" stroke="#1a1a1a" stroke-width="0.22" textLength="4.6" lengthAdjust="spacingAndGlyphs" ><tspan>4</tspan></text>
<line x1="45.90" y1="602.42" x2="49.10" y2="602.42" stroke="#1c1c1c" stroke-width="1.2" />
<text x="43.70" y="605.42" font-size="8.6" text-anchor="end" fill="#1a1a1a" stroke="#1a1a1a" stroke-width="0.22" textLength="4.6" lengthAdjust="spacingAndGlyphs" ><tspan>3</tspan></text>
<line x1="45.90" y1="616.85" x2="49.10" y2="616.85" stroke="#1c1c1c" stroke-width="1.2" />
<text x="43.70" y="619.85" font-size="8.6" text-anchor="end" fill="#1a1a1a" stroke="#1a1a1a" stroke-width="0.22" textLength="4.6" lengthAdjust="spacingAndGlyphs" ><tspan>2</tspan></text>
<line x1="45.90" y1="631.28" x2="49.10" y2="631.28" stroke="#1c1c1c" stroke-width="1.2" />
<text x="43.70" y="634.28" font-size="8.6" text-anchor="end" fill="#1a1a1a" stroke="#1a1a1a" stroke-width="0.22" textLength="4.6" lengthAdjust="spacingAndGlyphs" ><tspan>1</tspan></text>
<line x1="45.90" y1="645.70" x2="49.10" y2="645.70" stroke="#1c1c1c" stroke-width="1.2" />
<text x="43.70" y="648.70" font-size="8.6" text-anchor="end" fill="#1a1a1a" stroke="#1a1a1a" stroke-width="0.22" textLength="4.6" lengthAdjust="spacingAndGlyphs" ><tspan>0</tspan></text>
<line x1="59.40" y1="645.70" x2="59.40" y2="648.10" stroke="#1c1c1c" stroke-width="1.0" />
<text transform="translate(61.90,656.20) rotate(-45)" font-size="8.3" text-anchor="end" fill="#1a1a1a" stroke="#1a1a1a" stroke-width="0.26" textLength="23.6" lengthAdjust="spacingAndGlyphs" ><tspan>Control</tspan></text>
<line x1="78.80" y1="645.70" x2="78.80" y2="648.10" stroke="#1c1c1c" stroke-width="1.0" />
<text transform="translate(81.30,656.20) rotate(-45)" font-size="8.3" text-anchor="end" fill="#1a1a1a" stroke="#1a1a1a" stroke-width="0.26" textLength="12.5" lengthAdjust="spacingAndGlyphs" ><tspan>Maf</tspan></text>
<line x1="98.10" y1="645.70" x2="98.10" y2="648.10" stroke="#1c1c1c" stroke-width="1.0" />
<text transform="translate(100.60,656.20) rotate(-45)" font-size="8.3" text-anchor="end" fill="#1a1a1a" stroke="#1a1a1a" stroke-width="0.26" textLength="14.0" lengthAdjust="spacingAndGlyphs" ><tspan>CsA</tspan></text>
<line x1="116.90" y1="645.70" x2="116.90" y2="648.10" stroke="#1c1c1c" stroke-width="1.0" />
<text transform="translate(119.40,656.20) rotate(-45)" font-size="8.3" text-anchor="end" fill="#1a1a1a" stroke="#1a1a1a" stroke-width="0.26" textLength="13.6" lengthAdjust="spacingAndGlyphs" ><tspan>Rap</tspan></text>
<text x="87.90" y="568.00" font-size="8.774" text-anchor="middle" fill="#1a1a1a" stroke="#1a1a1a" stroke-width="0.22" textLength="18.6" lengthAdjust="spacingAndGlyphs" ><tspan>T</tspan><tspan dy="2.46" font-size="7.02">SCM</tspan></text>
<text transform="translate(31.90,616.40) rotate(-90) scale(1,1.28)" font-size="7.2" text-anchor="middle" fill="#111" stroke="#111" stroke-width="0.3" textLength="51.1" lengthAdjust="spacingAndGlyphs" ><tspan>% of CD8</tspan><tspan dy="-2.16" font-size="5.18">+</tspan><tspan dy="2.16"> T cells</tspan></text>
<line x1="58.90" y1="583.80" x2="119.70" y2="583.80" stroke="#a4a4a4" stroke-width="1.5" />
<circle cx="85.55" cy="580.90" r="0.95" fill="#222"/>
<circle cx="88.05" cy="580.90" r="0.95" fill="#222"/>
<circle cx="90.55" cy="580.90" r="0.95" fill="#222"/>
<circle cx="93.05" cy="580.90" r="0.95" fill="#222"/>
<line x1="58.90" y1="590.50" x2="98.90" y2="590.50" stroke="#5c5c5c" stroke-width="0.9" />
<circle cx="75.15" cy="587.60" r="0.95" fill="#222"/>
<circle cx="77.65" cy="587.60" r="0.95" fill="#222"/>
<circle cx="80.15" cy="587.60" r="0.95" fill="#222"/>
<circle cx="82.65" cy="587.60" r="0.95" fill="#222"/>
<line x1="58.90" y1="596.50" x2="79.80" y2="596.50" stroke="#5c5c5c" stroke-width="0.9" />
<circle cx="68.10" cy="593.60" r="0.95" fill="#222"/>
<circle cx="70.60" cy="593.60" r="0.95" fill="#222"/>
<line x1="59.40" y1="622.30" x2="59.40" y2="642.60" stroke="#333" stroke-width="1.0" />
<line x1="55.10" y1="622.30" x2="63.70" y2="622.30" stroke="#333" stroke-width="1.0" />
<line x1="55.10" y1="642.60" x2="63.70" y2="642.60" stroke="#333" stroke-width="1.0" />
<rect x="52.90" y="632.80" width="13.00" height="6.20" fill="#a3dba6" />
<line x1="52.90" y1="636.20" x2="65.90" y2="636.20" stroke="#1e1e1e" stroke-width="1.35" />
<circle cx="59.40" cy="622.30" r="1.15" fill="#27b040"/>
<circle cx="57.45" cy="630.43" r="1.15" fill="#27b040"/>
<circle cx="61.35" cy="630.43" r="1.15" fill="#27b040"/>
<circle cx="53.55" cy="635.39" r="1.15" fill="#27b040"/>
<circle cx="57.45" cy="635.39" r="1.15" fill="#27b040"/>
<circle cx="61.35" cy="635.39" r="1.15" fill="#27b040"/>
<circle cx="65.25" cy="635.39" r="1.15" fill="#27b040"/>
<circle cx="55.50" cy="637.25" r="1.15" fill="#27b040"/>
<circle cx="59.40" cy="637.25" r="1.15" fill="#27b040"/>
<circle cx="63.30" cy="637.25" r="1.15" fill="#27b040"/>
<circle cx="59.40" cy="639.61" r="1.15" fill="#27b040"/>
<circle cx="59.40" cy="642.60" r="1.15" fill="#27b040"/>
<line x1="78.80" y1="600.90" x2="78.80" y2="640.60" stroke="#333" stroke-width="1.0" />
<line x1="74.50" y1="600.90" x2="83.10" y2="600.90" stroke="#333" stroke-width="1.0" />
<line x1="74.50" y1="640.60" x2="83.10" y2="640.60" stroke="#333" stroke-width="1.0" />
<rect x="72.30" y="618.10" width="13.00" height="17.30" fill="#e89dac" />
<line x1="72.30" y1="632.20" x2="85.30" y2="632.20" stroke="#1e1e1e" stroke-width="1.35" />
<circle cx="78.80" cy="600.90" r="1.15" fill="#d0102e"/>
<circle cx="78.80" cy="621.13" r="1.15" fill="#d0102e"/>
<circle cx="78.80" cy="628.75" r="1.15" fill="#d0102e"/>
<circle cx="72.95" cy="631.57" r="1.15" fill="#d0102e"/>
<circle cx="76.85" cy="631.57" r="1.15" fill="#d0102e"/>
<circle cx="80.75" cy="631.57" r="1.15" fill="#d0102e"/>
<circle cx="84.65" cy="631.57" r="1.15" fill="#d0102e"/>
<circle cx="72.95" cy="633.35" r="1.15" fill="#d0102e"/>
<circle cx="76.85" cy="633.35" r="1.15" fill="#d0102e"/>
<circle cx="80.75" cy="633.35" r="1.15" fill="#d0102e"/>
<circle cx="84.65" cy="633.35" r="1.15" fill="#d0102e"/>
<circle cx="78.80" cy="640.60" r="1.15" fill="#d0102e"/>
<line x1="98.10" y1="641.00" x2="98.10" y2="645.00" stroke="#333" stroke-width="1.0" />
<line x1="93.80" y1="641.00" x2="102.40" y2="641.00" stroke="#333" stroke-width="1.0" />
<line x1="93.80" y1="645.00" x2="102.40" y2="645.00" stroke="#333" stroke-width="1.0" />
<rect x="91.60" y="642.60" width="13.00" height="2.10" fill="#a2bfdc" />
<line x1="91.60" y1="643.50" x2="104.60" y2="643.50" stroke="#1e1e1e" stroke-width="1.35" />
<circle cx="92.25" cy="642.04" r="1.15" fill="#1b5d9c"/>
<circle cx="96.15" cy="642.04" r="1.15" fill="#1b5d9c"/>
<circle cx="100.05" cy="642.04" r="1.15" fill="#1b5d9c"/>
<circle cx="103.95" cy="642.04" r="1.15" fill="#1b5d9c"/>
<circle cx="92.25" cy="643.27" r="1.15" fill="#1b5d9c"/>
<circle cx="96.15" cy="643.27" r="1.15" fill="#1b5d9c"/>
<circle cx="100.05" cy="643.27" r="1.15" fill="#1b5d9c"/>
<circle cx="103.95" cy="643.27" r="1.15" fill="#1b5d9c"/>
<circle cx="92.25" cy="644.48" r="1.15" fill="#1b5d9c"/>
<circle cx="96.15" cy="644.48" r="1.15" fill="#1b5d9c"/>
<circle cx="100.05" cy="644.48" r="1.15" fill="#1b5d9c"/>
<circle cx="103.95" cy="644.48" r="1.15" fill="#1b5d9c"/>
<line x1="116.90" y1="639.30" x2="116.90" y2="645.00" stroke="#333" stroke-width="1.0" />
<line x1="112.60" y1="639.30" x2="121.20" y2="639.30" stroke="#333" stroke-width="1.0" />
<line x1="112.60" y1="645.00" x2="121.20" y2="645.00" stroke="#333" stroke-width="1.0" />
<rect x="110.40" y="642.00" width="13.00" height="2.70" fill="#c6a5d3" />
<line x1="110.40" y1="643.50" x2="123.40" y2="643.50" stroke="#1e1e1e" stroke-width="1.35" />
<circle cx="114.95" cy="639.94" r="1.15" fill="#5a1872"/>
<circle cx="118.85" cy="639.94" r="1.15" fill="#5a1872"/>
<circle cx="111.05" cy="643.04" r="1.15" fill="#5a1872"/>
<circle cx="114.95" cy="643.04" r="1.15" fill="#5a1872"/>
<circle cx="118.85" cy="643.04" r="1.15" fill="#5a1872"/>
<circle cx="122.75" cy="643.04" r="1.15" fill="#5a1872"/>
<circle cx="111.05" cy="643.94" r="1.15" fill="#5a1872"/>
<circle cx="114.95" cy="643.94" r="1.15" fill="#5a1872"/>
<circle cx="118.85" cy="643.94" r="1.15" fill="#5a1872"/>
<circle cx="122.75" cy="643.94" r="1.15" fill="#5a1872"/>
<circle cx="114.95" cy="644.82" r="1.15" fill="#5a1872"/>
<circle cx="118.85" cy="644.82" r="1.15" fill="#5a1872"/>
<line x1="170.40" y1="585.40" x2="170.40" y2="646.40" stroke="#1c1c1c" stroke-width="1.5" />
<line x1="169.70" y1="645.70" x2="246.70" y2="645.70" stroke="#1c1c1c" stroke-width="1.5" />
<line x1="167.20" y1="588.00" x2="170.40" y2="588.00" stroke="#1c1c1c" stroke-width="1.2" />
<text x="164.20" y="591.00" font-size="8.6" text-anchor="end" fill="#1a1a1a" stroke="#1a1a1a" stroke-width="0.22" textLength="9.0" lengthAdjust="spacingAndGlyphs" ><tspan>80</tspan></text>
<line x1="167.20" y1="602.42" x2="170.40" y2="602.42" stroke="#1c1c1c" stroke-width="1.2" />
<text x="164.20" y="605.42" font-size="8.6" text-anchor="end" fill="#1a1a1a" stroke="#1a1a1a" stroke-width="0.22" textLength="9.0" lengthAdjust="spacingAndGlyphs" ><tspan>60</tspan></text>
<line x1="167.20" y1="616.85" x2="170.40" y2="616.85" stroke="#1c1c1c" stroke-width="1.2" />
<text x="164.20" y="619.85" font-size="8.6" text-anchor="end" fill="#1a1a1a" stroke="#1a1a1a" stroke-width="0.22" textLength="9.0" lengthAdjust="spacingAndGlyphs" ><tspan>40</tspan></text>
<line x1="167.20" y1="631.28" x2="170.40" y2="631.28" stroke="#1c1c1c" stroke-width="1.2" />
<text x="164.20" y="634.28" font-size="8.6" text-anchor="end" fill="#1a1a1a" stroke="#1a1a1a" stroke-width="0.22" textLength="9.0" lengthAdjust="spacingAndGlyphs" ><tspan>20</tspan></text>
<line x1="167.20" y1="645.70" x2="170.40" y2="645.70" stroke="#1c1c1c" stroke-width="1.2" />
<text x="165.00" y="648.70" font-size="8.6" text-anchor="end" fill="#1a1a1a" stroke="#1a1a1a" stroke-width="0.22" textLength="4.6" lengthAdjust="spacingAndGlyphs" ><tspan>0</tspan></text>
<line x1="180.50" y1="645.70" x2="180.50" y2="648.10" stroke="#1c1c1c" stroke-width="1.0" />
<text transform="translate(183.00,656.20) rotate(-45)" font-size="8.3" text-anchor="end" fill="#1a1a1a" stroke="#1a1a1a" stroke-width="0.26" textLength="23.6" lengthAdjust="spacingAndGlyphs" ><tspan>Control</tspan></text>
<line x1="200.10" y1="645.70" x2="200.10" y2="648.10" stroke="#1c1c1c" stroke-width="1.0" />
<text transform="translate(202.60,656.20) rotate(-45)" font-size="8.3" text-anchor="end" fill="#1a1a1a" stroke="#1a1a1a" stroke-width="0.26" textLength="12.5" lengthAdjust="spacingAndGlyphs" ><tspan>Maf</tspan></text>
<line x1="219.40" y1="645.70" x2="219.40" y2="648.10" stroke="#1c1c1c" stroke-width="1.0" />
<text transform="translate(221.90,656.20) rotate(-45)" font-size="8.3" text-anchor="end" fill="#1a1a1a" stroke="#1a1a1a" stroke-width="0.26" textLength="14.0" lengthAdjust="spacingAndGlyphs" ><tspan>CsA</tspan></text>
<line x1="238.90" y1="645.70" x2="238.90" y2="648.10" stroke="#1c1c1c" stroke-width="1.0" />
<text transform="translate(241.40,656.20) rotate(-45)" font-size="8.3" text-anchor="end" fill="#1a1a1a" stroke="#1a1a1a" stroke-width="0.26" textLength="13.6" lengthAdjust="spacingAndGlyphs" ><tspan>Rap</tspan></text>
<text x="209.25" y="570.40" font-size="8.56" text-anchor="middle" fill="#1a1a1a" stroke="#1a1a1a" stroke-width="0.22" textLength="65.5" lengthAdjust="spacingAndGlyphs" ><tspan>CD161</tspan><tspan dy="-2.57" font-size="6.16">+</tspan><tspan dy="2.57">CD218a</tspan><tspan dy="-2.57" font-size="6.16">+</tspan></text>
<text transform="translate(148.20,615.30) rotate(-90) scale(1,1.28)" font-size="7.2" text-anchor="middle" fill="#111" stroke="#111" stroke-width="0.3" textLength="51.1" lengthAdjust="spacingAndGlyphs" ><tspan>% of CD8</tspan><tspan dy="-2.16" font-size="5.18">+</tspan><tspan dy="2.16"> T cells</tspan></text>
<line x1="179.70" y1="581.50" x2="239.90" y2="581.50" stroke="#a4a4a4" stroke-width="1.5" />
<text x="209.80" y="579.60" font-size="7.6" text-anchor="middle" fill="#3a3a3a" ><tspan>ns</tspan></text>
<line x1="179.70" y1="588.30" x2="219.80" y2="588.30" stroke="#a4a4a4" stroke-width="1.5" />
<text x="199.75" y="586.40" font-size="7.6" text-anchor="middle" fill="#3a3a3a" ><tspan>ns</tspan></text>
<line x1="179.70" y1="594.60" x2="200.60" y2="594.60" stroke="#a4a4a4" stroke-width="1.5" />
<circle cx="190.15" cy="591.70" r="0.95" fill="#222"/>
<line x1="180.50" y1="633.30" x2="180.50" y2="643.90" stroke="#333" stroke-width="1.0" />
<line x1="176.20" y1="633.30" x2="184.80" y2="633.30" stroke="#333" stroke-width="1.0" />
<line x1="176.20" y1="643.90" x2="184.80" y2="643.90" stroke="#333" stroke-width="1.0" />
<rect x="174.00" y="637.00" width="13.00" height="6.90" fill="#a3dba6" />
<line x1="174.00" y1="642.30" x2="187.00" y2="642.30" stroke="#1e1e1e" stroke-width="1.35" />
<circle cx="176.60" cy="634.05" r="1.15" fill="#27b040"/>
<circle cx="180.50" cy="634.05" r="1.15" fill="#27b040"/>
<circle cx="184.40" cy="634.05" r="1.15" fill="#27b040"/>
<circle cx="174.65" cy="637.40" r="1.15" fill="#27b040"/>
<circle cx="178.55" cy="637.40" r="1.15" fill="#27b040"/>
<circle cx="182.45" cy="637.40" r="1.15" fill="#27b040"/>
<circle cx="186.35" cy="637.40" r="1.15" fill="#27b040"/>
<circle cx="174.65" cy="638.72" r="1.15" fill="#27b040"/>
<circle cx="178.55" cy="638.72" r="1.15" fill="#27b040"/>
<circle cx="182.45" cy="638.72" r="1.15" fill="#27b040"/>
<circle cx="186.35" cy="638.72" r="1.15" fill="#27b040"/>
<circle cx="180.50" cy="643.90" r="1.15" fill="#27b040"/>
<line x1="200.10" y1="598.20" x2="200.10" y2="643.90" stroke="#333" stroke-width="1.0" />
<line x1="195.80" y1="598.20" x2="204.40" y2="598.20" stroke="#333" stroke-width="1.0" />
<line x1="195.80" y1="643.90" x2="204.40" y2="643.90" stroke="#333" stroke-width="1.0" />
<rect x="193.60" y="617.00" width="13.00" height="26.90" fill="#e89dac" />
<line x1="193.60" y1="632.80" x2="206.60" y2="632.80" stroke="#1e1e1e" stroke-width="1.35" />
<circle cx="200.10" cy="598.20" r="1.15" fill="#d0102e"/>
<circle cx="200.10" cy="617.21" r="1.15" fill="#d0102e"/>
<circle cx="196.20" cy="622.28" r="1.15" fill="#d0102e"/>
<circle cx="200.10" cy="622.28" r="1.15" fill="#d0102e"/>
<circle cx="204.00" cy="622.28" r="1.15" fill="#d0102e"/>
<circle cx="200.10" cy="628.48" r="1.15" fill="#d0102e"/>
<circle cx="200.10" cy="631.00" r="1.15" fill="#d0102e"/>
<circle cx="200.10" cy="635.05" r="1.15" fill="#d0102e"/>
<circle cx="198.15" cy="639.06" r="1.15" fill="#d0102e"/>
<circle cx="202.05" cy="639.06" r="1.15" fill="#d0102e"/>
<circle cx="200.10" cy="641.51" r="1.15" fill="#d0102e"/>
<circle cx="200.10" cy="643.90" r="1.15" fill="#d0102e"/>
<line x1="219.40" y1="633.30" x2="219.40" y2="643.90" stroke="#333" stroke-width="1.0" />
<line x1="215.10" y1="633.30" x2="223.70" y2="633.30" stroke="#333" stroke-width="1.0" />
<line x1="215.10" y1="643.90" x2="223.70" y2="643.90" stroke="#333" stroke-width="1.0" />
<rect x="212.90" y="637.00" width="13.00" height="6.90" fill="#a2bfdc" />
<line x1="212.90" y1="641.50" x2="225.90" y2="641.50" stroke="#1e1e1e" stroke-width="1.35" />
<circle cx="219.40" cy="633.30" r="1.15" fill="#1b5d9c"/>
<circle cx="215.50" cy="637.82" r="1.15" fill="#1b5d9c"/>
<circle cx="219.40" cy="637.82" r="1.15" fill="#1b5d9c"/>
<circle cx="223.30" cy="637.82" r="1.15" fill="#1b5d9c"/>
<circle cx="213.55" cy="640.85" r="1.15" fill="#1b5d9c"/>
<circle cx="217.45" cy="640.85" r="1.15" fill="#1b5d9c"/>
<circle cx="221.35" cy="640.85" r="1.15" fill="#1b5d9c"/>
<circle cx="225.25" cy="640.85" r="1.15" fill="#1b5d9c"/>
<circle cx="217.45" cy="641.78" r="1.15" fill="#1b5d9c"/>
<circle cx="221.35" cy="641.78" r="1.15" fill="#1b5d9c"/>
<circle cx="217.45" cy="643.76" r="1.15" fill="#1b5d9c"/>
<circle cx="221.35" cy="643.76" r="1.15" fill="#1b5d9c"/>
<line x1="238.90" y1="633.80" x2="238.90" y2="644.50" stroke="#333" stroke-width="1.0" />
<line x1="234.60" y1="633.80" x2="243.20" y2="633.80" stroke="#333" stroke-width="1.0" />
<line x1="234.60" y1="644.50" x2="243.20" y2="644.50" stroke="#333" stroke-width="1.0" />
<rect x="232.40" y="635.70" width="13.00" height="8.20" fill="#c6a5d3" />
<line x1="232.40" y1="642.30" x2="245.40" y2="642.30" stroke="#1e1e1e" stroke-width="1.35" />
<circle cx="238.90" cy="633.80" r="1.15" fill="#5a1872"/>
<circle cx="233.05" cy="636.79" r="1.15" fill="#5a1872"/>
<circle cx="236.95" cy="636.79" r="1.15" fill="#5a1872"/>
<circle cx="240.85" cy="636.79" r="1.15" fill="#5a1872"/>
<circle cx="244.75" cy="636.79" r="1.15" fill="#5a1872"/>
<circle cx="233.05" cy="641.66" r="1.15" fill="#5a1872"/>
<circle cx="236.95" cy="641.66" r="1.15" fill="#5a1872"/>
<circle cx="240.85" cy="641.66" r="1.15" fill="#5a1872"/>
<circle cx="244.75" cy="641.66" r="1.15" fill="#5a1872"/>
<circle cx="235.00" cy="643.81" r="1.15" fill="#5a1872"/>
<circle cx="238.90" cy="643.81" r="1.15" fill="#5a1872"/>
<circle cx="242.80" cy="643.81" r="1.15" fill="#5a1872"/>
<line x1="302.40" y1="584.30" x2="302.40" y2="646.40" stroke="#1c1c1c" stroke-width="1.5" />
<line x1="301.70" y1="645.70" x2="378.70" y2="645.70" stroke="#1c1c1c" stroke-width="1.5" />
<line x1="299.20" y1="588.00" x2="302.40" y2="588.00" stroke="#1c1c1c" stroke-width="1.2" />
<text x="296.20" y="591.00" font-size="8.6" text-anchor="end" fill="#1a1a1a" stroke="#1a1a1a" stroke-width="0.22" textLength="9.0" lengthAdjust="spacingAndGlyphs" ><tspan>80</tspan></text>
<line x1="299.20" y1="602.42" x2="302.40" y2="602.42" stroke="#1c1c1c" stroke-width="1.2" />
<text x="296.20" y="605.42" font-size="8.6" text-anchor="end" fill="#1a1a1a" stroke="#1a1a1a" stroke-width="0.22" textLength="9.0" lengthAdjust="spacingAndGlyphs" ><tspan>60</tspan></text>
<line x1="299.20" y1="616.85" x2="302.40" y2="616.85" stroke="#1c1c1c" stroke-width="1.2" />
<text x="296.20" y="619.85" font-size="8.6" text-anchor="end" fill="#1a1a1a" stroke="#1a1a1a" stroke-width="0.22" textLength="9.0" lengthAdjust="spacingAndGlyphs" ><tspan>40</tspan></text>
<line x1="299.20" y1="631.28" x2="302.40" y2="631.28" stroke="#1c1c1c" stroke-width="1.2" />
<text x="296.20" y="634.28" font-size="8.6" text-anchor="end" fill="#1a1a1a" stroke="#1a1a1a" stroke-width="0.22" textLength="9.0" lengthAdjust="spacingAndGlyphs" ><tspan>20</tspan></text>
<line x1="299.20" y1="645.70" x2="302.40" y2="645.70" stroke="#1c1c1c" stroke-width="1.2" />
<text x="297.00" y="648.70" font-size="8.6" text-anchor="end" fill="#1a1a1a" stroke="#1a1a1a" stroke-width="0.22" textLength="4.6" lengthAdjust="spacingAndGlyphs" ><tspan>0</tspan></text>
<line x1="312.90" y1="645.70" x2="312.90" y2="648.10" stroke="#1c1c1c" stroke-width="1.0" />
<text transform="translate(315.40,656.20) rotate(-45)" font-size="8.3" text-anchor="end" fill="#1a1a1a" stroke="#1a1a1a" stroke-width="0.26" textLength="23.6" lengthAdjust="spacingAndGlyphs" ><tspan>Control</tspan></text>
<line x1="332.10" y1="645.70" x2="332.10" y2="648.10" stroke="#1c1c1c" stroke-width="1.0" />
<text transform="translate(334.60,656.20) rotate(-45)" font-size="8.3" text-anchor="end" fill="#1a1a1a" stroke="#1a1a1a" stroke-width="0.26" textLength="12.5" lengthAdjust="spacingAndGlyphs" ><tspan>Maf</tspan></text>
<line x1="351.80" y1="645.70" x2="351.80" y2="648.10" stroke="#1c1c1c" stroke-width="1.0" />
<text transform="translate(354.30,656.20) rotate(-45)" font-size="8.3" text-anchor="end" fill="#1a1a1a" stroke="#1a1a1a" stroke-width="0.26" textLength="14.0" lengthAdjust="spacingAndGlyphs" ><tspan>CsA</tspan></text>
<line x1="371.40" y1="645.70" x2="371.40" y2="648.10" stroke="#1c1c1c" stroke-width="1.0" />
<text transform="translate(373.90,656.20) rotate(-45)" font-size="8.3" text-anchor="end" fill="#1a1a1a" stroke="#1a1a1a" stroke-width="0.26" textLength="13.6" lengthAdjust="spacingAndGlyphs" ><tspan>Rap</tspan></text>
<text x="341.15" y="569.60" font-size="8.56" text-anchor="middle" fill="#1a1a1a" stroke="#1a1a1a" stroke-width="0.22" textLength="17.7" lengthAdjust="spacingAndGlyphs" ><tspan>MAIT</tspan></text>
<text transform="translate(280.80,615.10) rotate(-90) scale(1,1.28)" font-size="7.2" text-anchor="middle" fill="#111" stroke="#111" stroke-width="0.3" textLength="51.6" lengthAdjust="spacingAndGlyphs" ><tspan>% of CD8</tspan><tspan dy="-2.16" font-size="5.18">+</tspan><tspan dy="2.16"> T cells</tspan></text>
<line x1="310.90" y1="581.50" x2="371.90" y2="581.50" stroke="#5c5c5c" stroke-width="0.9" />
<text x="341.40" y="579.60" font-size="7.6" text-anchor="middle" fill="#3a3a3a" ><tspan>ns</tspan></text>
<line x1="310.90" y1="588.30" x2="352.10" y2="588.30" stroke="#5c5c5c" stroke-width="0.9" />
<text x="331.50" y="586.40" font-size="7.6" text-anchor="middle" fill="#3a3a3a" ><tspan>ns</tspan></text>
<line x1="310.90" y1="594.60" x2="332.60" y2="594.60" stroke="#5c5c5c" stroke-width="0.9" />
<circle cx="321.75" cy="591.70" r="0.95" fill="#222"/>
<line x1="312.90" y1="632.80" x2="312.90" y2="643.90" stroke="#333" stroke-width="1.0" />
<line x1="308.60" y1="632.80" x2="317.20" y2="632.80" stroke="#333" stroke-width="1.0" />
<line x1="308.60" y1="643.90" x2="317.20" y2="643.90" stroke="#333" stroke-width="1.0" />
<rect x="306.40" y="637.00" width="13.00" height="6.90" fill="#a3dba6" />
<line x1="306.40" y1="642.30" x2="319.40" y2="642.30" stroke="#1e1e1e" stroke-width="1.35" />
<circle cx="312.90" cy="632.80" r="1.15" fill="#27b040"/>
<circle cx="312.90" cy="638.58" r="1.15" fill="#27b040"/>
<circle cx="310.95" cy="641.39" r="1.15" fill="#27b040"/>
<circle cx="314.85" cy="641.39" r="1.15" fill="#27b040"/>
<circle cx="310.95" cy="643.52" r="1.15" fill="#27b040"/>
<circle cx="314.85" cy="643.52" r="1.15" fill="#27b040"/>
<line x1="332.10" y1="598.20" x2="332.10" y2="643.90" stroke="#333" stroke-width="1.0" />
<line x1="327.80" y1="598.20" x2="336.40" y2="598.20" stroke="#333" stroke-width="1.0" />
<line x1="327.80" y1="643.90" x2="336.40" y2="643.90" stroke="#333" stroke-width="1.0" />
<rect x="325.60" y="612.50" width="13.00" height="26.50" fill="#e89dac" />
<line x1="325.60" y1="633.30" x2="338.60" y2="633.30" stroke="#1e1e1e" stroke-width="1.35" />
<circle cx="330.15" cy="599.04" r="1.15" fill="#d0102e"/>
<circle cx="334.05" cy="599.04" r="1.15" fill="#d0102e"/>
<circle cx="332.10" cy="605.93" r="1.15" fill="#d0102e"/>
<circle cx="332.10" cy="610.13" r="1.15" fill="#d0102e"/>
<circle cx="332.10" cy="638.92" r="1.15" fill="#d0102e"/>
<circle cx="332.10" cy="643.90" r="1.15" fill="#d0102e"/>
<line x1="351.80" y1="633.30" x2="351.80" y2="643.90" stroke="#333" stroke-width="1.0" />
<line x1="347.50" y1="633.30" x2="356.10" y2="633.30" stroke="#333" stroke-width="1.0" />
<line x1="347.50" y1="643.90" x2="356.10" y2="643.90" stroke="#333" stroke-width="1.0" />
<rect x="345.30" y="634.40" width="13.00" height="9.50" fill="#a2bfdc" />
<line x1="345.30" y1="640.30" x2="358.30" y2="640.30" stroke="#1e1e1e" stroke-width="1.35" />
<circle cx="351.80" cy="633.30" r="1.15" fill="#1b5d9c"/>
<circle cx="351.80" cy="635.71" r="1.15" fill="#1b5d9c"/>
<circle cx="351.80" cy="638.59" r="1.15" fill="#1b5d9c"/>
<circle cx="349.85" cy="640.61" r="1.15" fill="#1b5d9c"/>
<circle cx="353.75" cy="640.61" r="1.15" fill="#1b5d9c"/>
<circle cx="351.80" cy="643.90" r="1.15" fill="#1b5d9c"/>
<line x1="371.40" y1="633.80" x2="371.40" y2="643.90" stroke="#333" stroke-width="1.0" />
<line x1="367.10" y1="633.80" x2="375.70" y2="633.80" stroke="#333" stroke-width="1.0" />
<line x1="367.10" y1="643.90" x2="375.70" y2="643.90" stroke="#333" stroke-width="1.0" />
<rect x="364.90" y="634.90" width="13.00" height="9.00" fill="#c6a5d3" />
<line x1="364.90" y1="640.60" x2="377.90" y2="640.60" stroke="#1e1e1e" stroke-width="1.35" />
<circle cx="369.45" cy="634.08" r="1.15" fill="#5a1872"/>
<circle cx="373.35" cy="634.08" r="1.15" fill="#5a1872"/>
<circle cx="369.45" cy="636.42" r="1.15" fill="#5a1872"/>
<circle cx="373.35" cy="636.42" r="1.15" fill="#5a1872"/>
<circle cx="371.40" cy="638.61" r="1.15" fill="#5a1872"/>
<circle cx="371.40" cy="643.90" r="1.15" fill="#5a1872"/>
<line x1="434.40" y1="584.30" x2="434.40" y2="646.40" stroke="#1c1c1c" stroke-width="1.5" />
<line x1="433.70" y1="645.70" x2="511.70" y2="645.70" stroke="#1c1c1c" stroke-width="1.5" />
<line x1="431.20" y1="587.50" x2="434.40" y2="587.50" stroke="#1c1c1c" stroke-width="1.2" />
<text x="429.00" y="590.50" font-size="8.6" text-anchor="end" fill="#1a1a1a" stroke="#1a1a1a" stroke-width="0.22" textLength="4.6" lengthAdjust="spacingAndGlyphs" ><tspan>6</tspan></text>
<line x1="431.20" y1="606.90" x2="434.40" y2="606.90" stroke="#1c1c1c" stroke-width="1.2" />
<text x="429.00" y="609.90" font-size="8.6" text-anchor="end" fill="#1a1a1a" stroke="#1a1a1a" stroke-width="0.22" textLength="4.6" lengthAdjust="spacingAndGlyphs" ><tspan>4</tspan></text>
<line x1="431.20" y1="626.30" x2="434.40" y2="626.30" stroke="#1c1c1c" stroke-width="1.2" />
<text x="429.00" y="629.30" font-size="8.6" text-anchor="end" fill="#1a1a1a" stroke="#1a1a1a" stroke-width="0.22" textLength="4.6" lengthAdjust="spacingAndGlyphs" ><tspan>2</tspan></text>
<line x1="431.20" y1="645.70" x2="434.40" y2="645.70" stroke="#1c1c1c" stroke-width="1.2" />
<text x="429.00" y="648.70" font-size="8.6" text-anchor="end" fill="#1a1a1a" stroke="#1a1a1a" stroke-width="0.22" textLength="4.6" lengthAdjust="spacingAndGlyphs" ><tspan>0</tspan></text>
<line x1="445.20" y1="645.70" x2="445.20" y2="648.10" stroke="#1c1c1c" stroke-width="1.0" />
<text transform="translate(447.70,656.20) rotate(-45)" font-size="8.3" text-anchor="end" fill="#1a1a1a" stroke="#1a1a1a" stroke-width="0.26" textLength="23.6" lengthAdjust="spacingAndGlyphs" ><tspan>Control</tspan></text>
<line x1="464.70" y1="645.70" x2="464.70" y2="648.10" stroke="#1c1c1c" stroke-width="1.0" />
<text transform="translate(467.20,656.20) rotate(-45)" font-size="8.3" text-anchor="end" fill="#1a1a1a" stroke="#1a1a1a" stroke-width="0.26" textLength="12.5" lengthAdjust="spacingAndGlyphs" ><tspan>Maf</tspan></text>
<line x1="484.30" y1="645.70" x2="484.30" y2="648.10" stroke="#1c1c1c" stroke-width="1.0" />
<text transform="translate(486.80,656.20) rotate(-45)" font-size="8.3" text-anchor="end" fill="#1a1a1a" stroke="#1a1a1a" stroke-width="0.26" textLength="14.0" lengthAdjust="spacingAndGlyphs" ><tspan>CsA</tspan></text>
<line x1="503.60" y1="645.70" x2="503.60" y2="648.10" stroke="#1c1c1c" stroke-width="1.0" />
<text transform="translate(506.10,656.20) rotate(-45)" font-size="8.3" text-anchor="end" fill="#1a1a1a" stroke="#1a1a1a" stroke-width="0.26" textLength="13.6" lengthAdjust="spacingAndGlyphs" ><tspan>Rap</tspan></text>
<text x="473.65" y="569.60" font-size="8.56" text-anchor="middle" fill="#1a1a1a" stroke="#1a1a1a" stroke-width="0.22" textLength="67.3" lengthAdjust="spacingAndGlyphs" ><tspan>CD161</tspan><tspan dy="-2.57" font-size="6.16">+</tspan><tspan dy="2.57"> non-MAIT</tspan></text>
<text transform="translate(418.00,615.10) rotate(-90) scale(1,1.28)" font-size="7.2" text-anchor="middle" fill="#111" stroke="#111" stroke-width="0.3" textLength="51.6" lengthAdjust="spacingAndGlyphs" ><tspan>% of CD8</tspan><tspan dy="-2.16" font-size="5.18">+</tspan><tspan dy="2.16"> T cells</tspan></text>
<line x1="445.00" y1="578.20" x2="506.00" y2="578.20" stroke="#5c5c5c" stroke-width="0.9" />
<circle cx="475.50" cy="575.30" r="0.95" fill="#222"/>
<line x1="445.00" y1="584.30" x2="486.40" y2="584.30" stroke="#5c5c5c" stroke-width="0.9" />
<circle cx="465.70" cy="581.40" r="0.95" fill="#222"/>
<line x1="445.00" y1="591.30" x2="466.80" y2="591.30" stroke="#5c5c5c" stroke-width="0.9" />
<text x="455.90" y="589.40" font-size="7.6" text-anchor="middle" fill="#3a3a3a" ><tspan>ns</tspan></text>
<line x1="445.20" y1="594.90" x2="445.20" y2="642.30" stroke="#333" stroke-width="1.0" />
<line x1="440.90" y1="594.90" x2="449.50" y2="594.90" stroke="#333" stroke-width="1.0" />
<line x1="440.90" y1="642.30" x2="449.50" y2="642.30" stroke="#333" stroke-width="1.0" />
<rect x="438.70" y="609.30" width="13.00" height="30.00" fill="#a3dba6" />
<line x1="438.70" y1="630.80" x2="451.70" y2="630.80" stroke="#1e1e1e" stroke-width="1.35" />
<circle cx="445.20" cy="594.90" r="1.15" fill="#27b040"/>
<circle cx="445.20" cy="601.42" r="1.15" fill="#27b040"/>
<circle cx="445.20" cy="612.93" r="1.15" fill="#27b040"/>
<circle cx="445.20" cy="623.79" r="1.15" fill="#27b040"/>
<circle cx="445.20" cy="626.62" r="1.15" fill="#27b040"/>
<circle cx="445.20" cy="642.30" r="1.15" fill="#27b040"/>
<line x1="464.70" y1="610.90" x2="464.70" y2="643.60" stroke="#333" stroke-width="1.0" />
<line x1="460.40" y1="610.90" x2="469.00" y2="610.90" stroke="#333" stroke-width="1.0" />
<line x1="460.40" y1="643.60" x2="469.00" y2="643.60" stroke="#333" stroke-width="1.0" />
<rect x="458.20" y="621.90" width="13.00" height="10.90" fill="#e89dac" />
<line x1="458.20" y1="627.20" x2="471.20" y2="627.20" stroke="#1e1e1e" stroke-width="1.35" />
<circle cx="464.70" cy="610.90" r="1.15" fill="#d0102e"/>
<circle cx="464.70" cy="628.41" r="1.15" fill="#d0102e"/>
<circle cx="462.75" cy="632.26" r="1.15" fill="#d0102e"/>
<circle cx="466.65" cy="632.26" r="1.15" fill="#d0102e"/>
<circle cx="464.70" cy="634.57" r="1.15" fill="#d0102e"/>
<circle cx="464.70" cy="643.60" r="1.15" fill="#d0102e"/>
<line x1="484.30" y1="642.00" x2="484.30" y2="645.00" stroke="#333" stroke-width="1.0" />
<line x1="480.00" y1="642.00" x2="488.60" y2="642.00" stroke="#333" stroke-width="1.0" />
<line x1="480.00" y1="645.00" x2="488.60" y2="645.00" stroke="#333" stroke-width="1.0" />
<rect x="477.80" y="642.60" width="13.00" height="1.90" fill="#a2bfdc" />
<line x1="477.80" y1="643.50" x2="490.80" y2="643.50" stroke="#1e1e1e" stroke-width="1.35" />
<circle cx="478.45" cy="642.88" r="1.15" fill="#1b5d9c"/>
<circle cx="482.35" cy="642.88" r="1.15" fill="#1b5d9c"/>
<circle cx="486.25" cy="642.88" r="1.15" fill="#1b5d9c"/>
<circle cx="490.15" cy="642.88" r="1.15" fill="#1b5d9c"/>
<circle cx="482.35" cy="644.75" r="1.15" fill="#1b5d9c"/>
<circle cx="486.25" cy="644.75" r="1.15" fill="#1b5d9c"/>
<line x1="503.60" y1="637.40" x2="503.60" y2="645.00" stroke="#333" stroke-width="1.0" />
<line x1="499.30" y1="637.40" x2="507.90" y2="637.40" stroke="#333" stroke-width="1.0" />
<line x1="499.30" y1="645.00" x2="507.90" y2="645.00" stroke="#333" stroke-width="1.0" />
<rect x="497.10" y="641.00" width="13.00" height="2.90" fill="#c6a5d3" />
<line x1="497.10" y1="642.60" x2="510.10" y2="642.60" stroke="#1e1e1e" stroke-width="1.35" />
<circle cx="503.60" cy="637.40" r="1.15" fill="#5a1872"/>
<circle cx="501.65" cy="641.35" r="1.15" fill="#5a1872"/>
<circle cx="505.55" cy="641.35" r="1.15" fill="#5a1872"/>
<circle cx="499.70" cy="644.06" r="1.15" fill="#5a1872"/>
<circle cx="503.60" cy="644.06" r="1.15" fill="#5a1872"/>
<circle cx="507.50" cy="644.06" r="1.15" fill="#5a1872"/>
<text x="6.90" y="15.10" font-size="11.2" text-anchor="start" fill="#000" stroke="#000" stroke-width="0.1" font-weight="bold" ><tspan>A</tspan></text>
<text x="151.40" y="15.10" font-size="11.2" text-anchor="start" fill="#000" stroke="#000" stroke-width="0.1" font-weight="bold" ><tspan>B</tspan></text>
<text x="275.90" y="15.10" font-size="11.2" text-anchor="start" fill="#000" stroke="#000" stroke-width="0.1" font-weight="bold" ><tspan>C</tspan></text>
<text x="398.80" y="15.10" font-size="11.2" text-anchor="start" fill="#000" stroke="#000" stroke-width="0.1" font-weight="bold" ><tspan>D</tspan></text>
<text x="6.90" y="181.60" font-size="11.2" text-anchor="start" fill="#000" stroke="#000" stroke-width="0.1" font-weight="bold" ><tspan>E</tspan></text>
<text x="7.20" y="304.90" font-size="11.2" text-anchor="start" fill="#000" stroke="#000" stroke-width="0.1" font-weight="bold" ><tspan>F</tspan></text>
<text x="7.20" y="450.40" font-size="11.2" text-anchor="start" fill="#000" stroke="#000" stroke-width="0.1" font-weight="bold" ><tspan>G</tspan></text>
<text x="7.60" y="569.50" font-size="11.2" text-anchor="start" fill="#000" stroke="#000" stroke-width="0.1" font-weight="bold" ><tspan>H</tspan></text>
<text x="142.60" y="569.50" font-size="11.2" text-anchor="start" fill="#000" stroke="#000" stroke-width="0.1" font-weight="bold" ><tspan>I</tspan></text>
<text x="233.00" y="168.90" font-size="8.9" text-anchor="start" fill="#000" stroke="#000" stroke-width="0.05" font-weight="bold" textLength="53.8" lengthAdjust="spacingAndGlyphs" ><tspan>Total counts</tspan></text>
<text x="232.30" y="436.90" font-size="8.9" text-anchor="start" fill="#000" stroke="#000" stroke-width="0.05" font-weight="bold" textLength="54.9" lengthAdjust="spacingAndGlyphs" ><tspan>Percentages</tspan></text>
<rect x="0.55" y="0.55" width="518.9" height="676.9" fill="none" stroke="#000" stroke-width="1.1"/>
</svg>
</body></html>
